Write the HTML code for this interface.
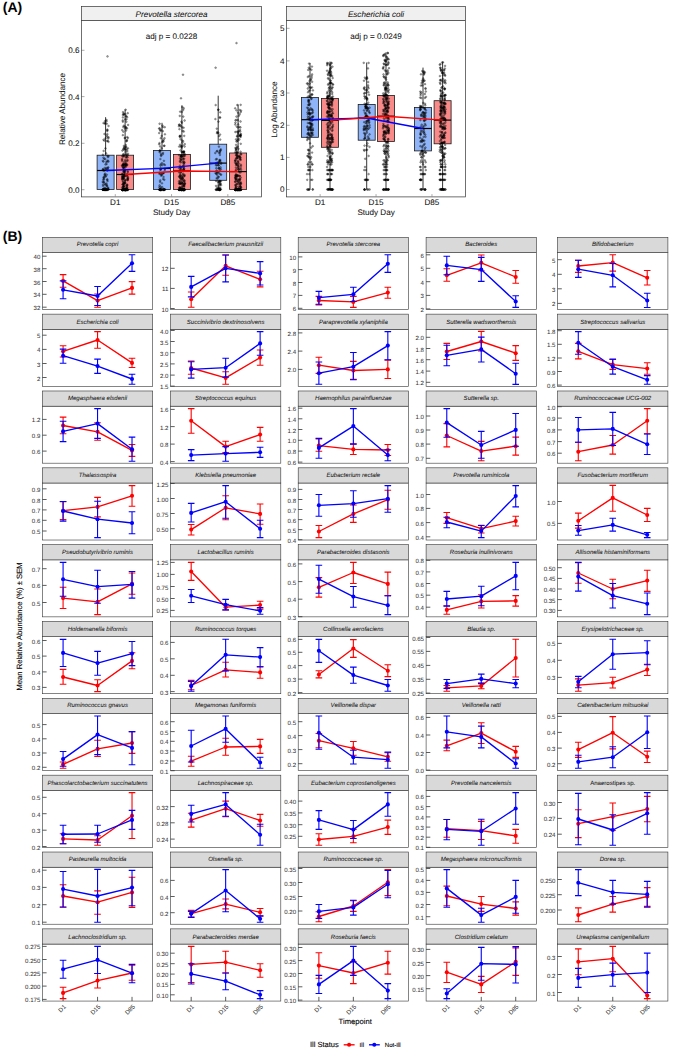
<!DOCTYPE html>
<html><head><meta charset="utf-8"><style>
html,body{margin:0;padding:0;background:#fff;}
svg{display:block;}
text{font-family:"Liberation Sans", sans-serif;text-rendering:geometricPrecision;}
.tk{font-size:6.1px;fill:#333;stroke:#333;stroke-width:0.04px;}
.st{font-size:6.05px;fill:#1a1a1a;font-style:italic;stroke:#1a1a1a;stroke-width:0.06px;}
.ta{font-size:8.1px;fill:#111;stroke:#111;stroke-width:0.06px;}
.sa{font-size:8.1px;fill:#111;font-style:italic;stroke:#111;stroke-width:0.05px;}
.up{font-style:normal;}
.lab{font-size:14px;font-weight:bold;fill:#000;}
.ax{font-size:7.65px;fill:#000;stroke:#000;stroke-width:0.1px;}
.lg{font-size:7.5px;fill:#000;stroke:#000;stroke-width:0.1px;}
.lt{font-size:6.1px;fill:#000;stroke:#000;stroke-width:0.1px;}
</style></head><body>
<svg width="685" height="1048" viewBox="0 0 685 1048">
<rect width="685" height="1048" fill="#fff"/>
<rect x="81.5" y="20.6" width="180.1" height="176.3" fill="#fff"/>
<rect x="286.6" y="20.6" width="178.9" height="176.3" fill="#fff"/>
<line x1="81.5" y1="189.7" x2="84.5" y2="189.7" stroke="#888" stroke-width="0.7"/>
<text x="79.5" y="192.6" class="ta" text-anchor="end">0.0</text>
<line x1="81.5" y1="143.3" x2="84.5" y2="143.3" stroke="#888" stroke-width="0.7"/>
<text x="79.5" y="146.2" class="ta" text-anchor="end">0.2</text>
<line x1="81.5" y1="96.6" x2="84.5" y2="96.6" stroke="#888" stroke-width="0.7"/>
<text x="79.5" y="99.5" class="ta" text-anchor="end">0.4</text>
<line x1="81.5" y1="50.3" x2="84.5" y2="50.3" stroke="#888" stroke-width="0.7"/>
<text x="79.5" y="53.2" class="ta" text-anchor="end">0.6</text>
<line x1="286.6" y1="189.5" x2="289.6" y2="189.5" stroke="#888" stroke-width="0.7"/>
<text x="284.6" y="192.4" class="ta" text-anchor="end">0</text>
<line x1="286.6" y1="157.4" x2="289.6" y2="157.4" stroke="#888" stroke-width="0.7"/>
<text x="284.6" y="160.3" class="ta" text-anchor="end">1</text>
<line x1="286.6" y1="125.3" x2="289.6" y2="125.3" stroke="#888" stroke-width="0.7"/>
<text x="284.6" y="128.2" class="ta" text-anchor="end">2</text>
<line x1="286.6" y1="93" x2="289.6" y2="93" stroke="#888" stroke-width="0.7"/>
<text x="284.6" y="95.9" class="ta" text-anchor="end">3</text>
<line x1="286.6" y1="60.9" x2="289.6" y2="60.9" stroke="#888" stroke-width="0.7"/>
<text x="284.6" y="63.8" class="ta" text-anchor="end">4</text>
<line x1="286.6" y1="28.3" x2="289.6" y2="28.3" stroke="#888" stroke-width="0.7"/>
<text x="284.6" y="31.2" class="ta" text-anchor="end">5</text>
<line x1="105.6" y1="117.2" x2="105.6" y2="189.7" stroke="#000" stroke-width="0.8"/>
<rect x="97.1" y="155.2" width="17" height="34.2" fill="#8fb4f7" stroke="#1a1a1a" stroke-width="0.8"/>
<g fill="#000" fill-opacity="0.35" stroke="#000" stroke-opacity="0.75" stroke-width="0.35"><circle cx="104.54" cy="189.49" r="0.9"/><circle cx="106.51" cy="189.44" r="0.9"/><circle cx="105.82" cy="189.62" r="0.9"/><circle cx="102.95" cy="189.7" r="0.9"/><circle cx="102.82" cy="189.66" r="0.9"/><circle cx="103.02" cy="189.45" r="0.9"/><circle cx="105.15" cy="189.9" r="0.9"/><circle cx="103.34" cy="189.53" r="0.9"/><circle cx="106.36" cy="189.97" r="0.9"/><circle cx="106.06" cy="189.64" r="0.9"/><circle cx="108.46" cy="189.43" r="0.9"/><circle cx="107.75" cy="189.57" r="0.9"/><circle cx="103.47" cy="189.47" r="0.9"/><circle cx="104.45" cy="189.89" r="0.9"/><circle cx="103.68" cy="189.75" r="0.9"/><circle cx="106.43" cy="189.62" r="0.9"/><circle cx="105.89" cy="189.44" r="0.9"/><circle cx="102.96" cy="189.52" r="0.9"/><circle cx="106.68" cy="189.66" r="0.9"/><circle cx="104.48" cy="189.75" r="0.9"/><circle cx="105.32" cy="189.58" r="0.9"/><circle cx="107.37" cy="189.82" r="0.9"/><circle cx="104.06" cy="189.74" r="0.9"/><circle cx="105.75" cy="189.93" r="0.9"/><circle cx="106.98" cy="189.57" r="0.9"/><circle cx="108.48" cy="189.47" r="0.9"/><circle cx="105.11" cy="189.85" r="0.9"/><circle cx="103.51" cy="189.69" r="0.9"/><circle cx="102.84" cy="189.8" r="0.9"/><circle cx="107.19" cy="189.74" r="0.9"/><circle cx="104.48" cy="134.02" r="0.9"/><circle cx="106.17" cy="153.43" r="0.9"/><circle cx="105.34" cy="159.18" r="0.9"/><circle cx="108.27" cy="138.42" r="0.9"/><circle cx="106.58" cy="164.04" r="0.9"/><circle cx="106.81" cy="185.96" r="0.9"/><circle cx="108.56" cy="156.1" r="0.9"/><circle cx="104.31" cy="140.58" r="0.9"/><circle cx="106.61" cy="168.09" r="0.9"/><circle cx="105.37" cy="188.12" r="0.9"/><circle cx="103.3" cy="179.87" r="0.9"/><circle cx="107.21" cy="186.06" r="0.9"/><circle cx="104.09" cy="182.07" r="0.9"/><circle cx="107.83" cy="167.86" r="0.9"/><circle cx="105.3" cy="184.83" r="0.9"/><circle cx="107.9" cy="160.58" r="0.9"/><circle cx="107.78" cy="140.89" r="0.9"/><circle cx="105.09" cy="173.61" r="0.9"/><circle cx="107.91" cy="169.33" r="0.9"/><circle cx="103.51" cy="123.12" r="0.9"/><circle cx="103.99" cy="179.41" r="0.9"/><circle cx="105.51" cy="176.17" r="0.9"/><circle cx="104.18" cy="158.76" r="0.9"/><circle cx="105.11" cy="189.17" r="0.9"/><circle cx="106" cy="168.85" r="0.9"/><circle cx="106.74" cy="123.76" r="0.9"/><circle cx="106.31" cy="162.14" r="0.9"/><circle cx="102.92" cy="154.75" r="0.9"/><circle cx="107.28" cy="130.93" r="0.9"/><circle cx="107.39" cy="134.14" r="0.9"/><circle cx="104.99" cy="167.79" r="0.9"/><circle cx="106.41" cy="183.53" r="0.9"/><circle cx="103" cy="185.87" r="0.9"/><circle cx="103.57" cy="177.56" r="0.9"/><circle cx="102.92" cy="170.19" r="0.9"/><circle cx="103.51" cy="189.39" r="0.9"/><circle cx="104.78" cy="183.65" r="0.9"/><circle cx="107.85" cy="187.95" r="0.9"/><circle cx="103.49" cy="157.61" r="0.9"/><circle cx="104.68" cy="175.1" r="0.9"/><circle cx="103.34" cy="169.08" r="0.9"/><circle cx="108.56" cy="137.33" r="0.9"/><circle cx="105.5" cy="164.41" r="0.9"/><circle cx="103.21" cy="184.53" r="0.9"/><circle cx="104.19" cy="170.07" r="0.9"/><circle cx="103.57" cy="139.76" r="0.9"/><circle cx="108.31" cy="188.09" r="0.9"/><circle cx="103.48" cy="161.55" r="0.9"/><circle cx="102.76" cy="160.87" r="0.9"/><circle cx="108.47" cy="161.56" r="0.9"/><circle cx="106.78" cy="135.55" r="0.9"/><circle cx="104.8" cy="174.59" r="0.9"/><circle cx="107.23" cy="179.93" r="0.9"/><circle cx="107.27" cy="161.35" r="0.9"/><circle cx="103.94" cy="170.71" r="0.9"/><circle cx="108.51" cy="141.79" r="0.9"/><circle cx="107.44" cy="136.88" r="0.9"/><circle cx="107.04" cy="141" r="0.9"/><circle cx="105.71" cy="176.54" r="0.9"/><circle cx="102.77" cy="169.48" r="0.9"/><circle cx="104.28" cy="187.82" r="0.9"/><circle cx="106.76" cy="174.7" r="0.9"/><circle cx="105.28" cy="123.29" r="0.9"/><circle cx="108.53" cy="125.95" r="0.9"/><circle cx="104.79" cy="123.5" r="0.9"/><circle cx="103.96" cy="176.9" r="0.9"/><circle cx="103.83" cy="178.25" r="0.9"/><circle cx="108" cy="157.16" r="0.9"/><circle cx="105.48" cy="138.37" r="0.9"/><circle cx="107.4" cy="155.83" r="0.9"/><circle cx="106.56" cy="184.59" r="0.9"/><circle cx="107.29" cy="129.59" r="0.9"/><circle cx="105.47" cy="148.47" r="0.9"/><circle cx="107.33" cy="179.28" r="0.9"/><circle cx="107.4" cy="170.55" r="0.9"/><circle cx="104.98" cy="121.19" r="0.9"/><circle cx="108.28" cy="167.38" r="0.9"/><circle cx="103.62" cy="150.92" r="0.9"/><circle cx="103.51" cy="182.2" r="0.9"/><circle cx="107.44" cy="130.24" r="0.9"/><circle cx="107.56" cy="181.11" r="0.9"/><circle cx="106.54" cy="119.99" r="0.9"/><circle cx="105.89" cy="169.72" r="0.9"/><circle cx="102.69" cy="181.97" r="0.9"/><circle cx="106.5" cy="121.3" r="0.9"/><circle cx="107.5" cy="56.4" r="0.9"/></g>
<line x1="97.1" y1="170.5" x2="114.1" y2="170.5" stroke="#000" stroke-width="1.2"/>
<line x1="125.1" y1="109.5" x2="125.1" y2="189.7" stroke="#000" stroke-width="0.8"/>
<rect x="116.6" y="155.2" width="17" height="34.2" fill="#f88a8a" stroke="#1a1a1a" stroke-width="0.8"/>
<g fill="#000" fill-opacity="0.35" stroke="#000" stroke-opacity="0.75" stroke-width="0.35"><circle cx="125.26" cy="189.96" r="0.9"/><circle cx="124.7" cy="189.92" r="0.9"/><circle cx="127.06" cy="189.53" r="0.9"/><circle cx="123.61" cy="189.58" r="0.9"/><circle cx="123.54" cy="189.75" r="0.9"/><circle cx="123.66" cy="189.65" r="0.9"/><circle cx="122.89" cy="189.95" r="0.9"/><circle cx="124.22" cy="189.67" r="0.9"/><circle cx="125.6" cy="189.94" r="0.9"/><circle cx="124.62" cy="189.95" r="0.9"/><circle cx="125.11" cy="189.72" r="0.9"/><circle cx="125.24" cy="189.41" r="0.9"/><circle cx="124.74" cy="189.51" r="0.9"/><circle cx="122.12" cy="189.88" r="0.9"/><circle cx="123.13" cy="189.68" r="0.9"/><circle cx="126.45" cy="189.73" r="0.9"/><circle cx="124.06" cy="189.71" r="0.9"/><circle cx="125.43" cy="189.87" r="0.9"/><circle cx="122.74" cy="189.74" r="0.9"/><circle cx="123.59" cy="189.57" r="0.9"/><circle cx="126.73" cy="189.7" r="0.9"/><circle cx="125.47" cy="189.86" r="0.9"/><circle cx="127.57" cy="189.67" r="0.9"/><circle cx="125.78" cy="189.7" r="0.9"/><circle cx="125.17" cy="189.82" r="0.9"/><circle cx="124.81" cy="189.72" r="0.9"/><circle cx="124.97" cy="189.96" r="0.9"/><circle cx="126.3" cy="189.93" r="0.9"/><circle cx="127.75" cy="189.56" r="0.9"/><circle cx="125.46" cy="189.97" r="0.9"/><circle cx="127.14" cy="189.48" r="0.9"/><circle cx="122.83" cy="189.67" r="0.9"/><circle cx="122.54" cy="189.54" r="0.9"/><circle cx="122.54" cy="189.8" r="0.9"/><circle cx="126.8" cy="189.94" r="0.9"/><circle cx="123.03" cy="189.83" r="0.9"/><circle cx="126.06" cy="189.49" r="0.9"/><circle cx="127.4" cy="189.98" r="0.9"/><circle cx="123.42" cy="189.97" r="0.9"/><circle cx="124.49" cy="189.69" r="0.9"/><circle cx="128.04" cy="189.9" r="0.9"/><circle cx="123.07" cy="189.66" r="0.9"/><circle cx="125.19" cy="189.6" r="0.9"/><circle cx="123.27" cy="189.59" r="0.9"/><circle cx="126.43" cy="189.41" r="0.9"/><circle cx="125.42" cy="189.66" r="0.9"/><circle cx="122.21" cy="189.6" r="0.9"/><circle cx="125.84" cy="189.71" r="0.9"/><circle cx="122.49" cy="189.99" r="0.9"/><circle cx="126.83" cy="189.98" r="0.9"/><circle cx="122.73" cy="189.56" r="0.9"/><circle cx="122.34" cy="189.87" r="0.9"/><circle cx="123.72" cy="189.48" r="0.9"/><circle cx="124.63" cy="189.95" r="0.9"/><circle cx="127.01" cy="189.56" r="0.9"/><circle cx="123" cy="189.95" r="0.9"/><circle cx="125.52" cy="189.82" r="0.9"/><circle cx="122.64" cy="189.43" r="0.9"/><circle cx="126.23" cy="189.66" r="0.9"/><circle cx="122.53" cy="189.96" r="0.9"/><circle cx="125.91" cy="189.88" r="0.9"/><circle cx="122.6" cy="189.91" r="0.9"/><circle cx="122.5" cy="189.92" r="0.9"/><circle cx="124.82" cy="189.6" r="0.9"/><circle cx="125.42" cy="189.96" r="0.9"/><circle cx="122.88" cy="177.43" r="0.9"/><circle cx="123.53" cy="163.29" r="0.9"/><circle cx="123.07" cy="184.51" r="0.9"/><circle cx="123.31" cy="187.15" r="0.9"/><circle cx="123.93" cy="175.45" r="0.9"/><circle cx="123.84" cy="145.95" r="0.9"/><circle cx="123.17" cy="164.84" r="0.9"/><circle cx="122.21" cy="173.71" r="0.9"/><circle cx="122.19" cy="178.2" r="0.9"/><circle cx="125.41" cy="149.12" r="0.9"/><circle cx="124.95" cy="180.93" r="0.9"/><circle cx="122.74" cy="120.41" r="0.9"/><circle cx="124.69" cy="138.04" r="0.9"/><circle cx="127.11" cy="165.14" r="0.9"/><circle cx="125.14" cy="171.04" r="0.9"/><circle cx="127.99" cy="153.75" r="0.9"/><circle cx="127.09" cy="173.96" r="0.9"/><circle cx="125.92" cy="151.97" r="0.9"/><circle cx="124.19" cy="170.37" r="0.9"/><circle cx="122.88" cy="186.97" r="0.9"/><circle cx="126.55" cy="186.24" r="0.9"/><circle cx="123.08" cy="177.97" r="0.9"/><circle cx="127.15" cy="185.62" r="0.9"/><circle cx="126.12" cy="130.48" r="0.9"/><circle cx="123.55" cy="176.8" r="0.9"/><circle cx="124.86" cy="176.3" r="0.9"/><circle cx="124.77" cy="182.36" r="0.9"/><circle cx="127.87" cy="177.63" r="0.9"/><circle cx="125.38" cy="114.14" r="0.9"/><circle cx="127.89" cy="178.47" r="0.9"/><circle cx="124.24" cy="175.56" r="0.9"/><circle cx="124.39" cy="189.35" r="0.9"/><circle cx="125.12" cy="166.32" r="0.9"/><circle cx="125.13" cy="180.42" r="0.9"/><circle cx="123.69" cy="189.18" r="0.9"/><circle cx="124.5" cy="185.39" r="0.9"/><circle cx="122.23" cy="187.54" r="0.9"/><circle cx="123.5" cy="175.8" r="0.9"/><circle cx="125.28" cy="159.89" r="0.9"/><circle cx="126.05" cy="147.06" r="0.9"/><circle cx="127.37" cy="151.01" r="0.9"/><circle cx="124.06" cy="171.25" r="0.9"/><circle cx="123" cy="112.1" r="0.9"/><circle cx="125.96" cy="150.12" r="0.9"/><circle cx="127.11" cy="187.44" r="0.9"/><circle cx="125.86" cy="127.2" r="0.9"/><circle cx="126.97" cy="149.03" r="0.9"/><circle cx="125.24" cy="183.17" r="0.9"/><circle cx="127.11" cy="164.6" r="0.9"/><circle cx="127.06" cy="140.02" r="0.9"/><circle cx="127.46" cy="159.98" r="0.9"/><circle cx="126.26" cy="154.15" r="0.9"/><circle cx="122.29" cy="179.12" r="0.9"/><circle cx="124.26" cy="183.45" r="0.9"/><circle cx="127.11" cy="184.71" r="0.9"/><circle cx="125.87" cy="161.46" r="0.9"/><circle cx="126.18" cy="157.54" r="0.9"/><circle cx="122.12" cy="165.47" r="0.9"/><circle cx="126.59" cy="140.98" r="0.9"/><circle cx="125.31" cy="164.68" r="0.9"/><circle cx="122.5" cy="155.63" r="0.9"/><circle cx="123.61" cy="148.69" r="0.9"/><circle cx="123.69" cy="186.07" r="0.9"/><circle cx="123.33" cy="149.54" r="0.9"/><circle cx="127.95" cy="148.33" r="0.9"/><circle cx="124.4" cy="165.2" r="0.9"/><circle cx="126.2" cy="166.07" r="0.9"/><circle cx="125.8" cy="145.01" r="0.9"/><circle cx="122.56" cy="156.58" r="0.9"/><circle cx="123.62" cy="182.81" r="0.9"/><circle cx="123.93" cy="147.93" r="0.9"/><circle cx="122.17" cy="160.93" r="0.9"/><circle cx="123.71" cy="186.69" r="0.9"/><circle cx="126.25" cy="154.94" r="0.9"/><circle cx="123.85" cy="154.7" r="0.9"/><circle cx="124.89" cy="163.89" r="0.9"/><circle cx="122.81" cy="166.8" r="0.9"/><circle cx="123.3" cy="126.93" r="0.9"/><circle cx="127.72" cy="113.22" r="0.9"/><circle cx="124.85" cy="188.62" r="0.9"/><circle cx="127.91" cy="137.9" r="0.9"/><circle cx="123.71" cy="167.78" r="0.9"/><circle cx="127.77" cy="180.02" r="0.9"/><circle cx="125.59" cy="179.98" r="0.9"/><circle cx="125.24" cy="183.06" r="0.9"/><circle cx="122.9" cy="117.45" r="0.9"/><circle cx="125.15" cy="137.86" r="0.9"/><circle cx="126.32" cy="127.98" r="0.9"/><circle cx="127.49" cy="179.06" r="0.9"/><circle cx="122.25" cy="165.65" r="0.9"/><circle cx="125.05" cy="189.24" r="0.9"/><circle cx="123.91" cy="167.7" r="0.9"/><circle cx="124.16" cy="183.11" r="0.9"/><circle cx="127.14" cy="175.27" r="0.9"/><circle cx="126.6" cy="189.32" r="0.9"/><circle cx="122.82" cy="135.15" r="0.9"/><circle cx="126.38" cy="121.74" r="0.9"/><circle cx="123.84" cy="125.69" r="0.9"/><circle cx="124.46" cy="172.25" r="0.9"/><circle cx="125.64" cy="109.71" r="0.9"/><circle cx="124.67" cy="172.91" r="0.9"/><circle cx="122.39" cy="177.1" r="0.9"/><circle cx="127.11" cy="184.85" r="0.9"/><circle cx="127.71" cy="176.63" r="0.9"/><circle cx="123.69" cy="178.26" r="0.9"/><circle cx="123.24" cy="164.22" r="0.9"/><circle cx="127.84" cy="172.18" r="0.9"/><circle cx="126.97" cy="128.38" r="0.9"/><circle cx="127.58" cy="157.27" r="0.9"/><circle cx="125.4" cy="119.43" r="0.9"/><circle cx="122.4" cy="150.62" r="0.9"/><circle cx="124.81" cy="149.2" r="0.9"/><circle cx="125.97" cy="146.8" r="0.9"/><circle cx="122.39" cy="176.61" r="0.9"/><circle cx="122.86" cy="121.68" r="0.9"/><circle cx="124.16" cy="166.46" r="0.9"/><circle cx="126.53" cy="176.09" r="0.9"/><circle cx="123.66" cy="113.53" r="0.9"/><circle cx="123.91" cy="155.82" r="0.9"/><circle cx="124.47" cy="161.53" r="0.9"/><circle cx="123.07" cy="181.92" r="0.9"/><circle cx="127.54" cy="180.11" r="0.9"/><circle cx="123.42" cy="165.02" r="0.9"/><circle cx="128.08" cy="124.95" r="0.9"/><circle cx="122.94" cy="167.75" r="0.9"/><circle cx="122.64" cy="180.8" r="0.9"/><circle cx="122.65" cy="174" r="0.9"/><circle cx="123.65" cy="178.71" r="0.9"/><circle cx="127.42" cy="160.82" r="0.9"/><circle cx="124.58" cy="147.16" r="0.9"/><circle cx="125.25" cy="169.84" r="0.9"/><circle cx="124.13" cy="171.98" r="0.9"/><circle cx="123.77" cy="186.63" r="0.9"/><circle cx="122.86" cy="114.97" r="0.9"/><circle cx="125.88" cy="164.65" r="0.9"/><circle cx="123.4" cy="131.64" r="0.9"/><circle cx="123.59" cy="177.29" r="0.9"/><circle cx="124.78" cy="170.65" r="0.9"/><circle cx="127.19" cy="117.25" r="0.9"/><circle cx="122.23" cy="130.12" r="0.9"/><circle cx="126.36" cy="187.96" r="0.9"/><circle cx="124.94" cy="126.61" r="0.9"/><circle cx="122.1" cy="159.8" r="0.9"/><circle cx="127.66" cy="171.13" r="0.9"/><circle cx="127.23" cy="137.09" r="0.9"/><circle cx="123.59" cy="114.21" r="0.9"/><circle cx="123.03" cy="184.53" r="0.9"/><circle cx="126.19" cy="163.56" r="0.9"/><circle cx="126.43" cy="119.3" r="0.9"/><circle cx="126.69" cy="156.32" r="0.9"/><circle cx="125.41" cy="167.32" r="0.9"/><circle cx="126.79" cy="187.63" r="0.9"/><circle cx="127.62" cy="179" r="0.9"/><circle cx="123.92" cy="156.43" r="0.9"/><circle cx="123.61" cy="183.68" r="0.9"/><circle cx="126.29" cy="156.96" r="0.9"/><circle cx="122.52" cy="184.39" r="0.9"/><circle cx="125.6" cy="163.44" r="0.9"/><circle cx="123.44" cy="171.33" r="0.9"/><circle cx="122.16" cy="159" r="0.9"/><circle cx="124.86" cy="175.92" r="0.9"/><circle cx="125.97" cy="116.42" r="0.9"/><circle cx="124.95" cy="128.46" r="0.9"/><circle cx="123.58" cy="178.91" r="0.9"/><circle cx="126.33" cy="116.15" r="0.9"/><circle cx="122.23" cy="175.66" r="0.9"/><circle cx="126.15" cy="164.95" r="0.9"/><circle cx="123.64" cy="169.48" r="0.9"/><circle cx="127.65" cy="155.18" r="0.9"/><circle cx="122.3" cy="179.26" r="0.9"/><circle cx="124.62" cy="174.23" r="0.9"/><circle cx="123.29" cy="154.18" r="0.9"/><circle cx="126.53" cy="141.06" r="0.9"/><circle cx="123.33" cy="164.57" r="0.9"/><circle cx="123.97" cy="114.61" r="0.9"/></g>
<line x1="116.6" y1="174.5" x2="133.6" y2="174.5" stroke="#000" stroke-width="1.2"/>
<line x1="162" y1="122.8" x2="162" y2="189.7" stroke="#000" stroke-width="0.8"/>
<rect x="153.5" y="150.5" width="17" height="38.9" fill="#8fb4f7" stroke="#1a1a1a" stroke-width="0.8"/>
<g fill="#000" fill-opacity="0.35" stroke="#000" stroke-opacity="0.75" stroke-width="0.35"><circle cx="163.92" cy="189.54" r="0.9"/><circle cx="160.33" cy="189.86" r="0.9"/><circle cx="160.77" cy="189.97" r="0.9"/><circle cx="161.97" cy="189.51" r="0.9"/><circle cx="160.34" cy="189.65" r="0.9"/><circle cx="162.99" cy="189.97" r="0.9"/><circle cx="159.88" cy="189.64" r="0.9"/><circle cx="160.28" cy="189.98" r="0.9"/><circle cx="159.85" cy="189.43" r="0.9"/><circle cx="159.36" cy="189.64" r="0.9"/><circle cx="164.39" cy="189.93" r="0.9"/><circle cx="163.4" cy="190" r="0.9"/><circle cx="164.59" cy="189.6" r="0.9"/><circle cx="160.11" cy="189.96" r="0.9"/><circle cx="163.48" cy="189.42" r="0.9"/><circle cx="162.99" cy="189.63" r="0.9"/><circle cx="161.24" cy="189.6" r="0.9"/><circle cx="160.02" cy="189.4" r="0.9"/><circle cx="160.68" cy="189.61" r="0.9"/><circle cx="164.73" cy="189.47" r="0.9"/><circle cx="164.79" cy="189.52" r="0.9"/><circle cx="161.14" cy="189.89" r="0.9"/><circle cx="163.93" cy="189.66" r="0.9"/><circle cx="159.3" cy="189.68" r="0.9"/><circle cx="161.24" cy="189.95" r="0.9"/><circle cx="160.16" cy="189.62" r="0.9"/><circle cx="159.18" cy="133.05" r="0.9"/><circle cx="163.87" cy="164.24" r="0.9"/><circle cx="159.24" cy="144.35" r="0.9"/><circle cx="159.38" cy="187.2" r="0.9"/><circle cx="160.54" cy="130.84" r="0.9"/><circle cx="164.39" cy="145.8" r="0.9"/><circle cx="160.63" cy="168.09" r="0.9"/><circle cx="162.7" cy="127.12" r="0.9"/><circle cx="163.3" cy="172.88" r="0.9"/><circle cx="160.65" cy="169.46" r="0.9"/><circle cx="163.53" cy="189.16" r="0.9"/><circle cx="162.8" cy="131.19" r="0.9"/><circle cx="159.15" cy="128.56" r="0.9"/><circle cx="161.85" cy="174.67" r="0.9"/><circle cx="164.72" cy="127.21" r="0.9"/><circle cx="160.51" cy="165.54" r="0.9"/><circle cx="161.96" cy="163.21" r="0.9"/><circle cx="160.1" cy="130.06" r="0.9"/><circle cx="163.43" cy="141.48" r="0.9"/><circle cx="163.64" cy="139.77" r="0.9"/><circle cx="160.97" cy="153.69" r="0.9"/><circle cx="161.17" cy="169.27" r="0.9"/><circle cx="159.47" cy="143.13" r="0.9"/><circle cx="163.52" cy="176.97" r="0.9"/><circle cx="159.39" cy="173.82" r="0.9"/><circle cx="162.32" cy="187.27" r="0.9"/><circle cx="164.88" cy="168.88" r="0.9"/><circle cx="164.93" cy="134.32" r="0.9"/><circle cx="159.5" cy="172.71" r="0.9"/><circle cx="161.99" cy="183.33" r="0.9"/><circle cx="161.68" cy="148.35" r="0.9"/><circle cx="161.5" cy="174.65" r="0.9"/><circle cx="163.04" cy="152.99" r="0.9"/><circle cx="164.08" cy="145.75" r="0.9"/><circle cx="159.73" cy="150.62" r="0.9"/><circle cx="160.76" cy="138.19" r="0.9"/><circle cx="161.24" cy="155.86" r="0.9"/><circle cx="160.2" cy="146.46" r="0.9"/><circle cx="160.47" cy="173.81" r="0.9"/><circle cx="164.31" cy="179.74" r="0.9"/><circle cx="160.96" cy="155.25" r="0.9"/><circle cx="164.95" cy="165.03" r="0.9"/><circle cx="160.39" cy="159.06" r="0.9"/><circle cx="162.92" cy="140.99" r="0.9"/><circle cx="159.61" cy="123.74" r="0.9"/><circle cx="163.91" cy="160.81" r="0.9"/><circle cx="164.49" cy="138.22" r="0.9"/><circle cx="160.76" cy="186.86" r="0.9"/><circle cx="160.14" cy="181.89" r="0.9"/><circle cx="162.5" cy="125.58" r="0.9"/><circle cx="161.23" cy="129.85" r="0.9"/><circle cx="161.69" cy="135.92" r="0.9"/><circle cx="163.67" cy="173.02" r="0.9"/><circle cx="159.63" cy="128.32" r="0.9"/><circle cx="162.72" cy="154.29" r="0.9"/><circle cx="161.21" cy="175.69" r="0.9"/><circle cx="160.22" cy="180.49" r="0.9"/><circle cx="162.6" cy="173.34" r="0.9"/><circle cx="160.22" cy="151.31" r="0.9"/><circle cx="160.96" cy="188.68" r="0.9"/><circle cx="160.11" cy="150.08" r="0.9"/><circle cx="160.22" cy="169.73" r="0.9"/><circle cx="162.29" cy="142.08" r="0.9"/><circle cx="159.61" cy="185.41" r="0.9"/><circle cx="162.3" cy="165.07" r="0.9"/><circle cx="159.55" cy="151.98" r="0.9"/><circle cx="163.17" cy="179.09" r="0.9"/><circle cx="160.7" cy="164.29" r="0.9"/><circle cx="164.72" cy="170.02" r="0.9"/></g>
<line x1="153.5" y1="168.4" x2="170.5" y2="168.4" stroke="#000" stroke-width="1.2"/>
<line x1="181.9" y1="105.3" x2="181.9" y2="189.7" stroke="#000" stroke-width="0.8"/>
<rect x="173.4" y="154.4" width="17" height="35" fill="#f88a8a" stroke="#1a1a1a" stroke-width="0.8"/>
<g fill="#000" fill-opacity="0.35" stroke="#000" stroke-opacity="0.75" stroke-width="0.35"><circle cx="180.77" cy="189.74" r="0.9"/><circle cx="181.04" cy="189.65" r="0.9"/><circle cx="184.09" cy="190" r="0.9"/><circle cx="181.08" cy="189.52" r="0.9"/><circle cx="183.27" cy="189.52" r="0.9"/><circle cx="178.94" cy="189.94" r="0.9"/><circle cx="181.44" cy="189.89" r="0.9"/><circle cx="181.34" cy="189.93" r="0.9"/><circle cx="181.67" cy="189.5" r="0.9"/><circle cx="178.99" cy="189.73" r="0.9"/><circle cx="182.74" cy="189.95" r="0.9"/><circle cx="179.43" cy="189.77" r="0.9"/><circle cx="181.13" cy="189.7" r="0.9"/><circle cx="179.78" cy="189.57" r="0.9"/><circle cx="182.03" cy="189.96" r="0.9"/><circle cx="179.55" cy="189.69" r="0.9"/><circle cx="183.73" cy="189.98" r="0.9"/><circle cx="180.08" cy="189.48" r="0.9"/><circle cx="184.56" cy="189.99" r="0.9"/><circle cx="181.8" cy="189.43" r="0.9"/><circle cx="184.46" cy="189.63" r="0.9"/><circle cx="184.33" cy="189.77" r="0.9"/><circle cx="183.85" cy="189.5" r="0.9"/><circle cx="183.61" cy="189.53" r="0.9"/><circle cx="181.33" cy="189.91" r="0.9"/><circle cx="183.88" cy="189.51" r="0.9"/><circle cx="180.21" cy="189.64" r="0.9"/><circle cx="182.01" cy="189.63" r="0.9"/><circle cx="179.64" cy="189.55" r="0.9"/><circle cx="183.25" cy="189.94" r="0.9"/><circle cx="179.15" cy="189.74" r="0.9"/><circle cx="183.44" cy="189.42" r="0.9"/><circle cx="183.93" cy="189.47" r="0.9"/><circle cx="182.5" cy="189.73" r="0.9"/><circle cx="182.66" cy="189.58" r="0.9"/><circle cx="181.42" cy="189.75" r="0.9"/><circle cx="181.45" cy="189.8" r="0.9"/><circle cx="181.58" cy="189.66" r="0.9"/><circle cx="179.04" cy="189.77" r="0.9"/><circle cx="181.84" cy="189.54" r="0.9"/><circle cx="183.48" cy="189.87" r="0.9"/><circle cx="181.65" cy="189.51" r="0.9"/><circle cx="181.74" cy="189.46" r="0.9"/><circle cx="179.67" cy="189.66" r="0.9"/><circle cx="179.45" cy="189.67" r="0.9"/><circle cx="181.96" cy="189.42" r="0.9"/><circle cx="182.72" cy="189.45" r="0.9"/><circle cx="183.3" cy="189.87" r="0.9"/><circle cx="181.97" cy="189.43" r="0.9"/><circle cx="181.92" cy="189.63" r="0.9"/><circle cx="184.61" cy="189.48" r="0.9"/><circle cx="184.04" cy="190" r="0.9"/><circle cx="183.29" cy="189.89" r="0.9"/><circle cx="180.06" cy="189.99" r="0.9"/><circle cx="181.85" cy="189.97" r="0.9"/><circle cx="184.4" cy="189.5" r="0.9"/><circle cx="183.63" cy="189.96" r="0.9"/><circle cx="179.29" cy="189.61" r="0.9"/><circle cx="183.44" cy="189.5" r="0.9"/><circle cx="184.28" cy="189.56" r="0.9"/><circle cx="179.76" cy="136.46" r="0.9"/><circle cx="184.42" cy="162.59" r="0.9"/><circle cx="180.48" cy="177.9" r="0.9"/><circle cx="180.81" cy="162.4" r="0.9"/><circle cx="179.99" cy="187.37" r="0.9"/><circle cx="184.52" cy="180.5" r="0.9"/><circle cx="184.27" cy="153.55" r="0.9"/><circle cx="183.61" cy="180.09" r="0.9"/><circle cx="182.08" cy="183.05" r="0.9"/><circle cx="181.06" cy="155.91" r="0.9"/><circle cx="182.23" cy="127.45" r="0.9"/><circle cx="184.2" cy="158.71" r="0.9"/><circle cx="184.86" cy="183.63" r="0.9"/><circle cx="181.27" cy="156.24" r="0.9"/><circle cx="180.49" cy="139.12" r="0.9"/><circle cx="182.36" cy="107.04" r="0.9"/><circle cx="183.49" cy="169.66" r="0.9"/><circle cx="179.96" cy="165.57" r="0.9"/><circle cx="179.19" cy="146.55" r="0.9"/><circle cx="180.42" cy="135.83" r="0.9"/><circle cx="184.8" cy="155.77" r="0.9"/><circle cx="182.88" cy="158.42" r="0.9"/><circle cx="178.91" cy="172.14" r="0.9"/><circle cx="179.8" cy="187.53" r="0.9"/><circle cx="181.49" cy="156.92" r="0.9"/><circle cx="184.27" cy="162.07" r="0.9"/><circle cx="180.26" cy="182.11" r="0.9"/><circle cx="179.03" cy="155.08" r="0.9"/><circle cx="181.03" cy="189.26" r="0.9"/><circle cx="181.04" cy="183.53" r="0.9"/><circle cx="182.4" cy="177.02" r="0.9"/><circle cx="180.13" cy="158.26" r="0.9"/><circle cx="181.75" cy="156.53" r="0.9"/><circle cx="184.52" cy="181.96" r="0.9"/><circle cx="179.8" cy="175.95" r="0.9"/><circle cx="182.73" cy="184.11" r="0.9"/><circle cx="183.59" cy="127.72" r="0.9"/><circle cx="180.49" cy="167.58" r="0.9"/><circle cx="182.77" cy="188.77" r="0.9"/><circle cx="181" cy="159.6" r="0.9"/><circle cx="181.56" cy="155.45" r="0.9"/><circle cx="183.3" cy="116.58" r="0.9"/><circle cx="184.32" cy="175.68" r="0.9"/><circle cx="182.09" cy="186.97" r="0.9"/><circle cx="180.33" cy="167.38" r="0.9"/><circle cx="183.57" cy="186.18" r="0.9"/><circle cx="182.21" cy="188.72" r="0.9"/><circle cx="179.75" cy="115.93" r="0.9"/><circle cx="182.55" cy="178.39" r="0.9"/><circle cx="182.75" cy="162.35" r="0.9"/><circle cx="179.95" cy="136.8" r="0.9"/><circle cx="180.7" cy="172.32" r="0.9"/><circle cx="184.24" cy="186.72" r="0.9"/><circle cx="183.19" cy="141.23" r="0.9"/><circle cx="183.97" cy="189.05" r="0.9"/><circle cx="181.69" cy="146.34" r="0.9"/><circle cx="181.61" cy="146.78" r="0.9"/><circle cx="179.53" cy="176.93" r="0.9"/><circle cx="179.13" cy="176.58" r="0.9"/><circle cx="183.4" cy="170.89" r="0.9"/><circle cx="183.97" cy="152.14" r="0.9"/><circle cx="180.5" cy="150.38" r="0.9"/><circle cx="181.52" cy="160.02" r="0.9"/><circle cx="182.04" cy="140.45" r="0.9"/><circle cx="182.75" cy="174.76" r="0.9"/><circle cx="180.2" cy="111.63" r="0.9"/><circle cx="178.99" cy="126.29" r="0.9"/><circle cx="180.32" cy="175.03" r="0.9"/><circle cx="184.57" cy="146.51" r="0.9"/><circle cx="180.86" cy="146.22" r="0.9"/><circle cx="180.87" cy="126.27" r="0.9"/><circle cx="184.35" cy="176.2" r="0.9"/><circle cx="183.06" cy="156.19" r="0.9"/><circle cx="184.77" cy="154.47" r="0.9"/><circle cx="183.94" cy="164.22" r="0.9"/><circle cx="184.05" cy="151.88" r="0.9"/><circle cx="183.25" cy="165.83" r="0.9"/><circle cx="180.75" cy="159.2" r="0.9"/><circle cx="182.64" cy="177.7" r="0.9"/><circle cx="184.36" cy="185.11" r="0.9"/><circle cx="179.06" cy="181.42" r="0.9"/><circle cx="184.47" cy="183.51" r="0.9"/><circle cx="179.75" cy="170.43" r="0.9"/><circle cx="179.15" cy="187.81" r="0.9"/><circle cx="182.7" cy="152.38" r="0.9"/><circle cx="183.32" cy="151.95" r="0.9"/><circle cx="182.44" cy="185.77" r="0.9"/><circle cx="183.81" cy="169.5" r="0.9"/><circle cx="184.25" cy="135.87" r="0.9"/><circle cx="184.11" cy="185.76" r="0.9"/><circle cx="184.57" cy="120.52" r="0.9"/><circle cx="180.13" cy="183.49" r="0.9"/><circle cx="179.11" cy="183.22" r="0.9"/><circle cx="183.77" cy="131.51" r="0.9"/><circle cx="183.85" cy="156.02" r="0.9"/><circle cx="180.62" cy="156.15" r="0.9"/><circle cx="179.49" cy="183.89" r="0.9"/><circle cx="180.13" cy="144.75" r="0.9"/><circle cx="181.44" cy="171.78" r="0.9"/><circle cx="180.44" cy="188.25" r="0.9"/><circle cx="183.19" cy="173.8" r="0.9"/><circle cx="180.82" cy="169.27" r="0.9"/><circle cx="181.92" cy="111.84" r="0.9"/><circle cx="182.61" cy="130.93" r="0.9"/><circle cx="181.38" cy="187.69" r="0.9"/><circle cx="183.54" cy="165.86" r="0.9"/><circle cx="183.13" cy="170.33" r="0.9"/><circle cx="180.2" cy="160.81" r="0.9"/><circle cx="179.45" cy="129.19" r="0.9"/><circle cx="179.92" cy="135.83" r="0.9"/><circle cx="180.11" cy="189.33" r="0.9"/><circle cx="184.77" cy="144.11" r="0.9"/><circle cx="181.84" cy="189.16" r="0.9"/><circle cx="183.68" cy="163.12" r="0.9"/><circle cx="181.87" cy="179.21" r="0.9"/><circle cx="183.89" cy="170.31" r="0.9"/><circle cx="184.56" cy="175.02" r="0.9"/><circle cx="180.19" cy="173.74" r="0.9"/><circle cx="181.89" cy="151.69" r="0.9"/><circle cx="182.72" cy="183.33" r="0.9"/><circle cx="183.63" cy="184.94" r="0.9"/><circle cx="183.62" cy="151.93" r="0.9"/><circle cx="181.03" cy="156.33" r="0.9"/><circle cx="181.27" cy="167.62" r="0.9"/><circle cx="179.42" cy="124.57" r="0.9"/><circle cx="179.05" cy="124.9" r="0.9"/><circle cx="180.48" cy="178.02" r="0.9"/><circle cx="181.91" cy="122.76" r="0.9"/><circle cx="184.2" cy="168.71" r="0.9"/><circle cx="181.67" cy="176.51" r="0.9"/><circle cx="183.43" cy="161.13" r="0.9"/><circle cx="182.78" cy="145.33" r="0.9"/><circle cx="180.86" cy="170.25" r="0.9"/><circle cx="183.96" cy="180.83" r="0.9"/><circle cx="183.35" cy="154.63" r="0.9"/><circle cx="181.53" cy="180.04" r="0.9"/><circle cx="182.38" cy="142.57" r="0.9"/><circle cx="181.67" cy="182.44" r="0.9"/><circle cx="180.33" cy="125.45" r="0.9"/><circle cx="180.71" cy="178.83" r="0.9"/><circle cx="183.96" cy="151.31" r="0.9"/><circle cx="179.84" cy="180.87" r="0.9"/><circle cx="180.86" cy="175.73" r="0.9"/><circle cx="179.87" cy="161.6" r="0.9"/><circle cx="180.04" cy="171.29" r="0.9"/><circle cx="183.27" cy="109.83" r="0.9"/><circle cx="184.67" cy="183.78" r="0.9"/><circle cx="181.21" cy="183.79" r="0.9"/><circle cx="183.67" cy="108.26" r="0.9"/><circle cx="181.51" cy="147.84" r="0.9"/><circle cx="182.73" cy="178.57" r="0.9"/><circle cx="180.14" cy="183.5" r="0.9"/><circle cx="179.1" cy="168.26" r="0.9"/><circle cx="183.65" cy="167.73" r="0.9"/><circle cx="181.9" cy="152.3" r="0.9"/><circle cx="181.68" cy="156.11" r="0.9"/><circle cx="182.52" cy="181.57" r="0.9"/><circle cx="183.35" cy="167.45" r="0.9"/><circle cx="181.48" cy="121.61" r="0.9"/><circle cx="183.39" cy="159.02" r="0.9"/><circle cx="183" cy="74.7" r="0.9"/><circle cx="181" cy="98.3" r="0.9"/></g>
<line x1="173.4" y1="171" x2="190.4" y2="171" stroke="#000" stroke-width="1.2"/>
<line x1="218.2" y1="95.7" x2="218.2" y2="189.7" stroke="#000" stroke-width="0.8"/>
<rect x="209.7" y="144.2" width="17" height="36.1" fill="#8fb4f7" stroke="#1a1a1a" stroke-width="0.8"/>
<g fill="#000" fill-opacity="0.35" stroke="#000" stroke-opacity="0.75" stroke-width="0.35"><circle cx="217.73" cy="189.54" r="0.9"/><circle cx="219.53" cy="189.93" r="0.9"/><circle cx="219.84" cy="189.82" r="0.9"/><circle cx="220.31" cy="189.81" r="0.9"/><circle cx="219.05" cy="189.67" r="0.9"/><circle cx="217.08" cy="189.78" r="0.9"/><circle cx="215.79" cy="189.65" r="0.9"/><circle cx="219.89" cy="189.83" r="0.9"/><circle cx="218.98" cy="189.55" r="0.9"/><circle cx="217.74" cy="189.67" r="0.9"/><circle cx="218.93" cy="189.65" r="0.9"/><circle cx="219.25" cy="189.96" r="0.9"/><circle cx="216.3" cy="189.79" r="0.9"/><circle cx="219.87" cy="189.63" r="0.9"/><circle cx="221.05" cy="163.8" r="0.9"/><circle cx="218.46" cy="188.27" r="0.9"/><circle cx="219.89" cy="183.65" r="0.9"/><circle cx="218.32" cy="109.65" r="0.9"/><circle cx="218.65" cy="185.9" r="0.9"/><circle cx="219.5" cy="160" r="0.9"/><circle cx="219.04" cy="162.18" r="0.9"/><circle cx="218.33" cy="132.71" r="0.9"/><circle cx="220.89" cy="169.27" r="0.9"/><circle cx="219.31" cy="181.8" r="0.9"/><circle cx="219.78" cy="170.5" r="0.9"/><circle cx="221.11" cy="185.1" r="0.9"/><circle cx="215.54" cy="173.04" r="0.9"/><circle cx="217.6" cy="178.62" r="0.9"/><circle cx="217.71" cy="189.2" r="0.9"/><circle cx="219.39" cy="168.57" r="0.9"/><circle cx="216.79" cy="173.27" r="0.9"/><circle cx="219.65" cy="181.26" r="0.9"/><circle cx="218.36" cy="109.8" r="0.9"/><circle cx="220.01" cy="181.47" r="0.9"/><circle cx="216.47" cy="170.53" r="0.9"/><circle cx="219.86" cy="184.84" r="0.9"/><circle cx="219.01" cy="136.13" r="0.9"/><circle cx="218.57" cy="165.22" r="0.9"/><circle cx="220.98" cy="181.2" r="0.9"/><circle cx="219.03" cy="173.2" r="0.9"/><circle cx="220.1" cy="134.54" r="0.9"/><circle cx="216.97" cy="165.29" r="0.9"/><circle cx="215.95" cy="159.45" r="0.9"/><circle cx="217.33" cy="131.84" r="0.9"/><circle cx="216.8" cy="128.64" r="0.9"/><circle cx="216.72" cy="171.62" r="0.9"/><circle cx="216.32" cy="168.18" r="0.9"/><circle cx="219.53" cy="189.6" r="0.9"/><circle cx="216.67" cy="178.15" r="0.9"/><circle cx="218.08" cy="176.73" r="0.9"/><circle cx="219.02" cy="168.02" r="0.9"/><circle cx="217.37" cy="151.06" r="0.9"/><circle cx="220.33" cy="112.32" r="0.9"/><circle cx="220.17" cy="187.55" r="0.9"/><circle cx="219.9" cy="117.34" r="0.9"/><circle cx="220.19" cy="184.42" r="0.9"/><circle cx="215.29" cy="153.03" r="0.9"/><circle cx="220.91" cy="189.27" r="0.9"/><circle cx="216.7" cy="151.31" r="0.9"/><circle cx="216.06" cy="185.88" r="0.9"/><circle cx="219.86" cy="180.92" r="0.9"/><circle cx="216.12" cy="173.66" r="0.9"/><circle cx="219.95" cy="117.71" r="0.9"/><circle cx="220.55" cy="183.39" r="0.9"/><circle cx="219.89" cy="154.91" r="0.9"/><circle cx="220.56" cy="150.36" r="0.9"/><circle cx="220.23" cy="139.59" r="0.9"/><circle cx="219.36" cy="182.28" r="0.9"/><circle cx="219.65" cy="160.77" r="0.9"/><circle cx="220.5" cy="167.33" r="0.9"/><circle cx="216.79" cy="158.94" r="0.9"/><circle cx="216.04" cy="180.89" r="0.9"/><circle cx="215.55" cy="163.58" r="0.9"/><circle cx="216.07" cy="165.36" r="0.9"/><circle cx="218.19" cy="163.69" r="0.9"/><circle cx="220.38" cy="160.11" r="0.9"/><circle cx="220.24" cy="189.45" r="0.9"/><circle cx="218.58" cy="165.3" r="0.9"/><circle cx="220.24" cy="150.6" r="0.9"/><circle cx="217.71" cy="171.7" r="0.9"/><circle cx="215.65" cy="105.06" r="0.9"/><circle cx="219.02" cy="152.74" r="0.9"/><circle cx="218.86" cy="188.63" r="0.9"/><circle cx="220.79" cy="149.3" r="0.9"/><circle cx="221.09" cy="174.76" r="0.9"/><circle cx="218.11" cy="162.3" r="0.9"/><circle cx="215.4" cy="119.11" r="0.9"/><circle cx="218.95" cy="146.61" r="0.9"/><circle cx="220.37" cy="174.2" r="0.9"/><circle cx="218.05" cy="172.31" r="0.9"/><circle cx="219.82" cy="161.17" r="0.9"/><circle cx="217.81" cy="181.78" r="0.9"/><circle cx="218.52" cy="168.44" r="0.9"/><circle cx="216.96" cy="133.12" r="0.9"/><circle cx="217.62" cy="132.94" r="0.9"/><circle cx="216.83" cy="162.82" r="0.9"/><circle cx="221.05" cy="162.61" r="0.9"/><circle cx="219.95" cy="151.42" r="0.9"/><circle cx="217.1" cy="174.73" r="0.9"/><circle cx="218.72" cy="176.91" r="0.9"/><circle cx="219.91" cy="152.91" r="0.9"/><circle cx="219.54" cy="188.19" r="0.9"/><circle cx="218.47" cy="121.62" r="0.9"/><circle cx="217" cy="187.83" r="0.9"/><circle cx="216.34" cy="189.47" r="0.9"/><circle cx="215.6" cy="67.7" r="0.9"/></g>
<line x1="209.7" y1="163.1" x2="226.7" y2="163.1" stroke="#000" stroke-width="1.2"/>
<line x1="238.1" y1="104.5" x2="238.1" y2="189.7" stroke="#000" stroke-width="0.8"/>
<rect x="229.6" y="153" width="17" height="36.4" fill="#f88a8a" stroke="#1a1a1a" stroke-width="0.8"/>
<g fill="#000" fill-opacity="0.35" stroke="#000" stroke-opacity="0.75" stroke-width="0.35"><circle cx="240.63" cy="189.77" r="0.9"/><circle cx="239.05" cy="189.87" r="0.9"/><circle cx="240.56" cy="189.77" r="0.9"/><circle cx="238.8" cy="189.78" r="0.9"/><circle cx="239.28" cy="189.76" r="0.9"/><circle cx="239.19" cy="189.53" r="0.9"/><circle cx="239.1" cy="189.67" r="0.9"/><circle cx="239.68" cy="189.46" r="0.9"/><circle cx="236.19" cy="189.42" r="0.9"/><circle cx="239.75" cy="189.95" r="0.9"/><circle cx="239.03" cy="189.62" r="0.9"/><circle cx="240.04" cy="189.87" r="0.9"/><circle cx="238.47" cy="189.55" r="0.9"/><circle cx="236.91" cy="189.65" r="0.9"/><circle cx="237.01" cy="189.66" r="0.9"/><circle cx="238.95" cy="189.96" r="0.9"/><circle cx="235.43" cy="189.74" r="0.9"/><circle cx="235.34" cy="189.47" r="0.9"/><circle cx="239.96" cy="189.75" r="0.9"/><circle cx="240.61" cy="189.67" r="0.9"/><circle cx="235.18" cy="189.63" r="0.9"/><circle cx="238.65" cy="189.96" r="0.9"/><circle cx="240.98" cy="189.69" r="0.9"/><circle cx="237.57" cy="189.46" r="0.9"/><circle cx="238.97" cy="189.53" r="0.9"/><circle cx="236.01" cy="189.41" r="0.9"/><circle cx="235.13" cy="189.81" r="0.9"/><circle cx="235.83" cy="189.98" r="0.9"/><circle cx="235.63" cy="189.92" r="0.9"/><circle cx="235.87" cy="189.41" r="0.9"/><circle cx="239.42" cy="189.55" r="0.9"/><circle cx="239.5" cy="189.51" r="0.9"/><circle cx="235.4" cy="189.86" r="0.9"/><circle cx="239.38" cy="189.91" r="0.9"/><circle cx="239.48" cy="189.45" r="0.9"/><circle cx="238.87" cy="189.83" r="0.9"/><circle cx="237.86" cy="189.96" r="0.9"/><circle cx="236.62" cy="189.98" r="0.9"/><circle cx="239.4" cy="189.41" r="0.9"/><circle cx="235.19" cy="189.79" r="0.9"/><circle cx="240" cy="189.45" r="0.9"/><circle cx="236.97" cy="189.84" r="0.9"/><circle cx="236.1" cy="189.92" r="0.9"/><circle cx="238.02" cy="189.44" r="0.9"/><circle cx="237.31" cy="189.74" r="0.9"/><circle cx="237.73" cy="189.81" r="0.9"/><circle cx="235.97" cy="189.88" r="0.9"/><circle cx="237.28" cy="189.79" r="0.9"/><circle cx="238.88" cy="189.65" r="0.9"/><circle cx="237.41" cy="189.87" r="0.9"/><circle cx="240.77" cy="189.87" r="0.9"/><circle cx="238.5" cy="189.58" r="0.9"/><circle cx="235.46" cy="189.98" r="0.9"/><circle cx="239.32" cy="189.9" r="0.9"/><circle cx="237.09" cy="189.76" r="0.9"/><circle cx="240.96" cy="189.9" r="0.9"/><circle cx="238.71" cy="189.59" r="0.9"/><circle cx="237.67" cy="189.93" r="0.9"/><circle cx="237.36" cy="189.81" r="0.9"/><circle cx="238.71" cy="189.94" r="0.9"/><circle cx="239.94" cy="189.57" r="0.9"/><circle cx="235.11" cy="189.56" r="0.9"/><circle cx="238.62" cy="166.62" r="0.9"/><circle cx="240.42" cy="135.23" r="0.9"/><circle cx="240.1" cy="187.14" r="0.9"/><circle cx="240.3" cy="135.85" r="0.9"/><circle cx="236.74" cy="158.29" r="0.9"/><circle cx="239.94" cy="129.84" r="0.9"/><circle cx="240.58" cy="151.74" r="0.9"/><circle cx="235.61" cy="170.85" r="0.9"/><circle cx="239.88" cy="159.3" r="0.9"/><circle cx="239.6" cy="178.7" r="0.9"/><circle cx="236.5" cy="116.58" r="0.9"/><circle cx="239.17" cy="156.34" r="0.9"/><circle cx="236.34" cy="164.23" r="0.9"/><circle cx="239.61" cy="175.8" r="0.9"/><circle cx="237.86" cy="138.77" r="0.9"/><circle cx="239.94" cy="184.72" r="0.9"/><circle cx="236.5" cy="141.49" r="0.9"/><circle cx="240.48" cy="157.86" r="0.9"/><circle cx="238.23" cy="124.41" r="0.9"/><circle cx="238.64" cy="163.61" r="0.9"/><circle cx="236.25" cy="179.3" r="0.9"/><circle cx="239.31" cy="179.75" r="0.9"/><circle cx="238.49" cy="169.95" r="0.9"/><circle cx="238.2" cy="167.74" r="0.9"/><circle cx="235.37" cy="181.44" r="0.9"/><circle cx="237.34" cy="105.02" r="0.9"/><circle cx="238.9" cy="183.73" r="0.9"/><circle cx="236.04" cy="139.38" r="0.9"/><circle cx="237.17" cy="156.88" r="0.9"/><circle cx="235.22" cy="161.21" r="0.9"/><circle cx="241.04" cy="187.61" r="0.9"/><circle cx="238.02" cy="127.48" r="0.9"/><circle cx="236.67" cy="158.55" r="0.9"/><circle cx="237.66" cy="140.52" r="0.9"/><circle cx="239.7" cy="114.03" r="0.9"/><circle cx="240.88" cy="134.8" r="0.9"/><circle cx="235.33" cy="175.84" r="0.9"/><circle cx="236.18" cy="178.67" r="0.9"/><circle cx="235.41" cy="184.93" r="0.9"/><circle cx="240.32" cy="159.1" r="0.9"/><circle cx="240.78" cy="164.63" r="0.9"/><circle cx="235.49" cy="120.29" r="0.9"/><circle cx="237.48" cy="156.83" r="0.9"/><circle cx="240.86" cy="183" r="0.9"/><circle cx="238.49" cy="175.67" r="0.9"/><circle cx="240.84" cy="154.45" r="0.9"/><circle cx="237.46" cy="152.86" r="0.9"/><circle cx="236.06" cy="165.18" r="0.9"/><circle cx="241.05" cy="110.64" r="0.9"/><circle cx="235.33" cy="177.56" r="0.9"/><circle cx="237.21" cy="175.74" r="0.9"/><circle cx="240.53" cy="121.49" r="0.9"/><circle cx="235.38" cy="132.01" r="0.9"/><circle cx="239.36" cy="139.52" r="0.9"/><circle cx="241.01" cy="154.11" r="0.9"/><circle cx="235.97" cy="186.42" r="0.9"/><circle cx="240.74" cy="143.78" r="0.9"/><circle cx="236.89" cy="152.38" r="0.9"/><circle cx="239.65" cy="157.2" r="0.9"/><circle cx="237.04" cy="183.77" r="0.9"/><circle cx="235.84" cy="175.68" r="0.9"/><circle cx="236.11" cy="163.34" r="0.9"/><circle cx="235.96" cy="176.67" r="0.9"/><circle cx="235.18" cy="152.32" r="0.9"/><circle cx="236.27" cy="148.41" r="0.9"/><circle cx="240.67" cy="187.48" r="0.9"/><circle cx="240.7" cy="177.62" r="0.9"/><circle cx="240.43" cy="127.38" r="0.9"/><circle cx="237.78" cy="181.94" r="0.9"/><circle cx="240.67" cy="184.22" r="0.9"/><circle cx="238.87" cy="131.24" r="0.9"/><circle cx="237.14" cy="164.96" r="0.9"/><circle cx="237.97" cy="134.17" r="0.9"/><circle cx="235.96" cy="155.15" r="0.9"/><circle cx="235.44" cy="177.56" r="0.9"/><circle cx="238.42" cy="148.8" r="0.9"/><circle cx="240.32" cy="181.67" r="0.9"/><circle cx="237.57" cy="175.17" r="0.9"/><circle cx="236.73" cy="181.09" r="0.9"/><circle cx="237.11" cy="131.65" r="0.9"/><circle cx="238.05" cy="180.44" r="0.9"/><circle cx="240.52" cy="172.42" r="0.9"/><circle cx="240.97" cy="183.3" r="0.9"/><circle cx="240.47" cy="186.36" r="0.9"/><circle cx="236.37" cy="152.94" r="0.9"/><circle cx="236.82" cy="163.56" r="0.9"/><circle cx="236.31" cy="175.63" r="0.9"/><circle cx="241.05" cy="169.87" r="0.9"/><circle cx="240.65" cy="104.85" r="0.9"/><circle cx="236.84" cy="184.19" r="0.9"/><circle cx="235.44" cy="122.58" r="0.9"/><circle cx="236.86" cy="147.34" r="0.9"/><circle cx="235.2" cy="108.35" r="0.9"/><circle cx="237.15" cy="136.55" r="0.9"/><circle cx="235.11" cy="181.92" r="0.9"/><circle cx="238.26" cy="132.77" r="0.9"/><circle cx="237.71" cy="179.48" r="0.9"/><circle cx="236.41" cy="119.94" r="0.9"/><circle cx="235.93" cy="158.32" r="0.9"/><circle cx="239.72" cy="179.78" r="0.9"/><circle cx="236.28" cy="149.04" r="0.9"/><circle cx="235.62" cy="185.17" r="0.9"/><circle cx="238.07" cy="156.24" r="0.9"/><circle cx="236.34" cy="174.77" r="0.9"/><circle cx="239.35" cy="156.03" r="0.9"/><circle cx="238.6" cy="135.88" r="0.9"/><circle cx="235.49" cy="178.6" r="0.9"/><circle cx="237.55" cy="146.59" r="0.9"/><circle cx="235.43" cy="147.9" r="0.9"/><circle cx="237.11" cy="136.02" r="0.9"/><circle cx="240.29" cy="131.29" r="0.9"/><circle cx="235.19" cy="162.69" r="0.9"/><circle cx="237.96" cy="120.24" r="0.9"/><circle cx="236.7" cy="126.53" r="0.9"/><circle cx="240.09" cy="179.46" r="0.9"/><circle cx="236.08" cy="169.72" r="0.9"/><circle cx="238.67" cy="169.49" r="0.9"/><circle cx="238.22" cy="189.15" r="0.9"/><circle cx="238.19" cy="165.33" r="0.9"/><circle cx="239.39" cy="182.95" r="0.9"/><circle cx="240.29" cy="135.14" r="0.9"/><circle cx="239.37" cy="172.26" r="0.9"/><circle cx="239.61" cy="168.92" r="0.9"/><circle cx="240.34" cy="186.13" r="0.9"/><circle cx="238.07" cy="112.71" r="0.9"/><circle cx="238.28" cy="161.56" r="0.9"/><circle cx="235.22" cy="160.22" r="0.9"/><circle cx="236.44" cy="110.35" r="0.9"/><circle cx="235.72" cy="179.66" r="0.9"/><circle cx="240" cy="176.03" r="0.9"/><circle cx="235.68" cy="187.79" r="0.9"/><circle cx="236.27" cy="150.38" r="0.9"/><circle cx="238.7" cy="188.46" r="0.9"/><circle cx="238.24" cy="158.03" r="0.9"/><circle cx="235.72" cy="150" r="0.9"/><circle cx="239.4" cy="126.93" r="0.9"/><circle cx="235.84" cy="186.99" r="0.9"/><circle cx="238.1" cy="162.66" r="0.9"/><circle cx="235.83" cy="174.47" r="0.9"/><circle cx="235.92" cy="167.56" r="0.9"/><circle cx="240.27" cy="157.18" r="0.9"/><circle cx="238.54" cy="181.54" r="0.9"/><circle cx="236.09" cy="144.86" r="0.9"/><circle cx="240.73" cy="133.72" r="0.9"/><circle cx="237.62" cy="168.51" r="0.9"/><circle cx="238.25" cy="131.63" r="0.9"/><circle cx="240.75" cy="168.12" r="0.9"/><circle cx="237.13" cy="140.84" r="0.9"/><circle cx="237.11" cy="176.56" r="0.9"/><circle cx="240.99" cy="165.89" r="0.9"/><circle cx="240.58" cy="136.94" r="0.9"/><circle cx="240.19" cy="135.37" r="0.9"/><circle cx="238.2" cy="186.54" r="0.9"/><circle cx="240.71" cy="112.04" r="0.9"/><circle cx="237.63" cy="176.09" r="0.9"/><circle cx="237.29" cy="154.9" r="0.9"/><circle cx="235.52" cy="160.58" r="0.9"/><circle cx="238.13" cy="166.04" r="0.9"/><circle cx="235.94" cy="188.29" r="0.9"/><circle cx="239.76" cy="109.95" r="0.9"/><circle cx="238.9" cy="115.68" r="0.9"/><circle cx="240.41" cy="136.22" r="0.9"/><circle cx="235.31" cy="124.48" r="0.9"/><circle cx="236.69" cy="154.4" r="0.9"/><circle cx="236.74" cy="152.26" r="0.9"/><circle cx="240.65" cy="159.94" r="0.9"/><circle cx="236.6" cy="155.53" r="0.9"/><circle cx="237.7" cy="161.17" r="0.9"/><circle cx="236.5" cy="43.1" r="0.9"/></g>
<line x1="229.6" y1="171.6" x2="246.6" y2="171.6" stroke="#000" stroke-width="1.2"/>
<line x1="310" y1="62.9" x2="310" y2="189.5" stroke="#000" stroke-width="0.8"/>
<rect x="301.5" y="97.5" width="17" height="39.8" fill="#8fb4f7" stroke="#1a1a1a" stroke-width="0.8"/>
<g fill="#000" fill-opacity="0.35" stroke="#000" stroke-opacity="0.75" stroke-width="0.35"><circle cx="312.71" cy="189.37" r="0.9"/><circle cx="308.83" cy="189.59" r="0.9"/><circle cx="307.72" cy="189.56" r="0.9"/><circle cx="312.74" cy="189.51" r="0.9"/><circle cx="309.8" cy="136" r="0.9"/><circle cx="307.89" cy="116.7" r="0.9"/><circle cx="307.79" cy="164.41" r="0.9"/><circle cx="309.44" cy="134.23" r="0.9"/><circle cx="308.46" cy="134.6" r="0.9"/><circle cx="310.28" cy="170.09" r="0.9"/><circle cx="310.66" cy="87.89" r="0.9"/><circle cx="310.9" cy="113.47" r="0.9"/><circle cx="311.26" cy="147.55" r="0.9"/><circle cx="310.29" cy="122.45" r="0.9"/><circle cx="309.81" cy="109.68" r="0.9"/><circle cx="308.45" cy="133.04" r="0.9"/><circle cx="310.07" cy="143.35" r="0.9"/><circle cx="310.51" cy="127.92" r="0.9"/><circle cx="309.12" cy="189.5" r="0.9"/><circle cx="308.43" cy="84.84" r="0.9"/><circle cx="309.95" cy="114.67" r="0.9"/><circle cx="312.93" cy="134.85" r="0.9"/><circle cx="311.63" cy="134.1" r="0.9"/><circle cx="307.4" cy="155.93" r="0.9"/><circle cx="309.64" cy="83.49" r="0.9"/><circle cx="309.33" cy="174.12" r="0.9"/><circle cx="311.41" cy="123.93" r="0.9"/><circle cx="308.35" cy="166.97" r="0.9"/><circle cx="311.43" cy="69.79" r="0.9"/><circle cx="309.02" cy="157.26" r="0.9"/><circle cx="311.05" cy="130.09" r="0.9"/><circle cx="312.1" cy="109.37" r="0.9"/><circle cx="310.11" cy="90.3" r="0.9"/><circle cx="311.46" cy="98.5" r="0.9"/><circle cx="309.85" cy="96.9" r="0.9"/><circle cx="311.25" cy="94.54" r="0.9"/><circle cx="307.76" cy="76.96" r="0.9"/><circle cx="307.03" cy="83.56" r="0.9"/><circle cx="310.52" cy="96.41" r="0.9"/><circle cx="312.78" cy="119.85" r="0.9"/><circle cx="309.51" cy="113.31" r="0.9"/><circle cx="312.24" cy="94.68" r="0.9"/><circle cx="309.28" cy="110.17" r="0.9"/><circle cx="309.75" cy="123.06" r="0.9"/><circle cx="308.76" cy="99.89" r="0.9"/><circle cx="310.33" cy="127.4" r="0.9"/><circle cx="308.93" cy="127.83" r="0.9"/><circle cx="312.1" cy="94.32" r="0.9"/><circle cx="309.66" cy="119.73" r="0.9"/><circle cx="308.82" cy="150.68" r="0.9"/><circle cx="310.45" cy="158.74" r="0.9"/><circle cx="307.53" cy="112.46" r="0.9"/><circle cx="308.94" cy="76.11" r="0.9"/><circle cx="312.03" cy="87.4" r="0.9"/><circle cx="308.23" cy="69.88" r="0.9"/><circle cx="312.46" cy="124.88" r="0.9"/><circle cx="307.28" cy="189.5" r="0.9"/><circle cx="309.98" cy="113.93" r="0.9"/><circle cx="311.64" cy="76.09" r="0.9"/><circle cx="312.99" cy="116.28" r="0.9"/><circle cx="310.1" cy="118.15" r="0.9"/><circle cx="309.34" cy="103.25" r="0.9"/><circle cx="310.57" cy="129.72" r="0.9"/><circle cx="312.69" cy="130.18" r="0.9"/><circle cx="310.15" cy="104.03" r="0.9"/><circle cx="309.25" cy="170.09" r="0.9"/><circle cx="310.37" cy="126.68" r="0.9"/><circle cx="312.28" cy="113.12" r="0.9"/><circle cx="309.92" cy="68.93" r="0.9"/><circle cx="310.75" cy="123.91" r="0.9"/><circle cx="309.06" cy="63.57" r="0.9"/><circle cx="311.9" cy="117.02" r="0.9"/><circle cx="308.91" cy="153.59" r="0.9"/><circle cx="311.96" cy="66.59" r="0.9"/><circle cx="307.66" cy="118.58" r="0.9"/><circle cx="311.14" cy="80.06" r="0.9"/><circle cx="312.94" cy="90.38" r="0.9"/><circle cx="309.53" cy="81.02" r="0.9"/><circle cx="308.74" cy="157.26" r="0.9"/><circle cx="310.03" cy="118.67" r="0.9"/><circle cx="308.09" cy="149.83" r="0.9"/><circle cx="310.62" cy="108.15" r="0.9"/><circle cx="312.96" cy="130.04" r="0.9"/><circle cx="307.25" cy="107.58" r="0.9"/><circle cx="311.73" cy="125.94" r="0.9"/><circle cx="311.14" cy="133.31" r="0.9"/><circle cx="308.83" cy="189.5" r="0.9"/><circle cx="310.52" cy="87.56" r="0.9"/><circle cx="308.18" cy="104.77" r="0.9"/><circle cx="310.32" cy="119.85" r="0.9"/><circle cx="310.88" cy="136.17" r="0.9"/><circle cx="312.98" cy="116.9" r="0.9"/><circle cx="309.47" cy="113.09" r="0.9"/><circle cx="307.94" cy="164.41" r="0.9"/><circle cx="307.64" cy="96.92" r="0.9"/><circle cx="308.02" cy="170.09" r="0.9"/><circle cx="311.94" cy="117.7" r="0.9"/><circle cx="311.84" cy="109.67" r="0.9"/><circle cx="307.07" cy="174.12" r="0.9"/><circle cx="308.94" cy="95.97" r="0.9"/><circle cx="309.12" cy="100.57" r="0.9"/><circle cx="308.6" cy="153.59" r="0.9"/><circle cx="312.42" cy="170.09" r="0.9"/><circle cx="309.09" cy="112.4" r="0.9"/><circle cx="309.31" cy="123.23" r="0.9"/><circle cx="312.34" cy="179.79" r="0.9"/><circle cx="312.76" cy="112.36" r="0.9"/><circle cx="310.72" cy="123.95" r="0.9"/><circle cx="307.26" cy="137.44" r="0.9"/><circle cx="312.13" cy="74.42" r="0.9"/><circle cx="312.39" cy="132.74" r="0.9"/><circle cx="308.82" cy="90.96" r="0.9"/><circle cx="312.76" cy="110.59" r="0.9"/><circle cx="312.7" cy="120.01" r="0.9"/><circle cx="309.34" cy="138.78" r="0.9"/><circle cx="308.33" cy="100.3" r="0.9"/><circle cx="312.25" cy="133.14" r="0.9"/><circle cx="311.76" cy="120.8" r="0.9"/><circle cx="308.04" cy="138.68" r="0.9"/><circle cx="308.12" cy="129.67" r="0.9"/><circle cx="308.74" cy="67.75" r="0.9"/><circle cx="307.69" cy="114.24" r="0.9"/><circle cx="309.31" cy="116.7" r="0.9"/><circle cx="307.39" cy="126.51" r="0.9"/><circle cx="311.95" cy="164.41" r="0.9"/><circle cx="308.47" cy="130.17" r="0.9"/><circle cx="308.7" cy="149.83" r="0.9"/><circle cx="307.21" cy="139.98" r="0.9"/><circle cx="309.05" cy="105.11" r="0.9"/><circle cx="311.24" cy="157.26" r="0.9"/><circle cx="308.62" cy="170.09" r="0.9"/><circle cx="307.77" cy="88.52" r="0.9"/><circle cx="312.02" cy="123.69" r="0.9"/><circle cx="307.96" cy="92.29" r="0.9"/><circle cx="311.33" cy="130.05" r="0.9"/><circle cx="312.75" cy="128.37" r="0.9"/><circle cx="312.71" cy="146.22" r="0.9"/><circle cx="308.36" cy="119.27" r="0.9"/><circle cx="307.79" cy="123.03" r="0.9"/><circle cx="308.56" cy="101.37" r="0.9"/><circle cx="310.53" cy="79.29" r="0.9"/><circle cx="308.48" cy="128.99" r="0.9"/><circle cx="308.28" cy="110.09" r="0.9"/><circle cx="307.74" cy="83.33" r="0.9"/><circle cx="310.26" cy="118.54" r="0.9"/><circle cx="311.63" cy="135.86" r="0.9"/><circle cx="310.95" cy="127.81" r="0.9"/><circle cx="308.86" cy="113.69" r="0.9"/><circle cx="307.52" cy="127.45" r="0.9"/><circle cx="312.11" cy="152.55" r="0.9"/><circle cx="310.98" cy="132.3" r="0.9"/><circle cx="310.37" cy="166.97" r="0.9"/><circle cx="310" cy="129.45" r="0.9"/><circle cx="307.4" cy="133.99" r="0.9"/><circle cx="308.36" cy="132.99" r="0.9"/><circle cx="311.3" cy="162.25" r="0.9"/><circle cx="309.42" cy="135.02" r="0.9"/><circle cx="311.65" cy="77.86" r="0.9"/><circle cx="312.17" cy="81.82" r="0.9"/><circle cx="308.66" cy="162.25" r="0.9"/><circle cx="311.08" cy="179.79" r="0.9"/><circle cx="309.11" cy="105.17" r="0.9"/><circle cx="310.95" cy="125.86" r="0.9"/><circle cx="308.49" cy="102.01" r="0.9"/><circle cx="309.11" cy="86.94" r="0.9"/><circle cx="308.09" cy="108.26" r="0.9"/><circle cx="312.48" cy="164.41" r="0.9"/><circle cx="311.28" cy="98.92" r="0.9"/><circle cx="307.24" cy="179.79" r="0.9"/><circle cx="308.19" cy="155.93" r="0.9"/></g>
<line x1="301.5" y1="119.7" x2="318.5" y2="119.7" stroke="#000" stroke-width="1.2"/>
<line x1="330" y1="61.5" x2="330" y2="189.5" stroke="#000" stroke-width="0.8"/>
<rect x="321.5" y="98.4" width="17" height="48.9" fill="#f88a8a" stroke="#1a1a1a" stroke-width="0.8"/>
<g fill="#000" fill-opacity="0.35" stroke="#000" stroke-opacity="0.75" stroke-width="0.35"><circle cx="328.82" cy="189.43" r="0.9"/><circle cx="327.24" cy="189.39" r="0.9"/><circle cx="330.83" cy="189.31" r="0.9"/><circle cx="332.04" cy="189.54" r="0.9"/><circle cx="331.3" cy="189.35" r="0.9"/><circle cx="329.61" cy="189.61" r="0.9"/><circle cx="329.09" cy="189.2" r="0.9"/><circle cx="332.01" cy="189.67" r="0.9"/><circle cx="328.72" cy="189.23" r="0.9"/><circle cx="330.64" cy="86.05" r="0.9"/><circle cx="328.47" cy="179.79" r="0.9"/><circle cx="331.75" cy="170.09" r="0.9"/><circle cx="332.49" cy="153.59" r="0.9"/><circle cx="327.52" cy="98.44" r="0.9"/><circle cx="329.36" cy="103.27" r="0.9"/><circle cx="331.97" cy="98.61" r="0.9"/><circle cx="327.54" cy="143.88" r="0.9"/><circle cx="329.54" cy="71.12" r="0.9"/><circle cx="331.15" cy="73.89" r="0.9"/><circle cx="331.98" cy="99.4" r="0.9"/><circle cx="329.72" cy="109.13" r="0.9"/><circle cx="331.19" cy="179.79" r="0.9"/><circle cx="330.07" cy="128.11" r="0.9"/><circle cx="327.77" cy="74.24" r="0.9"/><circle cx="327.26" cy="97.58" r="0.9"/><circle cx="331.83" cy="102.56" r="0.9"/><circle cx="330.28" cy="146.22" r="0.9"/><circle cx="330.83" cy="67.05" r="0.9"/><circle cx="328.5" cy="116.53" r="0.9"/><circle cx="329.15" cy="179.79" r="0.9"/><circle cx="328.21" cy="129.91" r="0.9"/><circle cx="327.82" cy="140.78" r="0.9"/><circle cx="331.02" cy="102.19" r="0.9"/><circle cx="328.45" cy="149.03" r="0.9"/><circle cx="329.67" cy="119.05" r="0.9"/><circle cx="329.11" cy="72.93" r="0.9"/><circle cx="332.31" cy="141.88" r="0.9"/><circle cx="330.38" cy="164.41" r="0.9"/><circle cx="331.89" cy="138.31" r="0.9"/><circle cx="331.56" cy="116.15" r="0.9"/><circle cx="331" cy="160.38" r="0.9"/><circle cx="329.77" cy="111.72" r="0.9"/><circle cx="331.99" cy="97.2" r="0.9"/><circle cx="328.74" cy="170.09" r="0.9"/><circle cx="328.24" cy="135.41" r="0.9"/><circle cx="328.69" cy="179.79" r="0.9"/><circle cx="331.21" cy="155.93" r="0.9"/><circle cx="327.68" cy="125.99" r="0.9"/><circle cx="329.81" cy="139.29" r="0.9"/><circle cx="328.01" cy="135.14" r="0.9"/><circle cx="327.06" cy="179.79" r="0.9"/><circle cx="331.5" cy="62.95" r="0.9"/><circle cx="331.3" cy="174.12" r="0.9"/><circle cx="330.38" cy="65.11" r="0.9"/><circle cx="329.93" cy="170.09" r="0.9"/><circle cx="328.14" cy="127.48" r="0.9"/><circle cx="327.05" cy="116.61" r="0.9"/><circle cx="330.87" cy="75.69" r="0.9"/><circle cx="332.61" cy="109.16" r="0.9"/><circle cx="328.51" cy="106.97" r="0.9"/><circle cx="327.83" cy="148.27" r="0.9"/><circle cx="331.65" cy="189.5" r="0.9"/><circle cx="328.78" cy="88.17" r="0.9"/><circle cx="330.83" cy="158.74" r="0.9"/><circle cx="332.56" cy="87.29" r="0.9"/><circle cx="331.71" cy="160.38" r="0.9"/><circle cx="331.45" cy="89.46" r="0.9"/><circle cx="328.11" cy="139.05" r="0.9"/><circle cx="328.92" cy="90.16" r="0.9"/><circle cx="330.31" cy="134.55" r="0.9"/><circle cx="331.99" cy="134.47" r="0.9"/><circle cx="327.25" cy="149.03" r="0.9"/><circle cx="330.77" cy="114.52" r="0.9"/><circle cx="331.23" cy="90.92" r="0.9"/><circle cx="332.67" cy="78.07" r="0.9"/><circle cx="330" cy="121" r="0.9"/><circle cx="328.8" cy="162.25" r="0.9"/><circle cx="327.48" cy="113.26" r="0.9"/><circle cx="327.98" cy="103.86" r="0.9"/><circle cx="332.82" cy="126.51" r="0.9"/><circle cx="327.24" cy="174.12" r="0.9"/><circle cx="328.14" cy="126.91" r="0.9"/><circle cx="327.02" cy="100.78" r="0.9"/><circle cx="332.13" cy="87.99" r="0.9"/><circle cx="329.55" cy="95.02" r="0.9"/><circle cx="330.97" cy="143.88" r="0.9"/><circle cx="329.53" cy="119.11" r="0.9"/><circle cx="329.63" cy="137.76" r="0.9"/><circle cx="331.96" cy="105.78" r="0.9"/><circle cx="327.99" cy="78.26" r="0.9"/><circle cx="329.66" cy="142.35" r="0.9"/><circle cx="329.09" cy="114.82" r="0.9"/><circle cx="327.51" cy="155.93" r="0.9"/><circle cx="329.76" cy="139.37" r="0.9"/><circle cx="332.45" cy="66.72" r="0.9"/><circle cx="332.85" cy="84.36" r="0.9"/><circle cx="330.72" cy="68.4" r="0.9"/><circle cx="327.36" cy="92.05" r="0.9"/><circle cx="330.65" cy="104.87" r="0.9"/><circle cx="330.43" cy="142.35" r="0.9"/><circle cx="329.88" cy="69.99" r="0.9"/><circle cx="328.8" cy="107.43" r="0.9"/><circle cx="332.31" cy="137.25" r="0.9"/><circle cx="328.13" cy="189.5" r="0.9"/><circle cx="329.68" cy="104.68" r="0.9"/><circle cx="330.96" cy="174.12" r="0.9"/><circle cx="330.48" cy="134.17" r="0.9"/><circle cx="330.18" cy="129.4" r="0.9"/><circle cx="329.38" cy="114.7" r="0.9"/><circle cx="328.08" cy="170.09" r="0.9"/><circle cx="330.29" cy="80.53" r="0.9"/><circle cx="332.17" cy="170.09" r="0.9"/><circle cx="327.57" cy="146.87" r="0.9"/><circle cx="328.51" cy="117.69" r="0.9"/><circle cx="330.32" cy="121.55" r="0.9"/><circle cx="330.44" cy="151.58" r="0.9"/><circle cx="330.08" cy="170.09" r="0.9"/><circle cx="327.48" cy="112.62" r="0.9"/><circle cx="327.44" cy="130.3" r="0.9"/><circle cx="332.18" cy="126.91" r="0.9"/><circle cx="331.29" cy="115.95" r="0.9"/><circle cx="327.69" cy="97.98" r="0.9"/><circle cx="331.33" cy="63.22" r="0.9"/><circle cx="331.98" cy="174.12" r="0.9"/><circle cx="328.03" cy="132.02" r="0.9"/><circle cx="330.38" cy="68.72" r="0.9"/><circle cx="327.82" cy="96.33" r="0.9"/><circle cx="327.35" cy="96.2" r="0.9"/><circle cx="329.23" cy="149.83" r="0.9"/><circle cx="330.57" cy="189.5" r="0.9"/><circle cx="328.8" cy="153.59" r="0.9"/><circle cx="329.56" cy="102.15" r="0.9"/><circle cx="330.73" cy="80.74" r="0.9"/><circle cx="330.38" cy="83.33" r="0.9"/><circle cx="332.22" cy="76.03" r="0.9"/><circle cx="331.47" cy="160.38" r="0.9"/><circle cx="331.58" cy="137.47" r="0.9"/><circle cx="331.95" cy="104.51" r="0.9"/><circle cx="329.24" cy="170.09" r="0.9"/><circle cx="332.69" cy="99.52" r="0.9"/><circle cx="327.26" cy="100.88" r="0.9"/><circle cx="327.6" cy="111.27" r="0.9"/><circle cx="331.82" cy="116.1" r="0.9"/><circle cx="332.55" cy="170.09" r="0.9"/><circle cx="328.53" cy="104.98" r="0.9"/><circle cx="329.68" cy="157.26" r="0.9"/><circle cx="330.49" cy="88.37" r="0.9"/><circle cx="327.13" cy="170.09" r="0.9"/><circle cx="331.8" cy="170.09" r="0.9"/><circle cx="330.33" cy="158.74" r="0.9"/><circle cx="331.12" cy="142.84" r="0.9"/><circle cx="327.87" cy="133.22" r="0.9"/><circle cx="330.23" cy="82.82" r="0.9"/><circle cx="331.85" cy="103.72" r="0.9"/><circle cx="327.08" cy="70.7" r="0.9"/><circle cx="327.91" cy="137.36" r="0.9"/><circle cx="332.24" cy="120.24" r="0.9"/><circle cx="327.21" cy="93.41" r="0.9"/><circle cx="331.91" cy="158.74" r="0.9"/><circle cx="329.36" cy="104.6" r="0.9"/><circle cx="327.95" cy="123.01" r="0.9"/><circle cx="329.36" cy="87.37" r="0.9"/><circle cx="330.67" cy="83.19" r="0.9"/><circle cx="328.98" cy="179.79" r="0.9"/><circle cx="332.36" cy="152.55" r="0.9"/><circle cx="327.26" cy="112.55" r="0.9"/><circle cx="329.17" cy="160.38" r="0.9"/><circle cx="330.46" cy="123.87" r="0.9"/><circle cx="329.12" cy="132.46" r="0.9"/><circle cx="330.47" cy="189.5" r="0.9"/><circle cx="327.12" cy="138.29" r="0.9"/><circle cx="332.92" cy="124.77" r="0.9"/><circle cx="327.87" cy="179.79" r="0.9"/><circle cx="328.64" cy="105.35" r="0.9"/><circle cx="330" cy="145" r="0.9"/><circle cx="330.41" cy="146.22" r="0.9"/><circle cx="332.74" cy="117.92" r="0.9"/><circle cx="327.2" cy="62.94" r="0.9"/><circle cx="331.63" cy="115.06" r="0.9"/><circle cx="331.65" cy="83.29" r="0.9"/><circle cx="330.81" cy="108.69" r="0.9"/><circle cx="328.69" cy="135.15" r="0.9"/><circle cx="332.24" cy="94.04" r="0.9"/><circle cx="331.09" cy="72.45" r="0.9"/><circle cx="331.58" cy="141.49" r="0.9"/><circle cx="330.05" cy="99.32" r="0.9"/><circle cx="329.1" cy="108.5" r="0.9"/><circle cx="329.44" cy="115.93" r="0.9"/><circle cx="329.02" cy="179.79" r="0.9"/><circle cx="332.93" cy="139.42" r="0.9"/><circle cx="329.2" cy="122.39" r="0.9"/><circle cx="328.41" cy="148.27" r="0.9"/><circle cx="327.81" cy="136.62" r="0.9"/><circle cx="332.23" cy="189.5" r="0.9"/><circle cx="329.67" cy="125.44" r="0.9"/><circle cx="328.81" cy="114.35" r="0.9"/><circle cx="327.4" cy="160.38" r="0.9"/><circle cx="328.85" cy="141.76" r="0.9"/><circle cx="330.31" cy="100.45" r="0.9"/><circle cx="329.04" cy="72.66" r="0.9"/><circle cx="330.5" cy="75.41" r="0.9"/><circle cx="328.07" cy="174.12" r="0.9"/><circle cx="332.92" cy="113.32" r="0.9"/><circle cx="331.65" cy="135.79" r="0.9"/><circle cx="332.21" cy="128.12" r="0.9"/><circle cx="329.91" cy="179.79" r="0.9"/><circle cx="328.66" cy="79.06" r="0.9"/><circle cx="327.14" cy="146.22" r="0.9"/><circle cx="328.61" cy="162.25" r="0.9"/><circle cx="328.31" cy="102.41" r="0.9"/><circle cx="328.2" cy="131.21" r="0.9"/><circle cx="332.18" cy="111.34" r="0.9"/><circle cx="328.18" cy="107.37" r="0.9"/><circle cx="332.78" cy="99.82" r="0.9"/><circle cx="327.48" cy="111.51" r="0.9"/><circle cx="332.25" cy="92.27" r="0.9"/><circle cx="327.82" cy="137.49" r="0.9"/><circle cx="330.22" cy="157.26" r="0.9"/><circle cx="330.84" cy="82.82" r="0.9"/><circle cx="328.27" cy="75.13" r="0.9"/><circle cx="331.5" cy="139.04" r="0.9"/><circle cx="329.43" cy="107.29" r="0.9"/><circle cx="329.03" cy="104.65" r="0.9"/><circle cx="329.49" cy="179.79" r="0.9"/><circle cx="330.76" cy="179.79" r="0.9"/><circle cx="329.97" cy="138.21" r="0.9"/><circle cx="328.54" cy="111.79" r="0.9"/><circle cx="327.08" cy="124.34" r="0.9"/><circle cx="330.38" cy="74.72" r="0.9"/><circle cx="327.34" cy="63.79" r="0.9"/><circle cx="331.34" cy="110.37" r="0.9"/><circle cx="327.56" cy="138.78" r="0.9"/><circle cx="327.86" cy="162.25" r="0.9"/><circle cx="327.54" cy="97.1" r="0.9"/><circle cx="329.54" cy="91.68" r="0.9"/><circle cx="330.53" cy="117" r="0.9"/><circle cx="330.94" cy="115.56" r="0.9"/><circle cx="328.99" cy="111.46" r="0.9"/><circle cx="328.55" cy="99.18" r="0.9"/><circle cx="331.58" cy="101.79" r="0.9"/><circle cx="328.86" cy="96.22" r="0.9"/><circle cx="332.86" cy="96.57" r="0.9"/><circle cx="328.67" cy="125.44" r="0.9"/><circle cx="332.65" cy="118.35" r="0.9"/><circle cx="327.05" cy="166.97" r="0.9"/><circle cx="330.93" cy="123.01" r="0.9"/><circle cx="329.17" cy="96.41" r="0.9"/><circle cx="328.37" cy="63.42" r="0.9"/><circle cx="327.54" cy="98.01" r="0.9"/><circle cx="327.8" cy="189.5" r="0.9"/><circle cx="330.01" cy="179.79" r="0.9"/><circle cx="328.09" cy="115.54" r="0.9"/><circle cx="329.19" cy="72.26" r="0.9"/><circle cx="328.06" cy="164.41" r="0.9"/><circle cx="332.53" cy="99.48" r="0.9"/><circle cx="327.17" cy="162.25" r="0.9"/><circle cx="328.46" cy="96" r="0.9"/><circle cx="329.99" cy="64.73" r="0.9"/><circle cx="329.07" cy="108.42" r="0.9"/><circle cx="329.76" cy="93.4" r="0.9"/><circle cx="332.42" cy="139.36" r="0.9"/><circle cx="331.4" cy="170.09" r="0.9"/><circle cx="330.87" cy="179.79" r="0.9"/><circle cx="332.18" cy="130.96" r="0.9"/><circle cx="330.39" cy="179.79" r="0.9"/><circle cx="332.51" cy="130.09" r="0.9"/><circle cx="330.76" cy="71.36" r="0.9"/><circle cx="328.51" cy="151.58" r="0.9"/><circle cx="329.6" cy="146.22" r="0.9"/><circle cx="328.22" cy="150.68" r="0.9"/><circle cx="330.86" cy="97.81" r="0.9"/><circle cx="332.97" cy="141.88" r="0.9"/><circle cx="330.42" cy="152.55" r="0.9"/><circle cx="332.18" cy="162.25" r="0.9"/><circle cx="328.6" cy="83.77" r="0.9"/><circle cx="331.94" cy="98.34" r="0.9"/><circle cx="328.99" cy="143.88" r="0.9"/><circle cx="332.35" cy="121.95" r="0.9"/><circle cx="331.1" cy="162.25" r="0.9"/><circle cx="329.72" cy="111.81" r="0.9"/><circle cx="332.3" cy="113.43" r="0.9"/><circle cx="332.3" cy="153.59" r="0.9"/><circle cx="331.68" cy="135.42" r="0.9"/><circle cx="328.09" cy="84.67" r="0.9"/><circle cx="332.97" cy="84.58" r="0.9"/><circle cx="327.15" cy="142.35" r="0.9"/><circle cx="332.85" cy="170.09" r="0.9"/><circle cx="332.47" cy="189.5" r="0.9"/><circle cx="331.42" cy="164.41" r="0.9"/><circle cx="328.01" cy="174.12" r="0.9"/><circle cx="327.54" cy="104.32" r="0.9"/><circle cx="332.51" cy="137.67" r="0.9"/><circle cx="332.29" cy="101.36" r="0.9"/><circle cx="327.2" cy="65.22" r="0.9"/><circle cx="331.75" cy="149.83" r="0.9"/><circle cx="327.23" cy="103.73" r="0.9"/><circle cx="328.39" cy="119.98" r="0.9"/><circle cx="327.63" cy="127.88" r="0.9"/><circle cx="332.94" cy="189.5" r="0.9"/><circle cx="332.27" cy="140.15" r="0.9"/></g>
<line x1="321.5" y1="120.4" x2="338.5" y2="120.4" stroke="#000" stroke-width="1.2"/>
<line x1="366.7" y1="62.5" x2="366.7" y2="189.5" stroke="#000" stroke-width="0.8"/>
<rect x="358.2" y="104.4" width="17" height="35.8" fill="#8fb4f7" stroke="#1a1a1a" stroke-width="0.8"/>
<g fill="#000" fill-opacity="0.35" stroke="#000" stroke-opacity="0.75" stroke-width="0.35"><circle cx="364.42" cy="189.49" r="0.9"/><circle cx="364.51" cy="189.46" r="0.9"/><circle cx="364.77" cy="189.61" r="0.9"/><circle cx="364.59" cy="189.64" r="0.9"/><circle cx="364.37" cy="117.96" r="0.9"/><circle cx="366.68" cy="131" r="0.9"/><circle cx="365.8" cy="78.78" r="0.9"/><circle cx="369.51" cy="146.87" r="0.9"/><circle cx="368.09" cy="85.34" r="0.9"/><circle cx="364.76" cy="138.16" r="0.9"/><circle cx="364.11" cy="138.9" r="0.9"/><circle cx="366.75" cy="179.79" r="0.9"/><circle cx="367.04" cy="126.16" r="0.9"/><circle cx="363.76" cy="130.2" r="0.9"/><circle cx="367.62" cy="107.76" r="0.9"/><circle cx="366.99" cy="115.61" r="0.9"/><circle cx="369.59" cy="107.65" r="0.9"/><circle cx="368.01" cy="86.95" r="0.9"/><circle cx="365.61" cy="126.94" r="0.9"/><circle cx="369.54" cy="125.18" r="0.9"/><circle cx="366.01" cy="128.03" r="0.9"/><circle cx="364.56" cy="125.99" r="0.9"/><circle cx="363.73" cy="62.84" r="0.9"/><circle cx="369.26" cy="112.13" r="0.9"/><circle cx="367.37" cy="139.79" r="0.9"/><circle cx="365.14" cy="128.93" r="0.9"/><circle cx="364.4" cy="150.68" r="0.9"/><circle cx="368.4" cy="92.22" r="0.9"/><circle cx="364" cy="80.69" r="0.9"/><circle cx="365.65" cy="107.44" r="0.9"/><circle cx="366.99" cy="110.05" r="0.9"/><circle cx="369.53" cy="134.37" r="0.9"/><circle cx="368.18" cy="189.5" r="0.9"/><circle cx="366.76" cy="90.49" r="0.9"/><circle cx="369.67" cy="112.98" r="0.9"/><circle cx="367.48" cy="143.35" r="0.9"/><circle cx="365.97" cy="104.76" r="0.9"/><circle cx="366.06" cy="106.46" r="0.9"/><circle cx="367.38" cy="116.57" r="0.9"/><circle cx="365.63" cy="108.36" r="0.9"/><circle cx="366.96" cy="110.99" r="0.9"/><circle cx="367.38" cy="145.6" r="0.9"/><circle cx="369.15" cy="138.87" r="0.9"/><circle cx="368.03" cy="120.37" r="0.9"/><circle cx="366.56" cy="116.8" r="0.9"/><circle cx="364.55" cy="145.6" r="0.9"/><circle cx="366.87" cy="77.13" r="0.9"/><circle cx="366.86" cy="116.7" r="0.9"/><circle cx="365.13" cy="96.87" r="0.9"/><circle cx="368.63" cy="155.93" r="0.9"/><circle cx="367.54" cy="121.53" r="0.9"/><circle cx="369.06" cy="94.72" r="0.9"/><circle cx="363.96" cy="88.05" r="0.9"/><circle cx="368.69" cy="128.54" r="0.9"/><circle cx="364.44" cy="96.2" r="0.9"/><circle cx="365.21" cy="158.74" r="0.9"/><circle cx="365.84" cy="170.09" r="0.9"/><circle cx="366.83" cy="98.34" r="0.9"/><circle cx="364.23" cy="122.19" r="0.9"/><circle cx="369.68" cy="127.28" r="0.9"/><circle cx="366.4" cy="107.39" r="0.9"/><circle cx="368.49" cy="119.92" r="0.9"/><circle cx="364.6" cy="103.76" r="0.9"/><circle cx="365.9" cy="108.2" r="0.9"/><circle cx="365.13" cy="116.87" r="0.9"/><circle cx="365.74" cy="129.48" r="0.9"/><circle cx="363.81" cy="128.56" r="0.9"/><circle cx="367.12" cy="149.83" r="0.9"/><circle cx="364.77" cy="179.79" r="0.9"/><circle cx="365.35" cy="106.13" r="0.9"/><circle cx="365.15" cy="133.63" r="0.9"/><circle cx="364.25" cy="93.66" r="0.9"/><circle cx="368.85" cy="110.59" r="0.9"/><circle cx="366.24" cy="149.83" r="0.9"/><circle cx="367.41" cy="99.85" r="0.9"/><circle cx="363.96" cy="129.4" r="0.9"/><circle cx="365.9" cy="123.1" r="0.9"/><circle cx="365.47" cy="106.44" r="0.9"/><circle cx="367.59" cy="126.18" r="0.9"/><circle cx="365.81" cy="97.24" r="0.9"/><circle cx="367.17" cy="128.18" r="0.9"/><circle cx="364.85" cy="77.61" r="0.9"/><circle cx="367.97" cy="68.41" r="0.9"/><circle cx="367.69" cy="129.33" r="0.9"/><circle cx="364.12" cy="133.14" r="0.9"/><circle cx="365.98" cy="104" r="0.9"/><circle cx="366.68" cy="116.6" r="0.9"/><circle cx="368.24" cy="82.03" r="0.9"/><circle cx="367.26" cy="189.5" r="0.9"/><circle cx="366.47" cy="121.33" r="0.9"/><circle cx="366.19" cy="92.78" r="0.9"/><circle cx="369.04" cy="120.34" r="0.9"/><circle cx="366.65" cy="123.34" r="0.9"/><circle cx="368.65" cy="117.36" r="0.9"/><circle cx="368.14" cy="108.73" r="0.9"/><circle cx="363.94" cy="126.73" r="0.9"/><circle cx="367.02" cy="108.22" r="0.9"/><circle cx="368.32" cy="102.7" r="0.9"/><circle cx="365.02" cy="166.97" r="0.9"/><circle cx="368.6" cy="174.12" r="0.9"/><circle cx="364.23" cy="170.09" r="0.9"/><circle cx="367.09" cy="104.21" r="0.9"/><circle cx="367.79" cy="179.79" r="0.9"/><circle cx="366.6" cy="106.52" r="0.9"/><circle cx="367.85" cy="179.79" r="0.9"/><circle cx="367.2" cy="125.29" r="0.9"/><circle cx="368.6" cy="62.9" r="0.9"/><circle cx="364.57" cy="87.32" r="0.9"/><circle cx="366.81" cy="132.71" r="0.9"/><circle cx="369.63" cy="189.5" r="0.9"/><circle cx="365.27" cy="138.01" r="0.9"/><circle cx="365.23" cy="134.6" r="0.9"/><circle cx="367.03" cy="89.58" r="0.9"/><circle cx="366.22" cy="117.4" r="0.9"/><circle cx="365.53" cy="179.79" r="0.9"/><circle cx="368.51" cy="88.22" r="0.9"/><circle cx="365.24" cy="89.96" r="0.9"/><circle cx="364.01" cy="149.83" r="0.9"/><circle cx="365.94" cy="116" r="0.9"/><circle cx="366.63" cy="121.18" r="0.9"/><circle cx="365.89" cy="113.44" r="0.9"/><circle cx="364.9" cy="98.59" r="0.9"/><circle cx="367.04" cy="78.64" r="0.9"/><circle cx="365.59" cy="179.79" r="0.9"/><circle cx="366.15" cy="116.2" r="0.9"/><circle cx="365.64" cy="114.47" r="0.9"/><circle cx="368.48" cy="138.11" r="0.9"/><circle cx="367.96" cy="136.51" r="0.9"/><circle cx="367.25" cy="98.45" r="0.9"/><circle cx="369.31" cy="122.03" r="0.9"/><circle cx="368.97" cy="122.89" r="0.9"/><circle cx="366.3" cy="179.79" r="0.9"/><circle cx="363.99" cy="110.42" r="0.9"/><circle cx="364.13" cy="88.93" r="0.9"/><circle cx="364.78" cy="112.76" r="0.9"/><circle cx="367.07" cy="78.07" r="0.9"/><circle cx="366.69" cy="98.7" r="0.9"/><circle cx="367.75" cy="108.54" r="0.9"/><circle cx="364.97" cy="136.21" r="0.9"/><circle cx="364.57" cy="92.99" r="0.9"/></g>
<line x1="358.2" y1="118" x2="375.2" y2="118" stroke="#000" stroke-width="1.2"/>
<line x1="386" y1="52.3" x2="386" y2="189.5" stroke="#000" stroke-width="0.8"/>
<rect x="377.5" y="95.4" width="17" height="46" fill="#f88a8a" stroke="#1a1a1a" stroke-width="0.8"/>
<g fill="#000" fill-opacity="0.35" stroke="#000" stroke-opacity="0.75" stroke-width="0.35"><circle cx="388.51" cy="189.32" r="0.9"/><circle cx="383.61" cy="189.26" r="0.9"/><circle cx="387.71" cy="189.77" r="0.9"/><circle cx="385.49" cy="189.6" r="0.9"/><circle cx="384.55" cy="189.74" r="0.9"/><circle cx="387.12" cy="189.29" r="0.9"/><circle cx="383.34" cy="189.62" r="0.9"/><circle cx="383.25" cy="189.7" r="0.9"/><circle cx="384.76" cy="189.34" r="0.9"/><circle cx="386.49" cy="189.39" r="0.9"/><circle cx="383.92" cy="111.16" r="0.9"/><circle cx="384.95" cy="70.36" r="0.9"/><circle cx="383.91" cy="83.16" r="0.9"/><circle cx="388.88" cy="89.73" r="0.9"/><circle cx="383.2" cy="127.14" r="0.9"/><circle cx="386.84" cy="128.3" r="0.9"/><circle cx="386.27" cy="146.22" r="0.9"/><circle cx="385.79" cy="170.09" r="0.9"/><circle cx="385.58" cy="97.21" r="0.9"/><circle cx="383.69" cy="101.31" r="0.9"/><circle cx="383.73" cy="85.27" r="0.9"/><circle cx="388.98" cy="68.14" r="0.9"/><circle cx="386.16" cy="64.93" r="0.9"/><circle cx="385.09" cy="137.29" r="0.9"/><circle cx="385.98" cy="95.39" r="0.9"/><circle cx="383.56" cy="66.85" r="0.9"/><circle cx="388.18" cy="117.74" r="0.9"/><circle cx="386.24" cy="108.06" r="0.9"/><circle cx="383.84" cy="174.12" r="0.9"/><circle cx="388.36" cy="139.27" r="0.9"/><circle cx="384.36" cy="82.47" r="0.9"/><circle cx="383.19" cy="67.88" r="0.9"/><circle cx="388.8" cy="107.98" r="0.9"/><circle cx="388.67" cy="131.89" r="0.9"/><circle cx="383.3" cy="103.18" r="0.9"/><circle cx="385.7" cy="133.02" r="0.9"/><circle cx="387.45" cy="141.88" r="0.9"/><circle cx="387.73" cy="154.71" r="0.9"/><circle cx="383.42" cy="136.54" r="0.9"/><circle cx="383.57" cy="111.28" r="0.9"/><circle cx="387.73" cy="111.91" r="0.9"/><circle cx="385.77" cy="108.25" r="0.9"/><circle cx="386.08" cy="179.79" r="0.9"/><circle cx="386.88" cy="170.09" r="0.9"/><circle cx="386.47" cy="164.41" r="0.9"/><circle cx="385.25" cy="131.03" r="0.9"/><circle cx="383.98" cy="102.63" r="0.9"/><circle cx="388.65" cy="157.26" r="0.9"/><circle cx="388.05" cy="133.17" r="0.9"/><circle cx="385.88" cy="77.56" r="0.9"/><circle cx="383.56" cy="160.38" r="0.9"/><circle cx="383.7" cy="76.54" r="0.9"/><circle cx="386.22" cy="116.59" r="0.9"/><circle cx="385.81" cy="166.97" r="0.9"/><circle cx="386.21" cy="157.26" r="0.9"/><circle cx="385.2" cy="115.64" r="0.9"/><circle cx="385.42" cy="151.58" r="0.9"/><circle cx="383.76" cy="150.68" r="0.9"/><circle cx="388.23" cy="143.35" r="0.9"/><circle cx="388.34" cy="116.05" r="0.9"/><circle cx="388.66" cy="189.5" r="0.9"/><circle cx="387.75" cy="117.37" r="0.9"/><circle cx="387.13" cy="110.34" r="0.9"/><circle cx="387.5" cy="145.6" r="0.9"/><circle cx="384.59" cy="160.38" r="0.9"/><circle cx="385.36" cy="179.79" r="0.9"/><circle cx="384.75" cy="114.69" r="0.9"/><circle cx="383.51" cy="74.43" r="0.9"/><circle cx="384.4" cy="109.67" r="0.9"/><circle cx="387.7" cy="108.27" r="0.9"/><circle cx="383.37" cy="98.66" r="0.9"/><circle cx="386.6" cy="142.35" r="0.9"/><circle cx="383.25" cy="55.94" r="0.9"/><circle cx="387.15" cy="106.36" r="0.9"/><circle cx="385.05" cy="87.45" r="0.9"/><circle cx="385.77" cy="88.08" r="0.9"/><circle cx="383.06" cy="68.62" r="0.9"/><circle cx="385.47" cy="64.75" r="0.9"/><circle cx="383.53" cy="125.56" r="0.9"/><circle cx="387.4" cy="142.35" r="0.9"/><circle cx="383.91" cy="101.32" r="0.9"/><circle cx="383.84" cy="131.89" r="0.9"/><circle cx="384.32" cy="151.58" r="0.9"/><circle cx="388.86" cy="133.23" r="0.9"/><circle cx="387.75" cy="52.88" r="0.9"/><circle cx="385.98" cy="118.24" r="0.9"/><circle cx="388.45" cy="92.45" r="0.9"/><circle cx="386.82" cy="95.33" r="0.9"/><circle cx="386.75" cy="151.58" r="0.9"/><circle cx="387.72" cy="82.42" r="0.9"/><circle cx="387.3" cy="170.09" r="0.9"/><circle cx="383.97" cy="131.4" r="0.9"/><circle cx="387.04" cy="59.55" r="0.9"/><circle cx="383.81" cy="95.77" r="0.9"/><circle cx="388.62" cy="85.28" r="0.9"/><circle cx="387.47" cy="71.73" r="0.9"/><circle cx="387.81" cy="84.63" r="0.9"/><circle cx="385.61" cy="108.68" r="0.9"/><circle cx="387.71" cy="85.8" r="0.9"/><circle cx="384.79" cy="78.03" r="0.9"/><circle cx="386.19" cy="60.55" r="0.9"/><circle cx="383.7" cy="63.62" r="0.9"/><circle cx="387.72" cy="58.99" r="0.9"/><circle cx="388.03" cy="141.2" r="0.9"/><circle cx="384.19" cy="145" r="0.9"/><circle cx="384.42" cy="120.44" r="0.9"/><circle cx="388.45" cy="116.94" r="0.9"/><circle cx="387.26" cy="100.78" r="0.9"/><circle cx="387.7" cy="127.09" r="0.9"/><circle cx="387.1" cy="90.54" r="0.9"/><circle cx="387.95" cy="64.47" r="0.9"/><circle cx="383.52" cy="125.65" r="0.9"/><circle cx="388.02" cy="103.51" r="0.9"/><circle cx="386.57" cy="132.37" r="0.9"/><circle cx="387.76" cy="84" r="0.9"/><circle cx="385.93" cy="189.5" r="0.9"/><circle cx="383.66" cy="189.5" r="0.9"/><circle cx="385.51" cy="87.8" r="0.9"/><circle cx="385.74" cy="107.48" r="0.9"/><circle cx="384.28" cy="132.79" r="0.9"/><circle cx="388.07" cy="130.95" r="0.9"/><circle cx="384.75" cy="106.28" r="0.9"/><circle cx="384.63" cy="174.12" r="0.9"/><circle cx="385.65" cy="99.46" r="0.9"/><circle cx="387.84" cy="102.8" r="0.9"/><circle cx="387.1" cy="166.97" r="0.9"/><circle cx="387.94" cy="179.79" r="0.9"/><circle cx="384.63" cy="153.59" r="0.9"/><circle cx="385.17" cy="61.21" r="0.9"/><circle cx="388.34" cy="146.22" r="0.9"/><circle cx="388.36" cy="107.03" r="0.9"/><circle cx="386" cy="126.85" r="0.9"/><circle cx="386.04" cy="61.61" r="0.9"/><circle cx="384.14" cy="54.75" r="0.9"/><circle cx="383.97" cy="84.93" r="0.9"/><circle cx="383" cy="113.94" r="0.9"/><circle cx="388.67" cy="155.93" r="0.9"/><circle cx="387.86" cy="120.78" r="0.9"/><circle cx="385.11" cy="141.32" r="0.9"/><circle cx="386.32" cy="170.09" r="0.9"/><circle cx="386.08" cy="79.56" r="0.9"/><circle cx="388.57" cy="128.63" r="0.9"/><circle cx="387" cy="73.81" r="0.9"/><circle cx="386.74" cy="174.12" r="0.9"/><circle cx="388.75" cy="121.84" r="0.9"/><circle cx="386.97" cy="130.13" r="0.9"/><circle cx="385.26" cy="105.22" r="0.9"/><circle cx="387.06" cy="114.35" r="0.9"/><circle cx="385.99" cy="71.27" r="0.9"/><circle cx="388.86" cy="129.94" r="0.9"/><circle cx="388.01" cy="179.79" r="0.9"/><circle cx="386.34" cy="100.93" r="0.9"/><circle cx="387.51" cy="121.47" r="0.9"/><circle cx="387.37" cy="74.31" r="0.9"/><circle cx="383.21" cy="95.42" r="0.9"/><circle cx="383.82" cy="133.82" r="0.9"/><circle cx="388.35" cy="62.18" r="0.9"/><circle cx="386.53" cy="162.25" r="0.9"/><circle cx="383.28" cy="109.81" r="0.9"/><circle cx="387.48" cy="127.06" r="0.9"/><circle cx="384.69" cy="104.43" r="0.9"/><circle cx="384.75" cy="94.39" r="0.9"/><circle cx="385.52" cy="112.52" r="0.9"/><circle cx="386.89" cy="56.96" r="0.9"/><circle cx="387.06" cy="88.92" r="0.9"/><circle cx="388.78" cy="128.25" r="0.9"/><circle cx="387.15" cy="98.75" r="0.9"/><circle cx="383.97" cy="138.63" r="0.9"/><circle cx="387.96" cy="109.95" r="0.9"/><circle cx="385.08" cy="90.53" r="0.9"/><circle cx="386.1" cy="162.25" r="0.9"/><circle cx="383.97" cy="76.84" r="0.9"/><circle cx="384.02" cy="96.37" r="0.9"/><circle cx="383.32" cy="135.15" r="0.9"/><circle cx="385.3" cy="136.6" r="0.9"/><circle cx="388.77" cy="59.31" r="0.9"/><circle cx="384.86" cy="153.59" r="0.9"/><circle cx="384.18" cy="64.07" r="0.9"/><circle cx="385.63" cy="134.25" r="0.9"/><circle cx="384.56" cy="170.09" r="0.9"/><circle cx="385.31" cy="126.89" r="0.9"/><circle cx="384.6" cy="60" r="0.9"/><circle cx="388.45" cy="150.68" r="0.9"/><circle cx="388.02" cy="121.22" r="0.9"/><circle cx="387.67" cy="104.79" r="0.9"/><circle cx="383.91" cy="134.87" r="0.9"/><circle cx="385.82" cy="94.9" r="0.9"/><circle cx="387.02" cy="111.31" r="0.9"/><circle cx="384.65" cy="95.25" r="0.9"/><circle cx="388.5" cy="130.04" r="0.9"/><circle cx="384.73" cy="113.76" r="0.9"/><circle cx="384.56" cy="105.37" r="0.9"/><circle cx="383.25" cy="93.41" r="0.9"/><circle cx="386.4" cy="85.57" r="0.9"/><circle cx="388.64" cy="130.95" r="0.9"/><circle cx="384.46" cy="139.84" r="0.9"/><circle cx="386.29" cy="174.12" r="0.9"/><circle cx="387.07" cy="95.17" r="0.9"/><circle cx="387.85" cy="125" r="0.9"/><circle cx="384.84" cy="166.97" r="0.9"/><circle cx="388.8" cy="104.15" r="0.9"/><circle cx="387.15" cy="105.06" r="0.9"/><circle cx="385.37" cy="93.02" r="0.9"/><circle cx="387.45" cy="64.74" r="0.9"/><circle cx="385.36" cy="132.15" r="0.9"/><circle cx="385.1" cy="88.8" r="0.9"/><circle cx="388.23" cy="153.59" r="0.9"/><circle cx="386.13" cy="113.55" r="0.9"/><circle cx="388.41" cy="102.11" r="0.9"/><circle cx="385.03" cy="164.41" r="0.9"/><circle cx="385.48" cy="179.79" r="0.9"/><circle cx="388.11" cy="116.02" r="0.9"/><circle cx="386.47" cy="102.24" r="0.9"/><circle cx="386.44" cy="125.91" r="0.9"/><circle cx="388.07" cy="139" r="0.9"/><circle cx="388.03" cy="91.25" r="0.9"/><circle cx="387.03" cy="160.38" r="0.9"/><circle cx="386" cy="95.15" r="0.9"/><circle cx="388.39" cy="72.96" r="0.9"/><circle cx="387.93" cy="95.98" r="0.9"/><circle cx="388.27" cy="103.82" r="0.9"/><circle cx="387.22" cy="164.41" r="0.9"/><circle cx="386.67" cy="99.25" r="0.9"/><circle cx="383.4" cy="138.87" r="0.9"/><circle cx="387.95" cy="107.6" r="0.9"/><circle cx="384.28" cy="139.08" r="0.9"/><circle cx="383.56" cy="146.22" r="0.9"/><circle cx="388.85" cy="101.56" r="0.9"/><circle cx="385.16" cy="89.33" r="0.9"/><circle cx="383.43" cy="99.61" r="0.9"/><circle cx="384.95" cy="83.62" r="0.9"/><circle cx="386.78" cy="189.5" r="0.9"/><circle cx="384.65" cy="162.25" r="0.9"/><circle cx="385.67" cy="179.79" r="0.9"/><circle cx="387.84" cy="111.63" r="0.9"/><circle cx="387.96" cy="179.79" r="0.9"/><circle cx="384.35" cy="166.97" r="0.9"/><circle cx="385.04" cy="105.43" r="0.9"/><circle cx="386.41" cy="133.23" r="0.9"/><circle cx="387.76" cy="147.55" r="0.9"/><circle cx="388.04" cy="149.03" r="0.9"/><circle cx="386.22" cy="88.35" r="0.9"/><circle cx="387.67" cy="179.79" r="0.9"/><circle cx="386.03" cy="189.5" r="0.9"/><circle cx="383.38" cy="123.87" r="0.9"/><circle cx="387.35" cy="105.38" r="0.9"/><circle cx="385.4" cy="109.13" r="0.9"/><circle cx="386.53" cy="115.19" r="0.9"/><circle cx="388.21" cy="146.22" r="0.9"/><circle cx="387.83" cy="53.23" r="0.9"/><circle cx="384.98" cy="60.46" r="0.9"/><circle cx="383.43" cy="55.24" r="0.9"/><circle cx="383.8" cy="118.43" r="0.9"/><circle cx="387.1" cy="120.84" r="0.9"/><circle cx="385.73" cy="98.86" r="0.9"/><circle cx="384.14" cy="132.16" r="0.9"/><circle cx="384.7" cy="125.99" r="0.9"/><circle cx="387.42" cy="152.55" r="0.9"/><circle cx="385.63" cy="114.85" r="0.9"/><circle cx="387.22" cy="151.58" r="0.9"/><circle cx="384.59" cy="151.58" r="0.9"/><circle cx="387.21" cy="111.19" r="0.9"/><circle cx="387.49" cy="58.03" r="0.9"/><circle cx="388.52" cy="63.14" r="0.9"/><circle cx="387.32" cy="97.69" r="0.9"/><circle cx="384.23" cy="179.79" r="0.9"/><circle cx="388.18" cy="189.5" r="0.9"/><circle cx="386.78" cy="97.73" r="0.9"/><circle cx="385.13" cy="140.01" r="0.9"/><circle cx="386.79" cy="158.74" r="0.9"/><circle cx="384.83" cy="54.13" r="0.9"/><circle cx="384.05" cy="179.79" r="0.9"/><circle cx="388.39" cy="130.79" r="0.9"/><circle cx="385.73" cy="88.98" r="0.9"/><circle cx="383.64" cy="170.09" r="0.9"/><circle cx="387.66" cy="160.38" r="0.9"/><circle cx="388.94" cy="119.1" r="0.9"/><circle cx="387.77" cy="70.4" r="0.9"/><circle cx="387.93" cy="118.59" r="0.9"/><circle cx="383.65" cy="164.41" r="0.9"/><circle cx="386.05" cy="110.92" r="0.9"/><circle cx="384.51" cy="149.03" r="0.9"/><circle cx="388.45" cy="189.5" r="0.9"/><circle cx="388.67" cy="98.71" r="0.9"/><circle cx="385.62" cy="56.45" r="0.9"/><circle cx="385.3" cy="96.86" r="0.9"/><circle cx="388.05" cy="87.88" r="0.9"/><circle cx="383.08" cy="164.41" r="0.9"/><circle cx="386.51" cy="148.27" r="0.9"/><circle cx="383.05" cy="128.41" r="0.9"/></g>
<line x1="377.5" y1="116.2" x2="394.5" y2="116.2" stroke="#000" stroke-width="1.2"/>
<line x1="423" y1="67.6" x2="423" y2="189.5" stroke="#000" stroke-width="0.8"/>
<rect x="414.5" y="107.5" width="17" height="43.4" fill="#8fb4f7" stroke="#1a1a1a" stroke-width="0.8"/>
<g fill="#000" fill-opacity="0.35" stroke="#000" stroke-opacity="0.75" stroke-width="0.35"><circle cx="424.98" cy="189.67" r="0.9"/><circle cx="422.78" cy="189.23" r="0.9"/><circle cx="425.33" cy="189.52" r="0.9"/><circle cx="420.43" cy="189.39" r="0.9"/><circle cx="425.31" cy="118.04" r="0.9"/><circle cx="423.84" cy="129.89" r="0.9"/><circle cx="421.46" cy="157.26" r="0.9"/><circle cx="422.3" cy="85.41" r="0.9"/><circle cx="423.55" cy="174.12" r="0.9"/><circle cx="421.2" cy="170.09" r="0.9"/><circle cx="423.51" cy="132.41" r="0.9"/><circle cx="424.24" cy="117.04" r="0.9"/><circle cx="420.41" cy="133.91" r="0.9"/><circle cx="420.32" cy="109.64" r="0.9"/><circle cx="422.4" cy="131.13" r="0.9"/><circle cx="424.28" cy="113.98" r="0.9"/><circle cx="423.9" cy="152.55" r="0.9"/><circle cx="422.83" cy="112.37" r="0.9"/><circle cx="425.45" cy="166.97" r="0.9"/><circle cx="420.38" cy="120.18" r="0.9"/><circle cx="425.92" cy="152.55" r="0.9"/><circle cx="422.35" cy="154.71" r="0.9"/><circle cx="424.94" cy="103.71" r="0.9"/><circle cx="424.45" cy="117.25" r="0.9"/><circle cx="420.56" cy="179.79" r="0.9"/><circle cx="424.82" cy="72.3" r="0.9"/><circle cx="420.29" cy="179.79" r="0.9"/><circle cx="425.58" cy="152.55" r="0.9"/><circle cx="424.03" cy="155.93" r="0.9"/><circle cx="423.83" cy="80.97" r="0.9"/><circle cx="421.58" cy="82.99" r="0.9"/><circle cx="420.11" cy="166.97" r="0.9"/><circle cx="420.62" cy="107.03" r="0.9"/><circle cx="424.26" cy="72.88" r="0.9"/><circle cx="424.84" cy="160.38" r="0.9"/><circle cx="423.07" cy="164.41" r="0.9"/><circle cx="424.72" cy="174.12" r="0.9"/><circle cx="425.5" cy="88.23" r="0.9"/><circle cx="425.11" cy="189.5" r="0.9"/><circle cx="424.93" cy="123.8" r="0.9"/><circle cx="423.72" cy="128.29" r="0.9"/><circle cx="424.8" cy="120.56" r="0.9"/><circle cx="420.33" cy="179.79" r="0.9"/><circle cx="421.75" cy="124.68" r="0.9"/><circle cx="420.05" cy="137.73" r="0.9"/><circle cx="420.14" cy="107.92" r="0.9"/><circle cx="424.87" cy="97.95" r="0.9"/><circle cx="420.73" cy="132.26" r="0.9"/><circle cx="421.24" cy="115.9" r="0.9"/><circle cx="420.66" cy="134.86" r="0.9"/><circle cx="423.28" cy="72.24" r="0.9"/><circle cx="420.56" cy="141.71" r="0.9"/><circle cx="425.1" cy="109.17" r="0.9"/><circle cx="420.61" cy="95.07" r="0.9"/><circle cx="421.82" cy="140.36" r="0.9"/><circle cx="420.89" cy="106.56" r="0.9"/><circle cx="425.87" cy="119.56" r="0.9"/><circle cx="420.04" cy="105.93" r="0.9"/><circle cx="420.68" cy="179.79" r="0.9"/><circle cx="423.59" cy="112.33" r="0.9"/><circle cx="422.73" cy="126.81" r="0.9"/><circle cx="423.67" cy="136.8" r="0.9"/><circle cx="425.5" cy="116.02" r="0.9"/><circle cx="424.78" cy="108.95" r="0.9"/><circle cx="425.02" cy="84.15" r="0.9"/><circle cx="420.18" cy="110.3" r="0.9"/><circle cx="425.1" cy="113.31" r="0.9"/><circle cx="425.27" cy="134.7" r="0.9"/><circle cx="425.66" cy="162.25" r="0.9"/><circle cx="424.24" cy="133.72" r="0.9"/><circle cx="421.8" cy="150.68" r="0.9"/><circle cx="421.95" cy="141.88" r="0.9"/><circle cx="422.66" cy="174.12" r="0.9"/><circle cx="423.92" cy="71.38" r="0.9"/><circle cx="424.57" cy="80.63" r="0.9"/><circle cx="425.97" cy="96.86" r="0.9"/><circle cx="421.65" cy="107.36" r="0.9"/><circle cx="422.47" cy="150.68" r="0.9"/><circle cx="421.38" cy="189.5" r="0.9"/><circle cx="425.53" cy="88.81" r="0.9"/><circle cx="424.62" cy="143.88" r="0.9"/><circle cx="425.34" cy="105.26" r="0.9"/><circle cx="423.19" cy="102.87" r="0.9"/><circle cx="424.95" cy="174.12" r="0.9"/><circle cx="423.76" cy="145" r="0.9"/><circle cx="423.22" cy="140.41" r="0.9"/><circle cx="420.97" cy="74.33" r="0.9"/><circle cx="423.9" cy="125.9" r="0.9"/><circle cx="425.63" cy="125.27" r="0.9"/><circle cx="425.48" cy="136.79" r="0.9"/><circle cx="425.8" cy="112.56" r="0.9"/><circle cx="421.27" cy="174.12" r="0.9"/><circle cx="425.44" cy="147.55" r="0.9"/><circle cx="421.56" cy="189.5" r="0.9"/><circle cx="425.94" cy="110.37" r="0.9"/><circle cx="422.63" cy="162.25" r="0.9"/><circle cx="424.14" cy="112.8" r="0.9"/><circle cx="424.52" cy="107.83" r="0.9"/><circle cx="421.54" cy="151.58" r="0.9"/><circle cx="424.15" cy="189.5" r="0.9"/><circle cx="421.56" cy="157.26" r="0.9"/><circle cx="423.86" cy="74.59" r="0.9"/><circle cx="423.94" cy="120.85" r="0.9"/><circle cx="424.17" cy="120.28" r="0.9"/><circle cx="420.38" cy="146.22" r="0.9"/><circle cx="420.09" cy="179.79" r="0.9"/><circle cx="420.85" cy="140.91" r="0.9"/><circle cx="422.96" cy="174.12" r="0.9"/><circle cx="424.13" cy="73.58" r="0.9"/><circle cx="424.62" cy="149.03" r="0.9"/><circle cx="420.6" cy="162.25" r="0.9"/><circle cx="422.45" cy="146.22" r="0.9"/><circle cx="422.67" cy="112.58" r="0.9"/><circle cx="420.57" cy="109.32" r="0.9"/><circle cx="422.05" cy="80.61" r="0.9"/><circle cx="420.18" cy="97.55" r="0.9"/><circle cx="421.36" cy="98.08" r="0.9"/><circle cx="424.82" cy="94.01" r="0.9"/><circle cx="421.67" cy="114.16" r="0.9"/><circle cx="421.14" cy="189.5" r="0.9"/><circle cx="420.95" cy="85.57" r="0.9"/><circle cx="423.52" cy="115.12" r="0.9"/><circle cx="421.08" cy="114.96" r="0.9"/><circle cx="420.58" cy="166.97" r="0.9"/><circle cx="422.3" cy="71.02" r="0.9"/><circle cx="423.42" cy="115.71" r="0.9"/><circle cx="420.39" cy="154.71" r="0.9"/><circle cx="425.12" cy="189.5" r="0.9"/><circle cx="425.78" cy="170.09" r="0.9"/><circle cx="424.34" cy="140.72" r="0.9"/><circle cx="424.73" cy="166.97" r="0.9"/><circle cx="422.2" cy="150.68" r="0.9"/><circle cx="420.67" cy="126.56" r="0.9"/><circle cx="424.78" cy="151.58" r="0.9"/><circle cx="422.28" cy="147.55" r="0.9"/><circle cx="421.34" cy="106.34" r="0.9"/><circle cx="421.31" cy="160.38" r="0.9"/><circle cx="422.19" cy="138.88" r="0.9"/><circle cx="422.83" cy="116.62" r="0.9"/><circle cx="420.3" cy="91.62" r="0.9"/><circle cx="425.02" cy="114.75" r="0.9"/><circle cx="420.18" cy="153.59" r="0.9"/><circle cx="420.7" cy="134.02" r="0.9"/><circle cx="424.27" cy="132.09" r="0.9"/><circle cx="420.71" cy="174.12" r="0.9"/><circle cx="421.04" cy="130.33" r="0.9"/><circle cx="422.64" cy="153.59" r="0.9"/><circle cx="420.41" cy="170.09" r="0.9"/><circle cx="422.82" cy="140.94" r="0.9"/><circle cx="423.33" cy="79.82" r="0.9"/><circle cx="421.33" cy="179.79" r="0.9"/><circle cx="423.38" cy="107.99" r="0.9"/><circle cx="425.77" cy="91.52" r="0.9"/><circle cx="420.66" cy="93.54" r="0.9"/><circle cx="423.15" cy="78.5" r="0.9"/><circle cx="421.02" cy="152.55" r="0.9"/><circle cx="421.27" cy="92.44" r="0.9"/><circle cx="421.59" cy="179.79" r="0.9"/><circle cx="422.77" cy="82.12" r="0.9"/><circle cx="420.45" cy="109.07" r="0.9"/></g>
<line x1="414.5" y1="128.5" x2="431.5" y2="128.5" stroke="#000" stroke-width="1.2"/>
<line x1="442.6" y1="62.3" x2="442.6" y2="189.5" stroke="#000" stroke-width="0.8"/>
<rect x="434.1" y="100.7" width="17" height="43.1" fill="#f88a8a" stroke="#1a1a1a" stroke-width="0.8"/>
<g fill="#000" fill-opacity="0.35" stroke="#000" stroke-opacity="0.75" stroke-width="0.35"><circle cx="442.32" cy="189.39" r="0.9"/><circle cx="440.83" cy="189.6" r="0.9"/><circle cx="441.77" cy="189.27" r="0.9"/><circle cx="445.51" cy="189.49" r="0.9"/><circle cx="440.68" cy="189.21" r="0.9"/><circle cx="443.52" cy="189.51" r="0.9"/><circle cx="439.75" cy="189.48" r="0.9"/><circle cx="444.04" cy="189.52" r="0.9"/><circle cx="442.59" cy="146.87" r="0.9"/><circle cx="443.51" cy="111.96" r="0.9"/><circle cx="444.42" cy="162.25" r="0.9"/><circle cx="444.04" cy="72.45" r="0.9"/><circle cx="441.81" cy="87.36" r="0.9"/><circle cx="440.69" cy="79.96" r="0.9"/><circle cx="443.19" cy="148.27" r="0.9"/><circle cx="440.09" cy="80.15" r="0.9"/><circle cx="439.82" cy="149.83" r="0.9"/><circle cx="440.44" cy="125.88" r="0.9"/><circle cx="444.09" cy="154.71" r="0.9"/><circle cx="445.24" cy="113.64" r="0.9"/><circle cx="443.67" cy="129.39" r="0.9"/><circle cx="445.29" cy="189.5" r="0.9"/><circle cx="442.46" cy="146.87" r="0.9"/><circle cx="445.29" cy="119.2" r="0.9"/><circle cx="445.55" cy="120.85" r="0.9"/><circle cx="440.9" cy="110.69" r="0.9"/><circle cx="440.81" cy="90.89" r="0.9"/><circle cx="442.34" cy="62.38" r="0.9"/><circle cx="445.37" cy="148.27" r="0.9"/><circle cx="442.04" cy="136.99" r="0.9"/><circle cx="443.61" cy="134.97" r="0.9"/><circle cx="441.84" cy="189.5" r="0.9"/><circle cx="444.57" cy="160.38" r="0.9"/><circle cx="443.25" cy="189.5" r="0.9"/><circle cx="442.32" cy="142.84" r="0.9"/><circle cx="443.87" cy="115.3" r="0.9"/><circle cx="441.04" cy="164.41" r="0.9"/><circle cx="445.36" cy="166.97" r="0.9"/><circle cx="440.42" cy="162.25" r="0.9"/><circle cx="443.09" cy="118.38" r="0.9"/><circle cx="439.94" cy="82.67" r="0.9"/><circle cx="440.61" cy="146.87" r="0.9"/><circle cx="442.31" cy="113.46" r="0.9"/><circle cx="444.93" cy="128.73" r="0.9"/><circle cx="444.76" cy="107.55" r="0.9"/><circle cx="441.21" cy="70.38" r="0.9"/><circle cx="442.05" cy="73.09" r="0.9"/><circle cx="445.09" cy="179.79" r="0.9"/><circle cx="439.71" cy="170.09" r="0.9"/><circle cx="441.33" cy="140.04" r="0.9"/><circle cx="444.82" cy="68.55" r="0.9"/><circle cx="442.78" cy="127.68" r="0.9"/><circle cx="444.44" cy="88.67" r="0.9"/><circle cx="442.68" cy="108.2" r="0.9"/><circle cx="441.06" cy="166.97" r="0.9"/><circle cx="443.12" cy="107.83" r="0.9"/><circle cx="444.99" cy="95.43" r="0.9"/><circle cx="440.76" cy="69.38" r="0.9"/><circle cx="444.99" cy="174.12" r="0.9"/><circle cx="440.69" cy="114.64" r="0.9"/><circle cx="441.13" cy="105.19" r="0.9"/><circle cx="441.8" cy="146.22" r="0.9"/><circle cx="443.66" cy="118.25" r="0.9"/><circle cx="444.05" cy="174.12" r="0.9"/><circle cx="442.43" cy="110.46" r="0.9"/><circle cx="444.4" cy="106.74" r="0.9"/><circle cx="442.45" cy="189.5" r="0.9"/><circle cx="443.85" cy="106.29" r="0.9"/><circle cx="440.68" cy="108.65" r="0.9"/><circle cx="444.31" cy="70.1" r="0.9"/><circle cx="442.18" cy="146.87" r="0.9"/><circle cx="440.84" cy="70.2" r="0.9"/><circle cx="445.37" cy="128.72" r="0.9"/><circle cx="440.99" cy="80.41" r="0.9"/><circle cx="441.76" cy="101.84" r="0.9"/><circle cx="444.2" cy="107.43" r="0.9"/><circle cx="440.94" cy="166.97" r="0.9"/><circle cx="441.2" cy="149.83" r="0.9"/><circle cx="440.42" cy="179.79" r="0.9"/><circle cx="442.12" cy="129" r="0.9"/><circle cx="443.09" cy="174.12" r="0.9"/><circle cx="443.06" cy="73.02" r="0.9"/><circle cx="443.83" cy="133.78" r="0.9"/><circle cx="440.65" cy="126.05" r="0.9"/><circle cx="439.71" cy="121.83" r="0.9"/><circle cx="440.57" cy="106.45" r="0.9"/><circle cx="445.37" cy="132.45" r="0.9"/><circle cx="444.61" cy="99.39" r="0.9"/><circle cx="443.41" cy="109.07" r="0.9"/><circle cx="445.4" cy="104.2" r="0.9"/><circle cx="444.2" cy="153.59" r="0.9"/><circle cx="441.13" cy="138.98" r="0.9"/><circle cx="443.21" cy="92.66" r="0.9"/><circle cx="444.85" cy="88.54" r="0.9"/><circle cx="440.79" cy="113.21" r="0.9"/><circle cx="442.81" cy="189.5" r="0.9"/><circle cx="441.23" cy="102.59" r="0.9"/><circle cx="439.63" cy="179.79" r="0.9"/><circle cx="443.78" cy="157.26" r="0.9"/><circle cx="440.98" cy="189.5" r="0.9"/><circle cx="443.87" cy="142.35" r="0.9"/><circle cx="439.72" cy="64.74" r="0.9"/><circle cx="445.21" cy="170.09" r="0.9"/><circle cx="440.49" cy="67.98" r="0.9"/><circle cx="442.73" cy="135.71" r="0.9"/><circle cx="442.1" cy="137.15" r="0.9"/><circle cx="441.15" cy="122.11" r="0.9"/><circle cx="440.1" cy="179.79" r="0.9"/><circle cx="440.15" cy="160.38" r="0.9"/><circle cx="443.78" cy="110.47" r="0.9"/><circle cx="444.35" cy="142.35" r="0.9"/><circle cx="441.65" cy="102.35" r="0.9"/><circle cx="440.73" cy="120.88" r="0.9"/><circle cx="442.96" cy="75.41" r="0.9"/><circle cx="440.52" cy="179.79" r="0.9"/><circle cx="441.91" cy="105.15" r="0.9"/><circle cx="440.98" cy="103.26" r="0.9"/><circle cx="444.41" cy="95.93" r="0.9"/><circle cx="443.12" cy="174.12" r="0.9"/><circle cx="443.85" cy="154.71" r="0.9"/><circle cx="444.35" cy="95.04" r="0.9"/><circle cx="440.16" cy="147.55" r="0.9"/><circle cx="442.99" cy="107.42" r="0.9"/><circle cx="440.76" cy="164.41" r="0.9"/><circle cx="440.25" cy="113.7" r="0.9"/><circle cx="441.05" cy="109.7" r="0.9"/><circle cx="442.14" cy="142.84" r="0.9"/><circle cx="443.95" cy="117.53" r="0.9"/><circle cx="443.95" cy="189.5" r="0.9"/><circle cx="441.34" cy="149.03" r="0.9"/><circle cx="443.75" cy="109.25" r="0.9"/><circle cx="445.01" cy="111.2" r="0.9"/><circle cx="441.47" cy="152.55" r="0.9"/><circle cx="441.16" cy="107.49" r="0.9"/><circle cx="440.96" cy="160.38" r="0.9"/><circle cx="444.56" cy="98.93" r="0.9"/><circle cx="445.35" cy="103.32" r="0.9"/><circle cx="441.46" cy="96.28" r="0.9"/><circle cx="443.93" cy="137.59" r="0.9"/><circle cx="443.26" cy="179.79" r="0.9"/><circle cx="439.89" cy="174.12" r="0.9"/><circle cx="440.51" cy="119.03" r="0.9"/><circle cx="444.86" cy="74.94" r="0.9"/><circle cx="440.79" cy="123.73" r="0.9"/><circle cx="442.64" cy="166.97" r="0.9"/><circle cx="441.78" cy="118.45" r="0.9"/><circle cx="442.78" cy="103.31" r="0.9"/><circle cx="440.24" cy="98.49" r="0.9"/><circle cx="441.92" cy="179.79" r="0.9"/><circle cx="441.12" cy="121.66" r="0.9"/><circle cx="440.93" cy="107.02" r="0.9"/><circle cx="442.46" cy="137.33" r="0.9"/><circle cx="444.22" cy="103.62" r="0.9"/><circle cx="442.28" cy="132.27" r="0.9"/><circle cx="445.2" cy="75.66" r="0.9"/><circle cx="440.23" cy="110.89" r="0.9"/><circle cx="443.42" cy="124.3" r="0.9"/><circle cx="439.82" cy="141.09" r="0.9"/><circle cx="445.06" cy="65.88" r="0.9"/><circle cx="442.4" cy="166.97" r="0.9"/><circle cx="441.4" cy="110.84" r="0.9"/><circle cx="444.1" cy="179.79" r="0.9"/><circle cx="442.22" cy="98.99" r="0.9"/><circle cx="441.96" cy="174.12" r="0.9"/><circle cx="445.38" cy="174.12" r="0.9"/><circle cx="441.33" cy="179.79" r="0.9"/><circle cx="440.41" cy="99.28" r="0.9"/><circle cx="440.02" cy="170.09" r="0.9"/><circle cx="442.79" cy="158.74" r="0.9"/><circle cx="440.61" cy="91.01" r="0.9"/><circle cx="444.19" cy="157.26" r="0.9"/><circle cx="441.63" cy="127.14" r="0.9"/><circle cx="441.06" cy="166.97" r="0.9"/><circle cx="440.3" cy="67.65" r="0.9"/><circle cx="444.04" cy="142.84" r="0.9"/><circle cx="445.03" cy="81.81" r="0.9"/><circle cx="445.34" cy="122.68" r="0.9"/><circle cx="441.33" cy="112.03" r="0.9"/><circle cx="443.9" cy="123.4" r="0.9"/><circle cx="440.38" cy="101.94" r="0.9"/><circle cx="445.35" cy="153.59" r="0.9"/><circle cx="444.48" cy="170.09" r="0.9"/><circle cx="441.09" cy="135.38" r="0.9"/><circle cx="442.42" cy="143.35" r="0.9"/><circle cx="440.49" cy="64.1" r="0.9"/><circle cx="441.53" cy="87.79" r="0.9"/><circle cx="444.07" cy="157.26" r="0.9"/><circle cx="440.73" cy="135.12" r="0.9"/><circle cx="444.53" cy="127.83" r="0.9"/><circle cx="443.05" cy="86.46" r="0.9"/><circle cx="444.18" cy="189.5" r="0.9"/><circle cx="445" cy="111.83" r="0.9"/><circle cx="441.56" cy="71.28" r="0.9"/><circle cx="444.51" cy="88.71" r="0.9"/><circle cx="441.8" cy="142.35" r="0.9"/><circle cx="441.72" cy="131.98" r="0.9"/><circle cx="440.26" cy="131.64" r="0.9"/><circle cx="445.06" cy="148.27" r="0.9"/><circle cx="443.41" cy="128.58" r="0.9"/><circle cx="444.13" cy="82.55" r="0.9"/><circle cx="445.12" cy="145" r="0.9"/><circle cx="445.54" cy="95.02" r="0.9"/><circle cx="444.13" cy="102.4" r="0.9"/><circle cx="441.12" cy="93.84" r="0.9"/><circle cx="441.88" cy="108" r="0.9"/><circle cx="440.4" cy="90.04" r="0.9"/><circle cx="441.62" cy="117.06" r="0.9"/><circle cx="441.67" cy="92.79" r="0.9"/><circle cx="444.69" cy="89.41" r="0.9"/><circle cx="440.43" cy="83.93" r="0.9"/><circle cx="444.07" cy="73.76" r="0.9"/><circle cx="443.51" cy="106.37" r="0.9"/><circle cx="444.82" cy="179.79" r="0.9"/><circle cx="442.33" cy="116.39" r="0.9"/><circle cx="444.3" cy="135.33" r="0.9"/><circle cx="444.82" cy="97.73" r="0.9"/><circle cx="441.64" cy="150.68" r="0.9"/><circle cx="440.2" cy="143.88" r="0.9"/><circle cx="439.76" cy="136.49" r="0.9"/><circle cx="440.96" cy="96" r="0.9"/><circle cx="440.01" cy="174.12" r="0.9"/><circle cx="440.79" cy="101.39" r="0.9"/><circle cx="442.01" cy="123.7" r="0.9"/><circle cx="445.32" cy="95.25" r="0.9"/><circle cx="443.39" cy="138.12" r="0.9"/><circle cx="442.42" cy="81.31" r="0.9"/><circle cx="444" cy="80.48" r="0.9"/><circle cx="444.84" cy="137.97" r="0.9"/><circle cx="440.24" cy="114.41" r="0.9"/><circle cx="444.58" cy="113.31" r="0.9"/><circle cx="442.5" cy="118.66" r="0.9"/><circle cx="444.88" cy="128.02" r="0.9"/><circle cx="440.85" cy="107.25" r="0.9"/><circle cx="441.78" cy="133.15" r="0.9"/><circle cx="443.78" cy="70.07" r="0.9"/><circle cx="445.09" cy="166.97" r="0.9"/><circle cx="443.15" cy="179.79" r="0.9"/><circle cx="443.9" cy="126.51" r="0.9"/><circle cx="440.15" cy="126.8" r="0.9"/><circle cx="444.52" cy="118.26" r="0.9"/><circle cx="441.74" cy="96.95" r="0.9"/><circle cx="444.07" cy="149.03" r="0.9"/><circle cx="440.91" cy="95.34" r="0.9"/><circle cx="445.55" cy="83.23" r="0.9"/><circle cx="441.88" cy="126.41" r="0.9"/><circle cx="445.18" cy="103.82" r="0.9"/><circle cx="441.41" cy="152.55" r="0.9"/><circle cx="443.99" cy="136.31" r="0.9"/><circle cx="442.88" cy="155.93" r="0.9"/><circle cx="443.61" cy="120.08" r="0.9"/><circle cx="445.34" cy="164.41" r="0.9"/><circle cx="442.97" cy="62.31" r="0.9"/><circle cx="440.7" cy="96.17" r="0.9"/><circle cx="442.91" cy="78.69" r="0.9"/><circle cx="444.81" cy="100.05" r="0.9"/><circle cx="445.14" cy="133.21" r="0.9"/><circle cx="439.74" cy="151.58" r="0.9"/><circle cx="444.99" cy="119.91" r="0.9"/><circle cx="445.33" cy="80.35" r="0.9"/><circle cx="445.2" cy="119.26" r="0.9"/><circle cx="440.46" cy="115.45" r="0.9"/><circle cx="444.42" cy="109.93" r="0.9"/><circle cx="443.21" cy="127.32" r="0.9"/><circle cx="441.26" cy="142.84" r="0.9"/><circle cx="442.68" cy="127.66" r="0.9"/><circle cx="440.15" cy="123.11" r="0.9"/><circle cx="441.64" cy="189.5" r="0.9"/><circle cx="444.09" cy="103.27" r="0.9"/><circle cx="441.13" cy="146.22" r="0.9"/><circle cx="440.65" cy="118.81" r="0.9"/><circle cx="445.02" cy="112.11" r="0.9"/><circle cx="443.11" cy="152.55" r="0.9"/><circle cx="444.1" cy="102.97" r="0.9"/><circle cx="443.86" cy="103.64" r="0.9"/><circle cx="444.63" cy="141.66" r="0.9"/><circle cx="439.92" cy="76.1" r="0.9"/><circle cx="442.26" cy="72.71" r="0.9"/><circle cx="440.02" cy="174.12" r="0.9"/><circle cx="443.67" cy="95.96" r="0.9"/><circle cx="442.36" cy="164.41" r="0.9"/><circle cx="445.59" cy="109.34" r="0.9"/><circle cx="444.2" cy="135.64" r="0.9"/><circle cx="440.79" cy="144.43" r="0.9"/><circle cx="442.06" cy="160.38" r="0.9"/><circle cx="441.42" cy="110.93" r="0.9"/><circle cx="440.91" cy="160.38" r="0.9"/><circle cx="440.76" cy="174.12" r="0.9"/><circle cx="442.63" cy="137.56" r="0.9"/><circle cx="442.48" cy="155.93" r="0.9"/><circle cx="445.44" cy="125.8" r="0.9"/></g>
<line x1="434.1" y1="120.1" x2="451.1" y2="120.1" stroke="#000" stroke-width="1.2"/>
<polyline points="105.6,170.5 162,168.4 218.2,163.1" fill="none" stroke="#0000ff" stroke-width="1.4"/>
<polyline points="125.1,174.5 181.9,171 238.1,171.6" fill="none" stroke="#ff0000" stroke-width="1.4"/>
<polyline points="310,119.7 366.7,118 423,128.5" fill="none" stroke="#0000ff" stroke-width="1.4"/>
<polyline points="330,120.4 386,116.2 442.6,120.1" fill="none" stroke="#ff0000" stroke-width="1.4"/>
<rect x="81.5" y="20.6" width="180.1" height="176.3" fill="none" stroke="#333333" stroke-width="0.7"/>
<rect x="81.5" y="6.5" width="180.1" height="14.1" fill="#f0f0f0" stroke="#333333" stroke-width="0.7"/>
<text x="171.55" y="16.8" class="sa" text-anchor="middle">Prevotella stercorea</text>
<line x1="115.27" y1="196.9" x2="115.27" y2="194.1" stroke="#888" stroke-width="0.7"/>
<text x="115.27" y="205.3" class="ta" text-anchor="middle">D1</text>
<line x1="171.55" y1="196.9" x2="171.55" y2="194.1" stroke="#888" stroke-width="0.7"/>
<text x="171.55" y="205.3" class="ta" text-anchor="middle">D15</text>
<line x1="227.83" y1="196.9" x2="227.83" y2="194.1" stroke="#888" stroke-width="0.7"/>
<text x="227.83" y="205.3" class="ta" text-anchor="middle">D85</text>
<text x="171.55" y="214.9" class="ta" text-anchor="middle">Study Day</text>
<rect x="286.6" y="20.6" width="178.9" height="176.3" fill="none" stroke="#333333" stroke-width="0.7"/>
<rect x="286.6" y="6.5" width="178.9" height="14.1" fill="#f0f0f0" stroke="#333333" stroke-width="0.7"/>
<text x="376.05" y="16.8" class="sa" text-anchor="middle">Escherichia coli</text>
<line x1="320.14" y1="196.9" x2="320.14" y2="194.1" stroke="#888" stroke-width="0.7"/>
<text x="320.14" y="205.3" class="ta" text-anchor="middle">D1</text>
<line x1="376.05" y1="196.9" x2="376.05" y2="194.1" stroke="#888" stroke-width="0.7"/>
<text x="376.05" y="205.3" class="ta" text-anchor="middle">D15</text>
<line x1="431.96" y1="196.9" x2="431.96" y2="194.1" stroke="#888" stroke-width="0.7"/>
<text x="431.96" y="205.3" class="ta" text-anchor="middle">D85</text>
<text x="376.05" y="214.9" class="ta" text-anchor="middle">Study Day</text>
<text x="171.55" y="39.1" class="ta" text-anchor="middle">adj p = 0.0228</text>
<text x="376.05" y="39.1" class="ta" text-anchor="middle">adj p = 0.0249</text>
<text transform="translate(65.1,109) rotate(-90)" class="ta" text-anchor="middle">Relative Abundance</text>
<text transform="translate(276.6,109.7) rotate(-90)" class="ta" text-anchor="middle">Log Abundance</text>
<rect x="42.4" y="252.5" width="110.3" height="57" fill="#fff"/>
<line x1="42.4" y1="256.2" x2="46.6" y2="256.2" stroke="#333" stroke-width="0.8"/>
<text x="40.3" y="259.2" class="tk" text-anchor="end">40</text>
<line x1="42.4" y1="268.7" x2="46.6" y2="268.7" stroke="#333" stroke-width="0.8"/>
<text x="40.3" y="271.7" class="tk" text-anchor="end">38</text>
<line x1="42.4" y1="281.5" x2="46.6" y2="281.5" stroke="#333" stroke-width="0.8"/>
<text x="40.3" y="284.5" class="tk" text-anchor="end">36</text>
<line x1="42.4" y1="294.3" x2="46.6" y2="294.3" stroke="#333" stroke-width="0.8"/>
<text x="40.3" y="297.3" class="tk" text-anchor="end">34</text>
<line x1="42.4" y1="307.2" x2="46.6" y2="307.2" stroke="#333" stroke-width="0.8"/>
<text x="40.3" y="310.2" class="tk" text-anchor="end">32</text>
<polyline points="63.08,280.9 97.55,300.6 132.02,287.9" fill="none" stroke="#ff0000" stroke-width="1.35" stroke-linejoin="round"/>
<path d="M63.08 274.6V287.3M59.78 274.6H66.38M59.78 287.3H66.38M97.55 294V307.2M94.25 294H100.85M94.25 307.2H100.85M132.02 281.6V294.1M128.72 281.6H135.32M128.72 294.1H135.32" fill="none" stroke="#ff0000" stroke-width="1.1"/>
<circle cx="63.08" cy="280.9" r="2.05" fill="#ff0000"/>
<circle cx="97.55" cy="300.6" r="2.05" fill="#ff0000"/>
<circle cx="132.02" cy="287.9" r="2.05" fill="#ff0000"/>
<polyline points="63.08,289.8 97.55,296 132.02,263.2" fill="none" stroke="#0000ff" stroke-width="1.35" stroke-linejoin="round"/>
<path d="M63.08 280.9V298.7M59.78 280.9H66.38M59.78 298.7H66.38M97.55 286.5V305.5M94.25 286.5H100.85M94.25 305.5H100.85M132.02 254.7V271.4M128.72 254.7H135.32M128.72 271.4H135.32" fill="none" stroke="#0000ff" stroke-width="1.1"/>
<circle cx="63.08" cy="289.8" r="2.05" fill="#0000ff"/>
<circle cx="97.55" cy="296" r="2.05" fill="#0000ff"/>
<circle cx="132.02" cy="263.2" r="2.05" fill="#0000ff"/>
<rect x="42.4" y="252.5" width="110.3" height="57" fill="none" stroke="#333333" stroke-width="0.6"/>
<rect x="42.4" y="237.3" width="110.3" height="15.2" fill="#d9d9d9" stroke="#333333" stroke-width="0.6"/>
<text x="97.55" y="246.3" class="st" text-anchor="middle">Prevotella copri</text>
<rect x="170.5" y="252.5" width="110.3" height="57" fill="#fff"/>
<line x1="170.5" y1="268.3" x2="174.7" y2="268.3" stroke="#333" stroke-width="0.8"/>
<text x="168.4" y="271.3" class="tk" text-anchor="end">12</text>
<line x1="170.5" y1="288.4" x2="174.7" y2="288.4" stroke="#333" stroke-width="0.8"/>
<text x="168.4" y="291.4" class="tk" text-anchor="end">11</text>
<line x1="170.5" y1="308.5" x2="174.7" y2="308.5" stroke="#333" stroke-width="0.8"/>
<text x="168.4" y="311.5" class="tk" text-anchor="end">10</text>
<polyline points="191.18,299.2 225.65,265.8 260.12,279.3" fill="none" stroke="#ff0000" stroke-width="1.35" stroke-linejoin="round"/>
<path d="M191.18 292V307.2M187.88 292H194.48M187.88 307.2H194.48M225.65 255V275.3M222.35 255H228.95M222.35 275.3H228.95M260.12 271.3V286.9M256.82 271.3H263.42M256.82 286.9H263.42" fill="none" stroke="#ff0000" stroke-width="1.1"/>
<circle cx="191.18" cy="299.2" r="2.05" fill="#ff0000"/>
<circle cx="225.65" cy="265.8" r="2.05" fill="#ff0000"/>
<circle cx="260.12" cy="279.3" r="2.05" fill="#ff0000"/>
<polyline points="191.18,286.9 225.65,268.3 260.12,273.4" fill="none" stroke="#0000ff" stroke-width="1.35" stroke-linejoin="round"/>
<path d="M191.18 276.4V296.9M187.88 276.4H194.48M187.88 296.9H194.48M225.65 255V281.9M222.35 255H228.95M222.35 281.9H228.95M260.12 261.6V285M256.82 261.6H263.42M256.82 285H263.42" fill="none" stroke="#0000ff" stroke-width="1.1"/>
<circle cx="191.18" cy="286.9" r="2.05" fill="#0000ff"/>
<circle cx="225.65" cy="268.3" r="2.05" fill="#0000ff"/>
<circle cx="260.12" cy="273.4" r="2.05" fill="#0000ff"/>
<rect x="170.5" y="252.5" width="110.3" height="57" fill="none" stroke="#333333" stroke-width="0.6"/>
<rect x="170.5" y="237.3" width="110.3" height="15.2" fill="#d9d9d9" stroke="#333333" stroke-width="0.6"/>
<text x="225.65" y="246.3" class="st" text-anchor="middle">Faecalibacterium prausnitzii</text>
<rect x="298.2" y="252.5" width="110.3" height="57" fill="#fff"/>
<line x1="298.2" y1="256.9" x2="302.4" y2="256.9" stroke="#333" stroke-width="0.8"/>
<text x="296.1" y="259.9" class="tk" text-anchor="end">10</text>
<line x1="298.2" y1="269.6" x2="302.4" y2="269.6" stroke="#333" stroke-width="0.8"/>
<text x="296.1" y="272.6" class="tk" text-anchor="end">9</text>
<line x1="298.2" y1="282.5" x2="302.4" y2="282.5" stroke="#333" stroke-width="0.8"/>
<text x="296.1" y="285.5" class="tk" text-anchor="end">8</text>
<line x1="298.2" y1="295.4" x2="302.4" y2="295.4" stroke="#333" stroke-width="0.8"/>
<text x="296.1" y="298.4" class="tk" text-anchor="end">7</text>
<line x1="298.2" y1="308.3" x2="302.4" y2="308.3" stroke="#333" stroke-width="0.8"/>
<text x="296.1" y="311.3" class="tk" text-anchor="end">6</text>
<polyline points="318.88,300.5 353.35,301.9 387.82,292.6" fill="none" stroke="#ff0000" stroke-width="1.35" stroke-linejoin="round"/>
<path d="M318.88 296.4V304.9M315.58 296.4H322.18M315.58 304.9H322.18M353.35 296.4V307.4M350.05 296.4H356.65M350.05 307.4H356.65M387.82 287.2V298.3M384.52 287.2H391.12M384.52 298.3H391.12" fill="none" stroke="#ff0000" stroke-width="1.1"/>
<circle cx="318.88" cy="300.5" r="2.05" fill="#ff0000"/>
<circle cx="353.35" cy="301.9" r="2.05" fill="#ff0000"/>
<circle cx="387.82" cy="292.6" r="2.05" fill="#ff0000"/>
<polyline points="318.88,297.7 353.35,294.3 387.82,263.7" fill="none" stroke="#0000ff" stroke-width="1.35" stroke-linejoin="round"/>
<path d="M318.88 291.4V304.3M315.58 291.4H322.18M315.58 304.3H322.18M353.35 287.2V301.5M350.05 287.2H356.65M350.05 301.5H356.65M387.82 254.8V272.4M384.52 254.8H391.12M384.52 272.4H391.12" fill="none" stroke="#0000ff" stroke-width="1.1"/>
<circle cx="318.88" cy="297.7" r="2.05" fill="#0000ff"/>
<circle cx="353.35" cy="294.3" r="2.05" fill="#0000ff"/>
<circle cx="387.82" cy="263.7" r="2.05" fill="#0000ff"/>
<rect x="298.2" y="252.5" width="110.3" height="57" fill="none" stroke="#333333" stroke-width="0.6"/>
<rect x="298.2" y="237.3" width="110.3" height="15.2" fill="#d9d9d9" stroke="#333333" stroke-width="0.6"/>
<text x="353.35" y="246.3" class="st" text-anchor="middle">Prevotella stercorea</text>
<rect x="426.1" y="252.5" width="110.3" height="57" fill="#fff"/>
<line x1="426.1" y1="254.8" x2="430.3" y2="254.8" stroke="#333" stroke-width="0.8"/>
<text x="424" y="257.8" class="tk" text-anchor="end">6</text>
<line x1="426.1" y1="268.3" x2="430.3" y2="268.3" stroke="#333" stroke-width="0.8"/>
<text x="424" y="271.3" class="tk" text-anchor="end">5</text>
<line x1="426.1" y1="281.7" x2="430.3" y2="281.7" stroke="#333" stroke-width="0.8"/>
<text x="424" y="284.7" class="tk" text-anchor="end">4</text>
<line x1="426.1" y1="295.4" x2="430.3" y2="295.4" stroke="#333" stroke-width="0.8"/>
<text x="424" y="298.4" class="tk" text-anchor="end">3</text>
<line x1="426.1" y1="308.9" x2="430.3" y2="308.9" stroke="#333" stroke-width="0.8"/>
<text x="424" y="311.9" class="tk" text-anchor="end">2</text>
<polyline points="446.78,275.3 481.25,262.8 515.72,277" fill="none" stroke="#ff0000" stroke-width="1.35" stroke-linejoin="round"/>
<path d="M446.78 268.8V281.2M443.48 268.8H450.08M443.48 281.2H450.08M481.25 255V270.7M477.95 255H484.55M477.95 270.7H484.55M515.72 270.5V283.3M512.42 270.5H519.02M512.42 283.3H519.02" fill="none" stroke="#ff0000" stroke-width="1.1"/>
<circle cx="446.78" cy="275.3" r="2.05" fill="#ff0000"/>
<circle cx="481.25" cy="262.8" r="2.05" fill="#ff0000"/>
<circle cx="515.72" cy="277" r="2.05" fill="#ff0000"/>
<polyline points="446.78,265.4 481.25,269.6 515.72,301.5" fill="none" stroke="#0000ff" stroke-width="1.35" stroke-linejoin="round"/>
<path d="M446.78 256.3V274.7M443.48 256.3H450.08M443.48 274.7H450.08M481.25 257.4V281.4M477.95 257.4H484.55M477.95 281.4H484.55M515.72 295.8V307.4M512.42 295.8H519.02M512.42 307.4H519.02" fill="none" stroke="#0000ff" stroke-width="1.1"/>
<circle cx="446.78" cy="265.4" r="2.05" fill="#0000ff"/>
<circle cx="481.25" cy="269.6" r="2.05" fill="#0000ff"/>
<circle cx="515.72" cy="301.5" r="2.05" fill="#0000ff"/>
<rect x="426.1" y="252.5" width="110.3" height="57" fill="none" stroke="#333333" stroke-width="0.6"/>
<rect x="426.1" y="237.3" width="110.3" height="15.2" fill="#d9d9d9" stroke="#333333" stroke-width="0.6"/>
<text x="481.25" y="246.3" class="st" text-anchor="middle">Bacteroides</text>
<rect x="557.6" y="252.5" width="110.3" height="57" fill="#fff"/>
<line x1="557.6" y1="259.7" x2="561.8" y2="259.7" stroke="#333" stroke-width="0.8"/>
<text x="555.5" y="262.7" class="tk" text-anchor="end">5</text>
<line x1="557.6" y1="274.3" x2="561.8" y2="274.3" stroke="#333" stroke-width="0.8"/>
<text x="555.5" y="277.3" class="tk" text-anchor="end">4</text>
<line x1="557.6" y1="288.8" x2="561.8" y2="288.8" stroke="#333" stroke-width="0.8"/>
<text x="555.5" y="291.8" class="tk" text-anchor="end">3</text>
<line x1="557.6" y1="303.4" x2="561.8" y2="303.4" stroke="#333" stroke-width="0.8"/>
<text x="555.5" y="306.4" class="tk" text-anchor="end">2</text>
<polyline points="578.28,266 612.75,262.6 647.22,277.8" fill="none" stroke="#ff0000" stroke-width="1.35" stroke-linejoin="round"/>
<path d="M578.28 260.3V272.4M574.98 260.3H581.58M574.98 272.4H581.58M612.75 254.8V271.1M609.45 254.8H616.05M609.45 271.1H616.05M647.22 270.5V285M643.92 270.5H650.52M643.92 285H650.52" fill="none" stroke="#ff0000" stroke-width="1.1"/>
<circle cx="578.28" cy="266" r="2.05" fill="#ff0000"/>
<circle cx="612.75" cy="262.6" r="2.05" fill="#ff0000"/>
<circle cx="647.22" cy="277.8" r="2.05" fill="#ff0000"/>
<polyline points="578.28,269.2 612.75,275.3 647.22,300.5" fill="none" stroke="#0000ff" stroke-width="1.35" stroke-linejoin="round"/>
<path d="M578.28 260.3V277.4M574.98 260.3H581.58M574.98 277.4H581.58M612.75 263.5V286.9M609.45 263.5H616.05M609.45 286.9H616.05M647.22 293.3V307.5M643.92 293.3H650.52M643.92 307.5H650.52" fill="none" stroke="#0000ff" stroke-width="1.1"/>
<circle cx="578.28" cy="269.2" r="2.05" fill="#0000ff"/>
<circle cx="612.75" cy="275.3" r="2.05" fill="#0000ff"/>
<circle cx="647.22" cy="300.5" r="2.05" fill="#0000ff"/>
<rect x="557.6" y="252.5" width="110.3" height="57" fill="none" stroke="#333333" stroke-width="0.6"/>
<rect x="557.6" y="237.3" width="110.3" height="15.2" fill="#d9d9d9" stroke="#333333" stroke-width="0.6"/>
<text x="612.75" y="246.3" class="st" text-anchor="middle">Bifidobacterium</text>
<rect x="42.4" y="329.34" width="110.3" height="57" fill="#fff"/>
<line x1="42.4" y1="335.2" x2="46.6" y2="335.2" stroke="#333" stroke-width="0.8"/>
<text x="40.3" y="338.2" class="tk" text-anchor="end">5</text>
<line x1="42.4" y1="349.4" x2="46.6" y2="349.4" stroke="#333" stroke-width="0.8"/>
<text x="40.3" y="352.4" class="tk" text-anchor="end">4</text>
<line x1="42.4" y1="363.5" x2="46.6" y2="363.5" stroke="#333" stroke-width="0.8"/>
<text x="40.3" y="366.5" class="tk" text-anchor="end">3</text>
<line x1="42.4" y1="377.5" x2="46.6" y2="377.5" stroke="#333" stroke-width="0.8"/>
<text x="40.3" y="380.5" class="tk" text-anchor="end">2</text>
<polyline points="63.08,351.3 97.55,340 132.02,362.9" fill="none" stroke="#ff0000" stroke-width="1.35" stroke-linejoin="round"/>
<path d="M63.08 345.8V357M59.78 345.8H66.38M59.78 357H66.38M97.55 331.6V348.3M94.25 331.6H100.85M94.25 348.3H100.85M132.02 358.2V367.5M128.72 358.2H135.32M128.72 367.5H135.32" fill="none" stroke="#ff0000" stroke-width="1.1"/>
<circle cx="63.08" cy="351.3" r="2.05" fill="#ff0000"/>
<circle cx="97.55" cy="340" r="2.05" fill="#ff0000"/>
<circle cx="132.02" cy="362.9" r="2.05" fill="#ff0000"/>
<polyline points="63.08,355.7 97.55,366.1 132.02,379" fill="none" stroke="#0000ff" stroke-width="1.35" stroke-linejoin="round"/>
<path d="M63.08 349.1V363.3M59.78 349.1H66.38M59.78 363.3H66.38M97.55 359.1V373.4M94.25 359.1H100.85M94.25 373.4H100.85M132.02 374.3V384.2M128.72 374.3H135.32M128.72 384.2H135.32" fill="none" stroke="#0000ff" stroke-width="1.1"/>
<circle cx="63.08" cy="355.7" r="2.05" fill="#0000ff"/>
<circle cx="97.55" cy="366.1" r="2.05" fill="#0000ff"/>
<circle cx="132.02" cy="379" r="2.05" fill="#0000ff"/>
<rect x="42.4" y="329.34" width="110.3" height="57" fill="none" stroke="#333333" stroke-width="0.6"/>
<rect x="42.4" y="314.14" width="110.3" height="15.2" fill="#d9d9d9" stroke="#333333" stroke-width="0.6"/>
<text x="97.55" y="324.1" class="st" text-anchor="middle">Escherichia coli</text>
<rect x="170.5" y="329.34" width="110.3" height="57" fill="#fff"/>
<line x1="170.5" y1="330.5" x2="174.7" y2="330.5" stroke="#333" stroke-width="0.8"/>
<text x="168.4" y="333.5" class="tk" text-anchor="end">4.0</text>
<line x1="170.5" y1="341.5" x2="174.7" y2="341.5" stroke="#333" stroke-width="0.8"/>
<text x="168.4" y="344.5" class="tk" text-anchor="end">3.5</text>
<line x1="170.5" y1="352.7" x2="174.7" y2="352.7" stroke="#333" stroke-width="0.8"/>
<text x="168.4" y="355.7" class="tk" text-anchor="end">3.0</text>
<line x1="170.5" y1="363.9" x2="174.7" y2="363.9" stroke="#333" stroke-width="0.8"/>
<text x="168.4" y="366.9" class="tk" text-anchor="end">2.5</text>
<line x1="170.5" y1="375.1" x2="174.7" y2="375.1" stroke="#333" stroke-width="0.8"/>
<text x="168.4" y="378.1" class="tk" text-anchor="end">2.0</text>
<line x1="170.5" y1="386.1" x2="174.7" y2="386.1" stroke="#333" stroke-width="0.8"/>
<text x="168.4" y="389.1" class="tk" text-anchor="end">1.5</text>
<polyline points="191.18,368 225.65,377.9 260.12,357.6" fill="none" stroke="#ff0000" stroke-width="1.35" stroke-linejoin="round"/>
<path d="M191.18 361V374.3M187.88 361H194.48M187.88 374.3H194.48M225.65 371.8V384.2M222.35 371.8H228.95M222.35 384.2H228.95M260.12 350V365.2M256.82 350H263.42M256.82 365.2H263.42" fill="none" stroke="#ff0000" stroke-width="1.1"/>
<circle cx="191.18" cy="368" r="2.05" fill="#ff0000"/>
<circle cx="225.65" cy="377.9" r="2.05" fill="#ff0000"/>
<circle cx="260.12" cy="357.6" r="2.05" fill="#ff0000"/>
<polyline points="191.18,369.4 225.65,367.7 260.12,343.4" fill="none" stroke="#0000ff" stroke-width="1.35" stroke-linejoin="round"/>
<path d="M191.18 361.8V378.1M187.88 361.8H194.48M187.88 378.1H194.48M225.65 358.2V377.1M222.35 358.2H228.95M222.35 377.1H228.95M260.12 331.6V355.3M256.82 331.6H263.42M256.82 355.3H263.42" fill="none" stroke="#0000ff" stroke-width="1.1"/>
<circle cx="191.18" cy="369.4" r="2.05" fill="#0000ff"/>
<circle cx="225.65" cy="367.7" r="2.05" fill="#0000ff"/>
<circle cx="260.12" cy="343.4" r="2.05" fill="#0000ff"/>
<rect x="170.5" y="329.34" width="110.3" height="57" fill="none" stroke="#333333" stroke-width="0.6"/>
<rect x="170.5" y="314.14" width="110.3" height="15.2" fill="#d9d9d9" stroke="#333333" stroke-width="0.6"/>
<text x="225.65" y="324.1" class="st" text-anchor="middle">Succinivibrio dextrinosolvens</text>
<rect x="298.2" y="329.34" width="110.3" height="57" fill="#fff"/>
<line x1="298.2" y1="332.9" x2="302.4" y2="332.9" stroke="#333" stroke-width="0.8"/>
<text x="296.1" y="335.9" class="tk" text-anchor="end">2.8</text>
<line x1="298.2" y1="351.1" x2="302.4" y2="351.1" stroke="#333" stroke-width="0.8"/>
<text x="296.1" y="354.1" class="tk" text-anchor="end">2.4</text>
<line x1="298.2" y1="369.4" x2="302.4" y2="369.4" stroke="#333" stroke-width="0.8"/>
<text x="296.1" y="372.4" class="tk" text-anchor="end">2.0</text>
<polyline points="318.88,365.2 353.35,370.5 387.82,369.4" fill="none" stroke="#ff0000" stroke-width="1.35" stroke-linejoin="round"/>
<path d="M318.88 357.2V373.4M315.58 357.2H322.18M315.58 373.4H322.18M353.35 361.4V379.4M350.05 361.4H356.65M350.05 379.4H356.65M387.82 360.1V378.5M384.52 360.1H391.12M384.52 378.5H391.12" fill="none" stroke="#ff0000" stroke-width="1.1"/>
<circle cx="318.88" cy="365.2" r="2.05" fill="#ff0000"/>
<circle cx="353.35" cy="370.5" r="2.05" fill="#ff0000"/>
<circle cx="387.82" cy="369.4" r="2.05" fill="#ff0000"/>
<polyline points="318.88,373.2 353.35,366.7 387.82,345.6" fill="none" stroke="#0000ff" stroke-width="1.35" stroke-linejoin="round"/>
<path d="M318.88 362V384.2M315.58 362H322.18M315.58 384.2H322.18M353.35 352.5V379.8M350.05 352.5H356.65M350.05 379.8H356.65M387.82 331.6V359.7M384.52 331.6H391.12M384.52 359.7H391.12" fill="none" stroke="#0000ff" stroke-width="1.1"/>
<circle cx="318.88" cy="373.2" r="2.05" fill="#0000ff"/>
<circle cx="353.35" cy="366.7" r="2.05" fill="#0000ff"/>
<circle cx="387.82" cy="345.6" r="2.05" fill="#0000ff"/>
<rect x="298.2" y="329.34" width="110.3" height="57" fill="none" stroke="#333333" stroke-width="0.6"/>
<rect x="298.2" y="314.14" width="110.3" height="15.2" fill="#d9d9d9" stroke="#333333" stroke-width="0.6"/>
<text x="353.35" y="324.1" class="st" text-anchor="middle">Paraprevotella xylaniphila</text>
<rect x="426.1" y="329.34" width="110.3" height="57" fill="#fff"/>
<line x1="426.1" y1="337.3" x2="430.3" y2="337.3" stroke="#333" stroke-width="0.8"/>
<text x="424" y="340.3" class="tk" text-anchor="end">2.0</text>
<line x1="426.1" y1="348.5" x2="430.3" y2="348.5" stroke="#333" stroke-width="0.8"/>
<text x="424" y="351.5" class="tk" text-anchor="end">1.8</text>
<line x1="426.1" y1="359.7" x2="430.3" y2="359.7" stroke="#333" stroke-width="0.8"/>
<text x="424" y="362.7" class="tk" text-anchor="end">1.6</text>
<line x1="426.1" y1="371.1" x2="430.3" y2="371.1" stroke="#333" stroke-width="0.8"/>
<text x="424" y="374.1" class="tk" text-anchor="end">1.4</text>
<line x1="426.1" y1="382.3" x2="430.3" y2="382.3" stroke="#333" stroke-width="0.8"/>
<text x="424" y="385.3" class="tk" text-anchor="end">1.2</text>
<polyline points="446.78,351.5 481.25,341.5 515.72,353.2" fill="none" stroke="#ff0000" stroke-width="1.35" stroke-linejoin="round"/>
<path d="M446.78 343.4V359.5M443.48 343.4H450.08M443.48 359.5H450.08M481.25 331.4V351M477.95 331.4H484.55M477.95 351H484.55M515.72 345.6V360.4M512.42 345.6H519.02M512.42 360.4H519.02" fill="none" stroke="#ff0000" stroke-width="1.1"/>
<circle cx="446.78" cy="351.5" r="2.05" fill="#ff0000"/>
<circle cx="481.25" cy="341.5" r="2.05" fill="#ff0000"/>
<circle cx="515.72" cy="353.2" r="2.05" fill="#ff0000"/>
<polyline points="446.78,355.3 481.25,349.4 515.72,373.7" fill="none" stroke="#0000ff" stroke-width="1.35" stroke-linejoin="round"/>
<path d="M446.78 345.3V365.8M443.48 345.3H450.08M443.48 365.8H450.08M481.25 337.1V362M477.95 337.1H484.55M477.95 362H484.55M515.72 363.3V384.4M512.42 363.3H519.02M512.42 384.4H519.02" fill="none" stroke="#0000ff" stroke-width="1.1"/>
<circle cx="446.78" cy="355.3" r="2.05" fill="#0000ff"/>
<circle cx="481.25" cy="349.4" r="2.05" fill="#0000ff"/>
<circle cx="515.72" cy="373.7" r="2.05" fill="#0000ff"/>
<rect x="426.1" y="329.34" width="110.3" height="57" fill="none" stroke="#333333" stroke-width="0.6"/>
<rect x="426.1" y="314.14" width="110.3" height="15.2" fill="#d9d9d9" stroke="#333333" stroke-width="0.6"/>
<text x="481.25" y="324.1" class="st" text-anchor="middle">Sutterella wadsworthensis</text>
<rect x="557.6" y="329.34" width="110.3" height="57" fill="#fff"/>
<line x1="557.6" y1="330.7" x2="561.8" y2="330.7" stroke="#333" stroke-width="0.8"/>
<text x="555.5" y="333.7" class="tk" text-anchor="end">1.8</text>
<line x1="557.6" y1="344.3" x2="561.8" y2="344.3" stroke="#333" stroke-width="0.8"/>
<text x="555.5" y="347.3" class="tk" text-anchor="end">1.5</text>
<line x1="557.6" y1="358" x2="561.8" y2="358" stroke="#333" stroke-width="0.8"/>
<text x="555.5" y="361" class="tk" text-anchor="end">1.2</text>
<line x1="557.6" y1="371.5" x2="561.8" y2="371.5" stroke="#333" stroke-width="0.8"/>
<text x="555.5" y="374.5" class="tk" text-anchor="end">0.9</text>
<line x1="557.6" y1="385.1" x2="561.8" y2="385.1" stroke="#333" stroke-width="0.8"/>
<text x="555.5" y="388.1" class="tk" text-anchor="end">0.6</text>
<polyline points="578.28,351.3 612.75,364.6 647.22,368.6" fill="none" stroke="#ff0000" stroke-width="1.35" stroke-linejoin="round"/>
<path d="M578.28 343.4V358.9M574.98 343.4H581.58M574.98 358.9H581.58M612.75 359.5V369.4M609.45 359.5H616.05M609.45 369.4H616.05M647.22 362.7V374.3M643.92 362.7H650.52M643.92 374.3H650.52" fill="none" stroke="#ff0000" stroke-width="1.1"/>
<circle cx="578.28" cy="351.3" r="2.05" fill="#ff0000"/>
<circle cx="612.75" cy="364.6" r="2.05" fill="#ff0000"/>
<circle cx="647.22" cy="368.6" r="2.05" fill="#ff0000"/>
<polyline points="578.28,342.8 612.75,366.7 647.22,379.8" fill="none" stroke="#0000ff" stroke-width="1.35" stroke-linejoin="round"/>
<path d="M578.28 331.6V354.2M574.98 331.6H581.58M574.98 354.2H581.58M612.75 359.1V374.1M609.45 359.1H616.05M609.45 374.1H616.05M647.22 375.6V384.2M643.92 375.6H650.52M643.92 384.2H650.52" fill="none" stroke="#0000ff" stroke-width="1.1"/>
<circle cx="578.28" cy="342.8" r="2.05" fill="#0000ff"/>
<circle cx="612.75" cy="366.7" r="2.05" fill="#0000ff"/>
<circle cx="647.22" cy="379.8" r="2.05" fill="#0000ff"/>
<rect x="557.6" y="329.34" width="110.3" height="57" fill="none" stroke="#333333" stroke-width="0.6"/>
<rect x="557.6" y="314.14" width="110.3" height="15.2" fill="#d9d9d9" stroke="#333333" stroke-width="0.6"/>
<text x="612.75" y="324.1" class="st" text-anchor="middle">Streptococcus salivarius</text>
<rect x="42.4" y="406.18" width="110.3" height="57" fill="#fff"/>
<line x1="42.4" y1="419.4" x2="46.6" y2="419.4" stroke="#333" stroke-width="0.8"/>
<text x="40.3" y="422.4" class="tk" text-anchor="end">1.2</text>
<line x1="42.4" y1="435.2" x2="46.6" y2="435.2" stroke="#333" stroke-width="0.8"/>
<text x="40.3" y="438.2" class="tk" text-anchor="end">0.9</text>
<line x1="42.4" y1="451.1" x2="46.6" y2="451.1" stroke="#333" stroke-width="0.8"/>
<text x="40.3" y="454.1" class="tk" text-anchor="end">0.6</text>
<polyline points="63.08,425.5 97.55,431.8 132.02,450.4" fill="none" stroke="#ff0000" stroke-width="1.35" stroke-linejoin="round"/>
<path d="M63.08 417.1V433.7M59.78 417.1H66.38M59.78 433.7H66.38M97.55 422.8V440.3M94.25 422.8H100.85M94.25 440.3H100.85M132.02 444.5V456.4M128.72 444.5H135.32M128.72 456.4H135.32" fill="none" stroke="#ff0000" stroke-width="1.1"/>
<circle cx="63.08" cy="425.5" r="2.05" fill="#ff0000"/>
<circle cx="97.55" cy="431.8" r="2.05" fill="#ff0000"/>
<circle cx="132.02" cy="450.4" r="2.05" fill="#ff0000"/>
<polyline points="63.08,431.4 97.55,423.6 132.02,449.2" fill="none" stroke="#0000ff" stroke-width="1.35" stroke-linejoin="round"/>
<path d="M63.08 421.3V441.6M59.78 421.3H66.38M59.78 441.6H66.38M97.55 408.6V438.4M94.25 408.6H100.85M94.25 438.4H100.85M132.02 437.1V461.2M128.72 437.1H135.32M128.72 461.2H135.32" fill="none" stroke="#0000ff" stroke-width="1.1"/>
<circle cx="63.08" cy="431.4" r="2.05" fill="#0000ff"/>
<circle cx="97.55" cy="423.6" r="2.05" fill="#0000ff"/>
<circle cx="132.02" cy="449.2" r="2.05" fill="#0000ff"/>
<rect x="42.4" y="406.18" width="110.3" height="57" fill="none" stroke="#333333" stroke-width="0.6"/>
<rect x="42.4" y="390.98" width="110.3" height="15.2" fill="#d9d9d9" stroke="#333333" stroke-width="0.6"/>
<text x="97.55" y="400.1" class="st" text-anchor="middle">Megasphaera elsdenii</text>
<rect x="170.5" y="406.18" width="110.3" height="57" fill="#fff"/>
<line x1="170.5" y1="409.4" x2="174.7" y2="409.4" stroke="#333" stroke-width="0.8"/>
<text x="168.4" y="412.4" class="tk" text-anchor="end">1.6</text>
<line x1="170.5" y1="426.6" x2="174.7" y2="426.6" stroke="#333" stroke-width="0.8"/>
<text x="168.4" y="429.6" class="tk" text-anchor="end">1.2</text>
<line x1="170.5" y1="444.1" x2="174.7" y2="444.1" stroke="#333" stroke-width="0.8"/>
<text x="168.4" y="447.1" class="tk" text-anchor="end">0.8</text>
<line x1="170.5" y1="461.6" x2="174.7" y2="461.6" stroke="#333" stroke-width="0.8"/>
<text x="168.4" y="464.6" class="tk" text-anchor="end">0.4</text>
<polyline points="191.18,420.7 225.65,446.6 260.12,434.6" fill="none" stroke="#ff0000" stroke-width="1.35" stroke-linejoin="round"/>
<path d="M191.18 408.6V433.3M187.88 408.6H194.48M187.88 433.3H194.48M225.65 441.2V452.6M222.35 441.2H228.95M222.35 452.6H228.95M260.12 427.4V441.2M256.82 427.4H263.42M256.82 441.2H263.42" fill="none" stroke="#ff0000" stroke-width="1.1"/>
<circle cx="191.18" cy="420.7" r="2.05" fill="#ff0000"/>
<circle cx="225.65" cy="446.6" r="2.05" fill="#ff0000"/>
<circle cx="260.12" cy="434.6" r="2.05" fill="#ff0000"/>
<polyline points="191.18,455.1 225.65,453.6 260.12,452.3" fill="none" stroke="#0000ff" stroke-width="1.35" stroke-linejoin="round"/>
<path d="M191.18 449.6V460.6M187.88 449.6H194.48M187.88 460.6H194.48M225.65 446.6V461.2M222.35 446.6H228.95M222.35 461.2H228.95M260.12 447.3V457.4M256.82 447.3H263.42M256.82 457.4H263.42" fill="none" stroke="#0000ff" stroke-width="1.1"/>
<circle cx="191.18" cy="455.1" r="2.05" fill="#0000ff"/>
<circle cx="225.65" cy="453.6" r="2.05" fill="#0000ff"/>
<circle cx="260.12" cy="452.3" r="2.05" fill="#0000ff"/>
<rect x="170.5" y="406.18" width="110.3" height="57" fill="none" stroke="#333333" stroke-width="0.6"/>
<rect x="170.5" y="390.98" width="110.3" height="15.2" fill="#d9d9d9" stroke="#333333" stroke-width="0.6"/>
<text x="225.65" y="400.1" class="st" text-anchor="middle">Streptococcus equinus</text>
<rect x="298.2" y="406.18" width="110.3" height="57" fill="#fff"/>
<line x1="298.2" y1="408.2" x2="302.4" y2="408.2" stroke="#333" stroke-width="0.8"/>
<text x="296.1" y="411.2" class="tk" text-anchor="end">1.6</text>
<line x1="298.2" y1="418.8" x2="302.4" y2="418.8" stroke="#333" stroke-width="0.8"/>
<text x="296.1" y="421.8" class="tk" text-anchor="end">1.4</text>
<line x1="298.2" y1="429.5" x2="302.4" y2="429.5" stroke="#333" stroke-width="0.8"/>
<text x="296.1" y="432.5" class="tk" text-anchor="end">1.2</text>
<line x1="298.2" y1="440.3" x2="302.4" y2="440.3" stroke="#333" stroke-width="0.8"/>
<text x="296.1" y="443.3" class="tk" text-anchor="end">1.0</text>
<line x1="298.2" y1="451.1" x2="302.4" y2="451.1" stroke="#333" stroke-width="0.8"/>
<text x="296.1" y="454.1" class="tk" text-anchor="end">0.8</text>
<line x1="298.2" y1="462.1" x2="302.4" y2="462.1" stroke="#333" stroke-width="0.8"/>
<text x="296.1" y="465.1" class="tk" text-anchor="end">0.6</text>
<polyline points="318.88,445.6 353.35,449.4 387.82,450" fill="none" stroke="#ff0000" stroke-width="1.35" stroke-linejoin="round"/>
<path d="M318.88 439V451.3M315.58 439H322.18M315.58 451.3H322.18M353.35 443.9V454.5M350.05 443.9H356.65M350.05 454.5H356.65M387.82 444.5V455.5M384.52 444.5H391.12M384.52 455.5H391.12" fill="none" stroke="#ff0000" stroke-width="1.1"/>
<circle cx="318.88" cy="445.6" r="2.05" fill="#ff0000"/>
<circle cx="353.35" cy="449.4" r="2.05" fill="#ff0000"/>
<circle cx="387.82" cy="450" r="2.05" fill="#ff0000"/>
<polyline points="318.88,447.9 353.35,426.1 387.82,455.1" fill="none" stroke="#0000ff" stroke-width="1.35" stroke-linejoin="round"/>
<path d="M318.88 438.4V458.3M315.58 438.4H322.18M315.58 458.3H322.18M353.35 408.6V444.1M350.05 408.6H356.65M350.05 444.1H356.65M387.82 449.8V460.8M384.52 449.8H391.12M384.52 460.8H391.12" fill="none" stroke="#0000ff" stroke-width="1.1"/>
<circle cx="318.88" cy="447.9" r="2.05" fill="#0000ff"/>
<circle cx="353.35" cy="426.1" r="2.05" fill="#0000ff"/>
<circle cx="387.82" cy="455.1" r="2.05" fill="#0000ff"/>
<rect x="298.2" y="406.18" width="110.3" height="57" fill="none" stroke="#333333" stroke-width="0.6"/>
<rect x="298.2" y="390.98" width="110.3" height="15.2" fill="#d9d9d9" stroke="#333333" stroke-width="0.6"/>
<text x="353.35" y="400.1" class="st" text-anchor="middle">Haemophilus parainfluenzae</text>
<rect x="426.1" y="406.18" width="110.3" height="57" fill="#fff"/>
<line x1="426.1" y1="416" x2="430.3" y2="416" stroke="#333" stroke-width="0.8"/>
<text x="424" y="419" class="tk" text-anchor="end">1.0</text>
<line x1="426.1" y1="430" x2="430.3" y2="430" stroke="#333" stroke-width="0.8"/>
<text x="424" y="433" class="tk" text-anchor="end">0.9</text>
<line x1="426.1" y1="444.1" x2="430.3" y2="444.1" stroke="#333" stroke-width="0.8"/>
<text x="424" y="447.1" class="tk" text-anchor="end">0.8</text>
<line x1="426.1" y1="458.3" x2="430.3" y2="458.3" stroke="#333" stroke-width="0.8"/>
<text x="424" y="461.3" class="tk" text-anchor="end">0.7</text>
<polyline points="446.78,435.5 481.25,451.1 515.72,446.2" fill="none" stroke="#ff0000" stroke-width="1.35" stroke-linejoin="round"/>
<path d="M446.78 423.6V446.9M443.48 423.6H450.08M443.48 446.9H450.08M481.25 441.4V460.8M477.95 441.4H484.55M477.95 460.8H484.55M515.72 437.1V455.1M512.42 437.1H519.02M512.42 455.1H519.02" fill="none" stroke="#ff0000" stroke-width="1.1"/>
<circle cx="446.78" cy="435.5" r="2.05" fill="#ff0000"/>
<circle cx="481.25" cy="451.1" r="2.05" fill="#ff0000"/>
<circle cx="515.72" cy="446.2" r="2.05" fill="#ff0000"/>
<polyline points="446.78,422.6 481.25,445 515.72,429.9" fill="none" stroke="#0000ff" stroke-width="1.35" stroke-linejoin="round"/>
<path d="M446.78 408.6V437.3M443.48 408.6H450.08M443.48 437.3H450.08M481.25 431.4V458.3M477.95 431.4H484.55M477.95 458.3H484.55M515.72 413.5V446.2M512.42 413.5H519.02M512.42 446.2H519.02" fill="none" stroke="#0000ff" stroke-width="1.1"/>
<circle cx="446.78" cy="422.6" r="2.05" fill="#0000ff"/>
<circle cx="481.25" cy="445" r="2.05" fill="#0000ff"/>
<circle cx="515.72" cy="429.9" r="2.05" fill="#0000ff"/>
<rect x="426.1" y="406.18" width="110.3" height="57" fill="none" stroke="#333333" stroke-width="0.6"/>
<rect x="426.1" y="390.98" width="110.3" height="15.2" fill="#d9d9d9" stroke="#333333" stroke-width="0.6"/>
<text x="481.25" y="400.1" class="st" text-anchor="middle">Sutterella sp.</text>
<rect x="557.6" y="406.18" width="110.3" height="57" fill="#fff"/>
<line x1="557.6" y1="406.7" x2="561.8" y2="406.7" stroke="#333" stroke-width="0.8"/>
<text x="555.5" y="409.7" class="tk" text-anchor="end">1.0</text>
<line x1="557.6" y1="418.1" x2="561.8" y2="418.1" stroke="#333" stroke-width="0.8"/>
<text x="555.5" y="421.1" class="tk" text-anchor="end">0.9</text>
<line x1="557.6" y1="429.9" x2="561.8" y2="429.9" stroke="#333" stroke-width="0.8"/>
<text x="555.5" y="432.9" class="tk" text-anchor="end">0.8</text>
<line x1="557.6" y1="441.6" x2="561.8" y2="441.6" stroke="#333" stroke-width="0.8"/>
<text x="555.5" y="444.6" class="tk" text-anchor="end">0.7</text>
<line x1="557.6" y1="453.2" x2="561.8" y2="453.2" stroke="#333" stroke-width="0.8"/>
<text x="555.5" y="456.2" class="tk" text-anchor="end">0.6</text>
<polyline points="578.28,451.7 612.75,445 647.22,420.7" fill="none" stroke="#ff0000" stroke-width="1.35" stroke-linejoin="round"/>
<path d="M578.28 442.2V460.8M574.98 442.2H581.58M574.98 460.8H581.58M612.75 435.5V454.1M609.45 435.5H616.05M609.45 454.1H616.05M647.22 408.6V433.7M643.92 408.6H650.52M643.92 433.7H650.52" fill="none" stroke="#ff0000" stroke-width="1.1"/>
<circle cx="578.28" cy="451.7" r="2.05" fill="#ff0000"/>
<circle cx="612.75" cy="445" r="2.05" fill="#ff0000"/>
<circle cx="647.22" cy="420.7" r="2.05" fill="#ff0000"/>
<polyline points="578.28,429.9 612.75,428.9 647.22,444.3" fill="none" stroke="#0000ff" stroke-width="1.35" stroke-linejoin="round"/>
<path d="M578.28 417.5V442.2M574.98 417.5H581.58M574.98 442.2H581.58M612.75 412.4V445.4M609.45 412.4H616.05M609.45 445.4H616.05M647.22 434V454.5M643.92 434H650.52M643.92 454.5H650.52" fill="none" stroke="#0000ff" stroke-width="1.1"/>
<circle cx="578.28" cy="429.9" r="2.05" fill="#0000ff"/>
<circle cx="612.75" cy="428.9" r="2.05" fill="#0000ff"/>
<circle cx="647.22" cy="444.3" r="2.05" fill="#0000ff"/>
<rect x="557.6" y="406.18" width="110.3" height="57" fill="none" stroke="#333333" stroke-width="0.6"/>
<rect x="557.6" y="390.98" width="110.3" height="15.2" fill="#d9d9d9" stroke="#333333" stroke-width="0.6"/>
<text x="612.75" y="400.1" class="st" text-anchor="middle">Ruminococcaceae UCG-002</text>
<rect x="42.4" y="483.02" width="110.3" height="57" fill="#fff"/>
<line x1="42.4" y1="488.8" x2="46.6" y2="488.8" stroke="#333" stroke-width="0.8"/>
<text x="40.3" y="491.8" class="tk" text-anchor="end">0.9</text>
<line x1="42.4" y1="499.5" x2="46.6" y2="499.5" stroke="#333" stroke-width="0.8"/>
<text x="40.3" y="502.5" class="tk" text-anchor="end">0.8</text>
<line x1="42.4" y1="509.9" x2="46.6" y2="509.9" stroke="#333" stroke-width="0.8"/>
<text x="40.3" y="512.9" class="tk" text-anchor="end">0.7</text>
<line x1="42.4" y1="520.3" x2="46.6" y2="520.3" stroke="#333" stroke-width="0.8"/>
<text x="40.3" y="523.3" class="tk" text-anchor="end">0.6</text>
<line x1="42.4" y1="531" x2="46.6" y2="531" stroke="#333" stroke-width="0.8"/>
<text x="40.3" y="534" class="tk" text-anchor="end">0.5</text>
<polyline points="63.08,510.7 97.55,506.9 132.02,495.8" fill="none" stroke="#ff0000" stroke-width="1.35" stroke-linejoin="round"/>
<path d="M63.08 501.7V519.6M59.78 501.7H66.38M59.78 519.6H66.38M97.55 497.4V516.9M94.25 497.4H100.85M94.25 516.9H100.85M132.02 485.6V506.3M128.72 485.6H135.32M128.72 506.3H135.32" fill="none" stroke="#ff0000" stroke-width="1.1"/>
<circle cx="63.08" cy="510.7" r="2.05" fill="#ff0000"/>
<circle cx="97.55" cy="506.9" r="2.05" fill="#ff0000"/>
<circle cx="132.02" cy="495.8" r="2.05" fill="#ff0000"/>
<polyline points="63.08,511 97.55,519.2 132.02,523" fill="none" stroke="#0000ff" stroke-width="1.35" stroke-linejoin="round"/>
<path d="M63.08 501.5V521.1M59.78 501.5H66.38M59.78 521.1H66.38M97.55 501.2V537.6M94.25 501.2H100.85M94.25 537.6H100.85M132.02 511.8V533.8M128.72 511.8H135.32M128.72 533.8H135.32" fill="none" stroke="#0000ff" stroke-width="1.1"/>
<circle cx="63.08" cy="511" r="2.05" fill="#0000ff"/>
<circle cx="97.55" cy="519.2" r="2.05" fill="#0000ff"/>
<circle cx="132.02" cy="523" r="2.05" fill="#0000ff"/>
<rect x="42.4" y="483.02" width="110.3" height="57" fill="none" stroke="#333333" stroke-width="0.6"/>
<rect x="42.4" y="467.82" width="110.3" height="15.2" fill="#d9d9d9" stroke="#333333" stroke-width="0.6"/>
<text x="97.55" y="477.2" class="st" text-anchor="middle">Thalassospira</text>
<rect x="170.5" y="483.02" width="110.3" height="57" fill="#fff"/>
<line x1="170.5" y1="483.5" x2="174.7" y2="483.5" stroke="#333" stroke-width="0.8"/>
<text x="168.4" y="486.5" class="tk" text-anchor="end">1.25</text>
<line x1="170.5" y1="498.5" x2="174.7" y2="498.5" stroke="#333" stroke-width="0.8"/>
<text x="168.4" y="501.5" class="tk" text-anchor="end">1.00</text>
<line x1="170.5" y1="513.5" x2="174.7" y2="513.5" stroke="#333" stroke-width="0.8"/>
<text x="168.4" y="516.5" class="tk" text-anchor="end">0.75</text>
<line x1="170.5" y1="528.7" x2="174.7" y2="528.7" stroke="#333" stroke-width="0.8"/>
<text x="168.4" y="531.7" class="tk" text-anchor="end">0.50</text>
<polyline points="191.18,529.6 225.65,507.8 260.12,513.9" fill="none" stroke="#ff0000" stroke-width="1.35" stroke-linejoin="round"/>
<path d="M191.18 524.5V535M187.88 524.5H194.48M187.88 535H194.48M225.65 495.8V519.8M222.35 495.8H228.95M222.35 519.8H228.95M260.12 504V524.3M256.82 504H263.42M256.82 524.3H263.42" fill="none" stroke="#ff0000" stroke-width="1.1"/>
<circle cx="191.18" cy="529.6" r="2.05" fill="#ff0000"/>
<circle cx="225.65" cy="507.8" r="2.05" fill="#ff0000"/>
<circle cx="260.12" cy="513.9" r="2.05" fill="#ff0000"/>
<polyline points="191.18,512.9 225.65,501.7 260.12,528.7" fill="none" stroke="#0000ff" stroke-width="1.35" stroke-linejoin="round"/>
<path d="M191.18 503.4V522M187.88 503.4H194.48M187.88 522H194.48M225.65 485.6V518.2M222.35 485.6H228.95M222.35 518.2H228.95M260.12 520.3V537.6M256.82 520.3H263.42M256.82 537.6H263.42" fill="none" stroke="#0000ff" stroke-width="1.1"/>
<circle cx="191.18" cy="512.9" r="2.05" fill="#0000ff"/>
<circle cx="225.65" cy="501.7" r="2.05" fill="#0000ff"/>
<circle cx="260.12" cy="528.7" r="2.05" fill="#0000ff"/>
<rect x="170.5" y="483.02" width="110.3" height="57" fill="none" stroke="#333333" stroke-width="0.6"/>
<rect x="170.5" y="467.82" width="110.3" height="15.2" fill="#d9d9d9" stroke="#333333" stroke-width="0.6"/>
<text x="225.65" y="477.2" class="st" text-anchor="middle">Klebsiella pneumoniae</text>
<rect x="298.2" y="483.02" width="110.3" height="57" fill="#fff"/>
<line x1="298.2" y1="489.4" x2="302.4" y2="489.4" stroke="#333" stroke-width="0.8"/>
<text x="296.1" y="492.4" class="tk" text-anchor="end">0.9</text>
<line x1="298.2" y1="499.5" x2="302.4" y2="499.5" stroke="#333" stroke-width="0.8"/>
<text x="296.1" y="502.5" class="tk" text-anchor="end">0.8</text>
<line x1="298.2" y1="509.5" x2="302.4" y2="509.5" stroke="#333" stroke-width="0.8"/>
<text x="296.1" y="512.5" class="tk" text-anchor="end">0.7</text>
<line x1="298.2" y1="519.6" x2="302.4" y2="519.6" stroke="#333" stroke-width="0.8"/>
<text x="296.1" y="522.6" class="tk" text-anchor="end">0.6</text>
<line x1="298.2" y1="529.6" x2="302.4" y2="529.6" stroke="#333" stroke-width="0.8"/>
<text x="296.1" y="532.6" class="tk" text-anchor="end">0.5</text>
<line x1="298.2" y1="539.7" x2="302.4" y2="539.7" stroke="#333" stroke-width="0.8"/>
<text x="296.1" y="542.7" class="tk" text-anchor="end">0.4</text>
<polyline points="318.88,531.5 353.35,513.9 387.82,499.6" fill="none" stroke="#ff0000" stroke-width="1.35" stroke-linejoin="round"/>
<path d="M318.88 525.5V537.6M315.58 525.5H322.18M315.58 537.6H322.18M353.35 505V522.4M350.05 505H356.65M350.05 522.4H356.65M387.82 490.3V509.3M384.52 490.3H391.12M384.52 509.3H391.12" fill="none" stroke="#ff0000" stroke-width="1.1"/>
<circle cx="318.88" cy="531.5" r="2.05" fill="#ff0000"/>
<circle cx="353.35" cy="513.9" r="2.05" fill="#ff0000"/>
<circle cx="387.82" cy="499.6" r="2.05" fill="#ff0000"/>
<polyline points="318.88,505.3 353.35,503.6 387.82,498.7" fill="none" stroke="#0000ff" stroke-width="1.35" stroke-linejoin="round"/>
<path d="M318.88 494.5V516.3M315.58 494.5H322.18M315.58 516.3H322.18M353.35 490.7V517.3M350.05 490.7H356.65M350.05 517.3H356.65M387.82 485.6V512.2M384.52 485.6H391.12M384.52 512.2H391.12" fill="none" stroke="#0000ff" stroke-width="1.1"/>
<circle cx="318.88" cy="505.3" r="2.05" fill="#0000ff"/>
<circle cx="353.35" cy="503.6" r="2.05" fill="#0000ff"/>
<circle cx="387.82" cy="498.7" r="2.05" fill="#0000ff"/>
<rect x="298.2" y="483.02" width="110.3" height="57" fill="none" stroke="#333333" stroke-width="0.6"/>
<rect x="298.2" y="467.82" width="110.3" height="15.2" fill="#d9d9d9" stroke="#333333" stroke-width="0.6"/>
<text x="353.35" y="477.2" class="st" text-anchor="middle">Eubacterium rectale</text>
<rect x="426.1" y="483.02" width="110.3" height="57" fill="#fff"/>
<line x1="426.1" y1="494.5" x2="430.3" y2="494.5" stroke="#333" stroke-width="0.8"/>
<text x="424" y="497.5" class="tk" text-anchor="end">1.0</text>
<line x1="426.1" y1="508.4" x2="430.3" y2="508.4" stroke="#333" stroke-width="0.8"/>
<text x="424" y="511.4" class="tk" text-anchor="end">0.8</text>
<line x1="426.1" y1="522.6" x2="430.3" y2="522.6" stroke="#333" stroke-width="0.8"/>
<text x="424" y="525.6" class="tk" text-anchor="end">0.6</text>
<line x1="426.1" y1="536.8" x2="430.3" y2="536.8" stroke="#333" stroke-width="0.8"/>
<text x="424" y="539.8" class="tk" text-anchor="end">0.4</text>
<polyline points="446.78,517.7 481.25,528.7 515.72,521.1" fill="none" stroke="#ff0000" stroke-width="1.35" stroke-linejoin="round"/>
<path d="M446.78 512.5V523.4M443.48 512.5H450.08M443.48 523.4H450.08M481.25 525.3V533M477.95 525.3H484.55M477.95 533H484.55M515.72 516.3V526M512.42 516.3H519.02M512.42 526H519.02" fill="none" stroke="#ff0000" stroke-width="1.1"/>
<circle cx="446.78" cy="517.7" r="2.05" fill="#ff0000"/>
<circle cx="481.25" cy="528.7" r="2.05" fill="#ff0000"/>
<circle cx="515.72" cy="521.1" r="2.05" fill="#ff0000"/>
<polyline points="446.78,522 481.25,531.1 515.72,496" fill="none" stroke="#0000ff" stroke-width="1.35" stroke-linejoin="round"/>
<path d="M446.78 517.3V527.7M443.48 517.3H450.08M443.48 527.7H450.08M481.25 525.5V537.6M477.95 525.5H484.55M477.95 537.6H484.55M515.72 485.6V506.9M512.42 485.6H519.02M512.42 506.9H519.02" fill="none" stroke="#0000ff" stroke-width="1.1"/>
<circle cx="446.78" cy="522" r="2.05" fill="#0000ff"/>
<circle cx="481.25" cy="531.1" r="2.05" fill="#0000ff"/>
<circle cx="515.72" cy="496" r="2.05" fill="#0000ff"/>
<rect x="426.1" y="483.02" width="110.3" height="57" fill="none" stroke="#333333" stroke-width="0.6"/>
<rect x="426.1" y="467.82" width="110.3" height="15.2" fill="#d9d9d9" stroke="#333333" stroke-width="0.6"/>
<text x="481.25" y="477.2" class="st" text-anchor="middle">Prevotella ruminicola</text>
<rect x="557.6" y="483.02" width="110.3" height="57" fill="#fff"/>
<line x1="557.6" y1="501.5" x2="561.8" y2="501.5" stroke="#333" stroke-width="0.8"/>
<text x="555.5" y="504.5" class="tk" text-anchor="end">1.0</text>
<line x1="557.6" y1="523.4" x2="561.8" y2="523.4" stroke="#333" stroke-width="0.8"/>
<text x="555.5" y="526.4" class="tk" text-anchor="end">0.5</text>
<polyline points="578.28,520.7 612.75,497.9 647.22,515" fill="none" stroke="#ff0000" stroke-width="1.35" stroke-linejoin="round"/>
<path d="M578.28 513.1V528.1M574.98 513.1H581.58M574.98 528.1H581.58M612.75 485.4V511.2M609.45 485.4H616.05M609.45 511.2H616.05M647.22 508.4V521.5M643.92 508.4H650.52M643.92 521.5H650.52" fill="none" stroke="#ff0000" stroke-width="1.1"/>
<circle cx="578.28" cy="520.7" r="2.05" fill="#ff0000"/>
<circle cx="612.75" cy="497.9" r="2.05" fill="#ff0000"/>
<circle cx="647.22" cy="515" r="2.05" fill="#ff0000"/>
<polyline points="578.28,530.6 612.75,524.9 647.22,534.8" fill="none" stroke="#0000ff" stroke-width="1.35" stroke-linejoin="round"/>
<path d="M578.28 525.5V535.3M574.98 525.5H581.58M574.98 535.3H581.58M612.75 518.2V531.1M609.45 518.2H616.05M609.45 531.1H616.05M647.22 532.5V537.6M643.92 532.5H650.52M643.92 537.6H650.52" fill="none" stroke="#0000ff" stroke-width="1.1"/>
<circle cx="578.28" cy="530.6" r="2.05" fill="#0000ff"/>
<circle cx="612.75" cy="524.9" r="2.05" fill="#0000ff"/>
<circle cx="647.22" cy="534.8" r="2.05" fill="#0000ff"/>
<rect x="557.6" y="483.02" width="110.3" height="57" fill="none" stroke="#333333" stroke-width="0.6"/>
<rect x="557.6" y="467.82" width="110.3" height="15.2" fill="#d9d9d9" stroke="#333333" stroke-width="0.6"/>
<text x="612.75" y="477.2" class="st" text-anchor="middle">Fusobacterium mortiferum</text>
<rect x="42.4" y="559.86" width="110.3" height="57" fill="#fff"/>
<line x1="42.4" y1="568.7" x2="46.6" y2="568.7" stroke="#333" stroke-width="0.8"/>
<text x="40.3" y="571.7" class="tk" text-anchor="end">0.7</text>
<line x1="42.4" y1="585.4" x2="46.6" y2="585.4" stroke="#333" stroke-width="0.8"/>
<text x="40.3" y="588.4" class="tk" text-anchor="end">0.6</text>
<line x1="42.4" y1="602.5" x2="46.6" y2="602.5" stroke="#333" stroke-width="0.8"/>
<text x="40.3" y="605.5" class="tk" text-anchor="end">0.5</text>
<polyline points="63.08,598.1 97.55,601.9 132.02,583.9" fill="none" stroke="#ff0000" stroke-width="1.35" stroke-linejoin="round"/>
<path d="M63.08 587.3V608.5M59.78 587.3H66.38M59.78 608.5H66.38M97.55 589V614.6M94.25 589H100.85M94.25 614.6H100.85M132.02 573V594.3M128.72 573H135.32M128.72 594.3H135.32" fill="none" stroke="#ff0000" stroke-width="1.1"/>
<circle cx="63.08" cy="598.1" r="2.05" fill="#ff0000"/>
<circle cx="97.55" cy="601.9" r="2.05" fill="#ff0000"/>
<circle cx="132.02" cy="583.9" r="2.05" fill="#ff0000"/>
<polyline points="63.08,579.3 97.55,586.7 132.02,584.4" fill="none" stroke="#0000ff" stroke-width="1.35" stroke-linejoin="round"/>
<path d="M63.08 562.4V596.2M59.78 562.4H66.38M59.78 596.2H66.38M97.55 570.2V603.2M94.25 570.2H100.85M94.25 603.2H100.85M132.02 571.5V598.1M128.72 571.5H135.32M128.72 598.1H135.32" fill="none" stroke="#0000ff" stroke-width="1.1"/>
<circle cx="63.08" cy="579.3" r="2.05" fill="#0000ff"/>
<circle cx="97.55" cy="586.7" r="2.05" fill="#0000ff"/>
<circle cx="132.02" cy="584.4" r="2.05" fill="#0000ff"/>
<rect x="42.4" y="559.86" width="110.3" height="57" fill="none" stroke="#333333" stroke-width="0.6"/>
<rect x="42.4" y="544.66" width="110.3" height="15.2" fill="#d9d9d9" stroke="#333333" stroke-width="0.6"/>
<text x="97.55" y="554.4" class="st" text-anchor="middle">Pseudobutyrivibrio ruminis</text>
<rect x="170.5" y="559.86" width="110.3" height="57" fill="#fff"/>
<line x1="170.5" y1="562.4" x2="174.7" y2="562.4" stroke="#333" stroke-width="0.8"/>
<text x="168.4" y="565.4" class="tk" text-anchor="end">1.25</text>
<line x1="170.5" y1="574.4" x2="174.7" y2="574.4" stroke="#333" stroke-width="0.8"/>
<text x="168.4" y="577.4" class="tk" text-anchor="end">1.00</text>
<line x1="170.5" y1="586.5" x2="174.7" y2="586.5" stroke="#333" stroke-width="0.8"/>
<text x="168.4" y="589.5" class="tk" text-anchor="end">0.75</text>
<line x1="170.5" y1="598.5" x2="174.7" y2="598.5" stroke="#333" stroke-width="0.8"/>
<text x="168.4" y="601.5" class="tk" text-anchor="end">0.50</text>
<line x1="170.5" y1="610.4" x2="174.7" y2="610.4" stroke="#333" stroke-width="0.8"/>
<text x="168.4" y="613.4" class="tk" text-anchor="end">0.25</text>
<polyline points="191.18,571.5 225.65,607.2 260.12,605.1" fill="none" stroke="#ff0000" stroke-width="1.35" stroke-linejoin="round"/>
<path d="M191.18 562.4V580.4M187.88 562.4H194.48M187.88 580.4H194.48M225.65 604.4V610M222.35 604.4H228.95M222.35 610H228.95M260.12 601.3V609.1M256.82 601.3H263.42M256.82 609.1H263.42" fill="none" stroke="#ff0000" stroke-width="1.1"/>
<circle cx="191.18" cy="571.5" r="2.05" fill="#ff0000"/>
<circle cx="225.65" cy="607.2" r="2.05" fill="#ff0000"/>
<circle cx="260.12" cy="605.1" r="2.05" fill="#ff0000"/>
<polyline points="191.18,595.8 225.65,604.7 260.12,610.8" fill="none" stroke="#0000ff" stroke-width="1.35" stroke-linejoin="round"/>
<path d="M191.18 589.5V602.5M187.88 589.5H194.48M187.88 602.5H194.48M225.65 599.4V609.9M222.35 599.4H228.95M222.35 609.9H228.95M260.12 607.6V614.2M256.82 607.6H263.42M256.82 614.2H263.42" fill="none" stroke="#0000ff" stroke-width="1.1"/>
<circle cx="191.18" cy="595.8" r="2.05" fill="#0000ff"/>
<circle cx="225.65" cy="604.7" r="2.05" fill="#0000ff"/>
<circle cx="260.12" cy="610.8" r="2.05" fill="#0000ff"/>
<rect x="170.5" y="559.86" width="110.3" height="57" fill="none" stroke="#333333" stroke-width="0.6"/>
<rect x="170.5" y="544.66" width="110.3" height="15.2" fill="#d9d9d9" stroke="#333333" stroke-width="0.6"/>
<text x="225.65" y="554.4" class="st" text-anchor="middle">Lactobacillus ruminis</text>
<rect x="298.2" y="559.86" width="110.3" height="57" fill="#fff"/>
<line x1="298.2" y1="563.9" x2="302.4" y2="563.9" stroke="#333" stroke-width="0.8"/>
<text x="296.1" y="566.9" class="tk" text-anchor="end">0.6</text>
<line x1="298.2" y1="581.6" x2="302.4" y2="581.6" stroke="#333" stroke-width="0.8"/>
<text x="296.1" y="584.6" class="tk" text-anchor="end">0.5</text>
<line x1="298.2" y1="599.2" x2="302.4" y2="599.2" stroke="#333" stroke-width="0.8"/>
<text x="296.1" y="602.2" class="tk" text-anchor="end">0.4</text>
<line x1="298.2" y1="616.7" x2="302.4" y2="616.7" stroke="#333" stroke-width="0.8"/>
<text x="296.1" y="619.7" class="tk" text-anchor="end">0.3</text>
<polyline points="318.88,587.3 353.35,572.5 387.82,583.9" fill="none" stroke="#ff0000" stroke-width="1.35" stroke-linejoin="round"/>
<path d="M318.88 577.6V597.1M315.58 577.6H322.18M315.58 597.1H322.18M353.35 562.4V583.5M350.05 562.4H356.65M350.05 583.5H356.65M387.82 572.1V595.6M384.52 572.1H391.12M384.52 595.6H391.12" fill="none" stroke="#ff0000" stroke-width="1.1"/>
<circle cx="318.88" cy="587.3" r="2.05" fill="#ff0000"/>
<circle cx="353.35" cy="572.5" r="2.05" fill="#ff0000"/>
<circle cx="387.82" cy="583.9" r="2.05" fill="#ff0000"/>
<polyline points="318.88,579.1 353.35,596.6 387.82,605.3" fill="none" stroke="#0000ff" stroke-width="1.35" stroke-linejoin="round"/>
<path d="M318.88 565.3V593.3M315.58 565.3H322.18M315.58 593.3H322.18M353.35 586.5V607.2M350.05 586.5H356.65M350.05 607.2H356.65M387.82 595.8V614.6M384.52 595.8H391.12M384.52 614.6H391.12" fill="none" stroke="#0000ff" stroke-width="1.1"/>
<circle cx="318.88" cy="579.1" r="2.05" fill="#0000ff"/>
<circle cx="353.35" cy="596.6" r="2.05" fill="#0000ff"/>
<circle cx="387.82" cy="605.3" r="2.05" fill="#0000ff"/>
<rect x="298.2" y="559.86" width="110.3" height="57" fill="none" stroke="#333333" stroke-width="0.6"/>
<rect x="298.2" y="544.66" width="110.3" height="15.2" fill="#d9d9d9" stroke="#333333" stroke-width="0.6"/>
<text x="353.35" y="554.4" class="st" text-anchor="middle">Parabacteroides distasonis</text>
<rect x="426.1" y="559.86" width="110.3" height="57" fill="#fff"/>
<line x1="426.1" y1="560.3" x2="430.3" y2="560.3" stroke="#333" stroke-width="0.8"/>
<text x="424" y="563.3" class="tk" text-anchor="end">0.8</text>
<line x1="426.1" y1="571.9" x2="430.3" y2="571.9" stroke="#333" stroke-width="0.8"/>
<text x="424" y="574.9" class="tk" text-anchor="end">0.7</text>
<line x1="426.1" y1="583.5" x2="430.3" y2="583.5" stroke="#333" stroke-width="0.8"/>
<text x="424" y="586.5" class="tk" text-anchor="end">0.6</text>
<line x1="426.1" y1="595.2" x2="430.3" y2="595.2" stroke="#333" stroke-width="0.8"/>
<text x="424" y="598.2" class="tk" text-anchor="end">0.5</text>
<line x1="426.1" y1="607.2" x2="430.3" y2="607.2" stroke="#333" stroke-width="0.8"/>
<text x="424" y="610.2" class="tk" text-anchor="end">0.4</text>
<polyline points="446.78,609.9 481.25,601.3 515.72,600.9" fill="none" stroke="#ff0000" stroke-width="1.35" stroke-linejoin="round"/>
<path d="M446.78 605.7V614.2M443.48 605.7H450.08M443.48 614.2H450.08M481.25 594.7V608M477.95 594.7H484.55M477.95 608H484.55M515.72 595.6V606.1M512.42 595.6H519.02M512.42 606.1H519.02" fill="none" stroke="#ff0000" stroke-width="1.1"/>
<circle cx="446.78" cy="609.9" r="2.05" fill="#ff0000"/>
<circle cx="481.25" cy="601.3" r="2.05" fill="#ff0000"/>
<circle cx="515.72" cy="600.9" r="2.05" fill="#ff0000"/>
<polyline points="446.78,599 481.25,596.2 515.72,575.9" fill="none" stroke="#0000ff" stroke-width="1.35" stroke-linejoin="round"/>
<path d="M446.78 591.4V606.1M443.48 591.4H450.08M443.48 606.1H450.08M481.25 586.3V605.7M477.95 586.3H484.55M477.95 605.7H484.55M515.72 562.4V589.7M512.42 562.4H519.02M512.42 589.7H519.02" fill="none" stroke="#0000ff" stroke-width="1.1"/>
<circle cx="446.78" cy="599" r="2.05" fill="#0000ff"/>
<circle cx="481.25" cy="596.2" r="2.05" fill="#0000ff"/>
<circle cx="515.72" cy="575.9" r="2.05" fill="#0000ff"/>
<rect x="426.1" y="559.86" width="110.3" height="57" fill="none" stroke="#333333" stroke-width="0.6"/>
<rect x="426.1" y="544.66" width="110.3" height="15.2" fill="#d9d9d9" stroke="#333333" stroke-width="0.6"/>
<text x="481.25" y="554.4" class="st" text-anchor="middle">Roseburia inulinivorans</text>
<rect x="557.6" y="559.86" width="110.3" height="57" fill="#fff"/>
<line x1="557.6" y1="567.7" x2="561.8" y2="567.7" stroke="#333" stroke-width="0.8"/>
<text x="555.5" y="570.7" class="tk" text-anchor="end">0.50</text>
<line x1="557.6" y1="578.4" x2="561.8" y2="578.4" stroke="#333" stroke-width="0.8"/>
<text x="555.5" y="581.4" class="tk" text-anchor="end">0.45</text>
<line x1="557.6" y1="589" x2="561.8" y2="589" stroke="#333" stroke-width="0.8"/>
<text x="555.5" y="592" class="tk" text-anchor="end">0.40</text>
<line x1="557.6" y1="599.6" x2="561.8" y2="599.6" stroke="#333" stroke-width="0.8"/>
<text x="555.5" y="602.6" class="tk" text-anchor="end">0.35</text>
<line x1="557.6" y1="610.4" x2="561.8" y2="610.4" stroke="#333" stroke-width="0.8"/>
<text x="555.5" y="613.4" class="tk" text-anchor="end">0.30</text>
<polyline points="578.28,573 612.75,589 647.22,580.6" fill="none" stroke="#ff0000" stroke-width="1.35" stroke-linejoin="round"/>
<path d="M578.28 562.8V583.3M574.98 562.8H581.58M574.98 583.3H581.58M612.75 579.3V598.7M609.45 579.3H616.05M609.45 598.7H616.05M647.22 570.2V591.4M643.92 570.2H650.52M643.92 591.4H650.52" fill="none" stroke="#ff0000" stroke-width="1.1"/>
<circle cx="578.28" cy="573" r="2.05" fill="#ff0000"/>
<circle cx="612.75" cy="589" r="2.05" fill="#ff0000"/>
<circle cx="647.22" cy="580.6" r="2.05" fill="#ff0000"/>
<polyline points="578.28,576.6 612.75,595.6 647.22,603.8" fill="none" stroke="#0000ff" stroke-width="1.35" stroke-linejoin="round"/>
<path d="M578.28 562.4V591.1M574.98 562.4H581.58M574.98 591.1H581.58M612.75 583.5V608M609.45 583.5H616.05M609.45 608H616.05M647.22 593V614.6M643.92 593H650.52M643.92 614.6H650.52" fill="none" stroke="#0000ff" stroke-width="1.1"/>
<circle cx="578.28" cy="576.6" r="2.05" fill="#0000ff"/>
<circle cx="612.75" cy="595.6" r="2.05" fill="#0000ff"/>
<circle cx="647.22" cy="603.8" r="2.05" fill="#0000ff"/>
<rect x="557.6" y="559.86" width="110.3" height="57" fill="none" stroke="#333333" stroke-width="0.6"/>
<rect x="557.6" y="544.66" width="110.3" height="15.2" fill="#d9d9d9" stroke="#333333" stroke-width="0.6"/>
<text x="612.75" y="554.4" class="st" text-anchor="middle">Allisonella histaminiformans</text>
<rect x="42.4" y="636.7" width="110.3" height="57" fill="#fff"/>
<line x1="42.4" y1="640.5" x2="46.6" y2="640.5" stroke="#333" stroke-width="0.8"/>
<text x="40.3" y="643.5" class="tk" text-anchor="end">0.6</text>
<line x1="42.4" y1="656.1" x2="46.6" y2="656.1" stroke="#333" stroke-width="0.8"/>
<text x="40.3" y="659.1" class="tk" text-anchor="end">0.5</text>
<line x1="42.4" y1="671.9" x2="46.6" y2="671.9" stroke="#333" stroke-width="0.8"/>
<text x="40.3" y="674.9" class="tk" text-anchor="end">0.4</text>
<line x1="42.4" y1="687.4" x2="46.6" y2="687.4" stroke="#333" stroke-width="0.8"/>
<text x="40.3" y="690.4" class="tk" text-anchor="end">0.3</text>
<polyline points="63.08,677 97.55,685.5 132.02,660.9" fill="none" stroke="#ff0000" stroke-width="1.35" stroke-linejoin="round"/>
<path d="M63.08 669.4V684.2M59.78 669.4H66.38M59.78 684.2H66.38M97.55 679.8V691.6M94.25 679.8H100.85M94.25 691.6H100.85M132.02 652.7V668.8M128.72 652.7H135.32M128.72 668.8H135.32" fill="none" stroke="#ff0000" stroke-width="1.1"/>
<circle cx="63.08" cy="677" r="2.05" fill="#ff0000"/>
<circle cx="97.55" cy="685.5" r="2.05" fill="#ff0000"/>
<circle cx="132.02" cy="660.9" r="2.05" fill="#ff0000"/>
<polyline points="63.08,652.9 97.55,663.1 132.02,653.6" fill="none" stroke="#0000ff" stroke-width="1.35" stroke-linejoin="round"/>
<path d="M63.08 639.4V666.5M59.78 639.4H66.38M59.78 666.5H66.38M97.55 651.4V675.3M94.25 651.4H100.85M94.25 675.3H100.85M132.02 641.5V665.6M128.72 641.5H135.32M128.72 665.6H135.32" fill="none" stroke="#0000ff" stroke-width="1.1"/>
<circle cx="63.08" cy="652.9" r="2.05" fill="#0000ff"/>
<circle cx="97.55" cy="663.1" r="2.05" fill="#0000ff"/>
<circle cx="132.02" cy="653.6" r="2.05" fill="#0000ff"/>
<rect x="42.4" y="636.7" width="110.3" height="57" fill="none" stroke="#333333" stroke-width="0.6"/>
<rect x="42.4" y="621.5" width="110.3" height="15.2" fill="#d9d9d9" stroke="#333333" stroke-width="0.6"/>
<text x="97.55" y="630.9" class="st" text-anchor="middle">Holdemanella biformis</text>
<rect x="170.5" y="636.7" width="110.3" height="57" fill="#fff"/>
<line x1="170.5" y1="642.4" x2="174.7" y2="642.4" stroke="#333" stroke-width="0.8"/>
<text x="168.4" y="645.4" class="tk" text-anchor="end">0.6</text>
<line x1="170.5" y1="658.8" x2="174.7" y2="658.8" stroke="#333" stroke-width="0.8"/>
<text x="168.4" y="661.8" class="tk" text-anchor="end">0.5</text>
<line x1="170.5" y1="675.3" x2="174.7" y2="675.3" stroke="#333" stroke-width="0.8"/>
<text x="168.4" y="678.3" class="tk" text-anchor="end">0.4</text>
<line x1="170.5" y1="691.6" x2="174.7" y2="691.6" stroke="#333" stroke-width="0.8"/>
<text x="168.4" y="694.6" class="tk" text-anchor="end">0.3</text>
<polyline points="191.18,685.5 225.65,669.8 260.12,672.4" fill="none" stroke="#ff0000" stroke-width="1.35" stroke-linejoin="round"/>
<path d="M191.18 680.4V689.7M187.88 680.4H194.48M187.88 689.7H194.48M225.65 662.2V677M222.35 662.2H228.95M222.35 677H228.95M260.12 666.5V678.3M256.82 666.5H263.42M256.82 678.3H263.42" fill="none" stroke="#ff0000" stroke-width="1.1"/>
<circle cx="191.18" cy="685.5" r="2.05" fill="#ff0000"/>
<circle cx="225.65" cy="669.8" r="2.05" fill="#ff0000"/>
<circle cx="260.12" cy="672.4" r="2.05" fill="#ff0000"/>
<polyline points="191.18,686.1 225.65,654.8 260.12,657.1" fill="none" stroke="#0000ff" stroke-width="1.35" stroke-linejoin="round"/>
<path d="M191.18 681.4V691.2M187.88 681.4H194.48M187.88 691.2H194.48M225.65 639.2V670.9M222.35 639.2H228.95M222.35 670.9H228.95M260.12 647.6V666.9M256.82 647.6H263.42M256.82 666.9H263.42" fill="none" stroke="#0000ff" stroke-width="1.1"/>
<circle cx="191.18" cy="686.1" r="2.05" fill="#0000ff"/>
<circle cx="225.65" cy="654.8" r="2.05" fill="#0000ff"/>
<circle cx="260.12" cy="657.1" r="2.05" fill="#0000ff"/>
<rect x="170.5" y="636.7" width="110.3" height="57" fill="none" stroke="#333333" stroke-width="0.6"/>
<rect x="170.5" y="621.5" width="110.3" height="15.2" fill="#d9d9d9" stroke="#333333" stroke-width="0.6"/>
<text x="225.65" y="630.9" class="st" text-anchor="middle">Ruminococcus torques</text>
<rect x="298.2" y="636.7" width="110.3" height="57" fill="#fff"/>
<line x1="298.2" y1="639.4" x2="302.4" y2="639.4" stroke="#333" stroke-width="0.8"/>
<text x="296.1" y="642.4" class="tk" text-anchor="end">0.6</text>
<line x1="298.2" y1="652.3" x2="302.4" y2="652.3" stroke="#333" stroke-width="0.8"/>
<text x="296.1" y="655.3" class="tk" text-anchor="end">0.5</text>
<line x1="298.2" y1="665.6" x2="302.4" y2="665.6" stroke="#333" stroke-width="0.8"/>
<text x="296.1" y="668.6" class="tk" text-anchor="end">0.4</text>
<line x1="298.2" y1="679.1" x2="302.4" y2="679.1" stroke="#333" stroke-width="0.8"/>
<text x="296.1" y="682.1" class="tk" text-anchor="end">0.3</text>
<line x1="298.2" y1="692.6" x2="302.4" y2="692.6" stroke="#333" stroke-width="0.8"/>
<text x="296.1" y="695.6" class="tk" text-anchor="end">0.2</text>
<polyline points="318.88,674.5 353.35,648.5 387.82,670.7" fill="none" stroke="#ff0000" stroke-width="1.35" stroke-linejoin="round"/>
<path d="M318.88 670.7V677.9M315.58 670.7H322.18M315.58 677.9H322.18M353.35 639.6V657.4M350.05 639.6H356.65M350.05 657.4H356.65M387.82 664.7V676.6M384.52 664.7H391.12M384.52 676.6H391.12" fill="none" stroke="#ff0000" stroke-width="1.1"/>
<circle cx="318.88" cy="674.5" r="2.05" fill="#ff0000"/>
<circle cx="353.35" cy="648.5" r="2.05" fill="#ff0000"/>
<circle cx="387.82" cy="670.7" r="2.05" fill="#ff0000"/>
<polyline points="318.88,650.8 353.35,675.1 387.82,685.5" fill="none" stroke="#0000ff" stroke-width="1.35" stroke-linejoin="round"/>
<path d="M318.88 639.4V662.4M315.58 639.4H322.18M315.58 662.4H322.18M353.35 667.1V683.3M350.05 667.1H356.65M350.05 683.3H356.65M387.82 679.5V691.2M384.52 679.5H391.12M384.52 691.2H391.12" fill="none" stroke="#0000ff" stroke-width="1.1"/>
<circle cx="318.88" cy="650.8" r="2.05" fill="#0000ff"/>
<circle cx="353.35" cy="675.1" r="2.05" fill="#0000ff"/>
<circle cx="387.82" cy="685.5" r="2.05" fill="#0000ff"/>
<rect x="298.2" y="636.7" width="110.3" height="57" fill="none" stroke="#333333" stroke-width="0.6"/>
<rect x="298.2" y="621.5" width="110.3" height="15.2" fill="#d9d9d9" stroke="#333333" stroke-width="0.6"/>
<text x="353.35" y="630.9" class="st" text-anchor="middle">Collinsella aerofaciens</text>
<rect x="426.1" y="636.7" width="110.3" height="57" fill="#fff"/>
<line x1="426.1" y1="637.5" x2="430.3" y2="637.5" stroke="#333" stroke-width="0.8"/>
<text x="424" y="640.5" class="tk" text-anchor="end">0.65</text>
<line x1="426.1" y1="651.4" x2="430.3" y2="651.4" stroke="#333" stroke-width="0.8"/>
<text x="424" y="654.4" class="tk" text-anchor="end">0.55</text>
<line x1="426.1" y1="665.4" x2="430.3" y2="665.4" stroke="#333" stroke-width="0.8"/>
<text x="424" y="668.4" class="tk" text-anchor="end">0.45</text>
<line x1="426.1" y1="679.3" x2="430.3" y2="679.3" stroke="#333" stroke-width="0.8"/>
<text x="424" y="682.3" class="tk" text-anchor="end">0.35</text>
<line x1="426.1" y1="693.1" x2="430.3" y2="693.1" stroke="#333" stroke-width="0.8"/>
<text x="424" y="696.1" class="tk" text-anchor="end">0.25</text>
<polyline points="446.78,687.8 481.25,685.9 515.72,658" fill="none" stroke="#ff0000" stroke-width="1.35" stroke-linejoin="round"/>
<path d="M446.78 685.5V691.2M443.48 685.5H450.08M443.48 691.2H450.08M481.25 682.7V688.8M477.95 682.7H484.55M477.95 688.8H484.55M515.72 639.2V677M512.42 639.2H519.02M512.42 677H519.02" fill="none" stroke="#ff0000" stroke-width="1.1"/>
<circle cx="446.78" cy="687.8" r="2.05" fill="#ff0000"/>
<circle cx="481.25" cy="685.9" r="2.05" fill="#ff0000"/>
<circle cx="515.72" cy="658" r="2.05" fill="#ff0000"/>
<polyline points="446.78,683.6 481.25,678.9 515.72,683.6" fill="none" stroke="#0000ff" stroke-width="1.35" stroke-linejoin="round"/>
<path d="M446.78 679.5V688.4M443.48 679.5H450.08M443.48 688.4H450.08M481.25 674.1V683.6M477.95 674.1H484.55M477.95 683.6H484.55M515.72 679.5V687.8M512.42 679.5H519.02M512.42 687.8H519.02" fill="none" stroke="#0000ff" stroke-width="1.1"/>
<circle cx="446.78" cy="683.6" r="2.05" fill="#0000ff"/>
<circle cx="481.25" cy="678.9" r="2.05" fill="#0000ff"/>
<circle cx="515.72" cy="683.6" r="2.05" fill="#0000ff"/>
<rect x="426.1" y="636.7" width="110.3" height="57" fill="none" stroke="#333333" stroke-width="0.6"/>
<rect x="426.1" y="621.5" width="110.3" height="15.2" fill="#d9d9d9" stroke="#333333" stroke-width="0.6"/>
<text x="481.25" y="630.9" class="st" text-anchor="middle">Blautia sp.</text>
<rect x="557.6" y="636.7" width="110.3" height="57" fill="#fff"/>
<line x1="557.6" y1="643.4" x2="561.8" y2="643.4" stroke="#333" stroke-width="0.8"/>
<text x="555.5" y="646.4" class="tk" text-anchor="end">0.5</text>
<line x1="557.6" y1="660.3" x2="561.8" y2="660.3" stroke="#333" stroke-width="0.8"/>
<text x="555.5" y="663.3" class="tk" text-anchor="end">0.4</text>
<line x1="557.6" y1="677.4" x2="561.8" y2="677.4" stroke="#333" stroke-width="0.8"/>
<text x="555.5" y="680.4" class="tk" text-anchor="end">0.3</text>
<polyline points="578.28,685.1 612.75,682.7 647.22,669.6" fill="none" stroke="#ff0000" stroke-width="1.35" stroke-linejoin="round"/>
<path d="M578.28 678.9V691.2M574.98 678.9H581.58M574.98 691.2H581.58M612.75 677.2V688M609.45 677.2H616.05M609.45 688H616.05M647.22 664.3V675.5M643.92 664.3H650.52M643.92 675.5H650.52" fill="none" stroke="#ff0000" stroke-width="1.1"/>
<circle cx="578.28" cy="685.1" r="2.05" fill="#ff0000"/>
<circle cx="612.75" cy="682.7" r="2.05" fill="#ff0000"/>
<circle cx="647.22" cy="669.6" r="2.05" fill="#ff0000"/>
<polyline points="578.28,681.7 612.75,654.2 647.22,652.7" fill="none" stroke="#0000ff" stroke-width="1.35" stroke-linejoin="round"/>
<path d="M578.28 676.4V687.8M574.98 676.4H581.58M574.98 687.8H581.58M612.75 639.2V669.2M609.45 639.2H616.05M609.45 669.2H616.05M647.22 640.7V664.7M643.92 640.7H650.52M643.92 664.7H650.52" fill="none" stroke="#0000ff" stroke-width="1.1"/>
<circle cx="578.28" cy="681.7" r="2.05" fill="#0000ff"/>
<circle cx="612.75" cy="654.2" r="2.05" fill="#0000ff"/>
<circle cx="647.22" cy="652.7" r="2.05" fill="#0000ff"/>
<rect x="557.6" y="636.7" width="110.3" height="57" fill="none" stroke="#333333" stroke-width="0.6"/>
<rect x="557.6" y="621.5" width="110.3" height="15.2" fill="#d9d9d9" stroke="#333333" stroke-width="0.6"/>
<text x="612.75" y="630.9" class="st" text-anchor="middle">Erysipelotrichaceae sp.</text>
<rect x="42.4" y="713.54" width="110.3" height="57" fill="#fff"/>
<line x1="42.4" y1="724.6" x2="46.6" y2="724.6" stroke="#333" stroke-width="0.8"/>
<text x="40.3" y="727.6" class="tk" text-anchor="end">0.5</text>
<line x1="42.4" y1="738.8" x2="46.6" y2="738.8" stroke="#333" stroke-width="0.8"/>
<text x="40.3" y="741.8" class="tk" text-anchor="end">0.4</text>
<line x1="42.4" y1="753" x2="46.6" y2="753" stroke="#333" stroke-width="0.8"/>
<text x="40.3" y="756" class="tk" text-anchor="end">0.3</text>
<line x1="42.4" y1="767.3" x2="46.6" y2="767.3" stroke="#333" stroke-width="0.8"/>
<text x="40.3" y="770.3" class="tk" text-anchor="end">0.2</text>
<polyline points="63.08,764.4 97.55,748.9 132.02,743" fill="none" stroke="#ff0000" stroke-width="1.35" stroke-linejoin="round"/>
<path d="M63.08 762V768.2M59.78 762H66.38M59.78 768.2H66.38M97.55 740.3V756.5M94.25 740.3H100.85M94.25 756.5H100.85M132.02 731.8V753.4M128.72 731.8H135.32M128.72 753.4H135.32" fill="none" stroke="#ff0000" stroke-width="1.1"/>
<circle cx="63.08" cy="764.4" r="2.05" fill="#ff0000"/>
<circle cx="97.55" cy="748.9" r="2.05" fill="#ff0000"/>
<circle cx="132.02" cy="743" r="2.05" fill="#ff0000"/>
<polyline points="63.08,759.1 97.55,734.6 132.02,747.9" fill="none" stroke="#0000ff" stroke-width="1.35" stroke-linejoin="round"/>
<path d="M63.08 751.5V766.3M59.78 751.5H66.38M59.78 766.3H66.38M97.55 716V754.6M94.25 716H100.85M94.25 754.6H100.85M132.02 731.6V764.8M128.72 731.6H135.32M128.72 764.8H135.32" fill="none" stroke="#0000ff" stroke-width="1.1"/>
<circle cx="63.08" cy="759.1" r="2.05" fill="#0000ff"/>
<circle cx="97.55" cy="734.6" r="2.05" fill="#0000ff"/>
<circle cx="132.02" cy="747.9" r="2.05" fill="#0000ff"/>
<rect x="42.4" y="713.54" width="110.3" height="57" fill="none" stroke="#333333" stroke-width="0.6"/>
<rect x="42.4" y="698.34" width="110.3" height="15.2" fill="#d9d9d9" stroke="#333333" stroke-width="0.6"/>
<text x="97.55" y="707.3" class="st" text-anchor="middle">Ruminococcus gnavus</text>
<rect x="170.5" y="713.54" width="110.3" height="57" fill="#fff"/>
<line x1="170.5" y1="721.7" x2="174.7" y2="721.7" stroke="#333" stroke-width="0.8"/>
<text x="168.4" y="724.7" class="tk" text-anchor="end">0.6</text>
<line x1="170.5" y1="731.6" x2="174.7" y2="731.6" stroke="#333" stroke-width="0.8"/>
<text x="168.4" y="734.6" class="tk" text-anchor="end">0.5</text>
<line x1="170.5" y1="741.3" x2="174.7" y2="741.3" stroke="#333" stroke-width="0.8"/>
<text x="168.4" y="744.3" class="tk" text-anchor="end">0.4</text>
<line x1="170.5" y1="751.1" x2="174.7" y2="751.1" stroke="#333" stroke-width="0.8"/>
<text x="168.4" y="754.1" class="tk" text-anchor="end">0.3</text>
<line x1="170.5" y1="761" x2="174.7" y2="761" stroke="#333" stroke-width="0.8"/>
<text x="168.4" y="764" class="tk" text-anchor="end">0.2</text>
<line x1="170.5" y1="770.7" x2="174.7" y2="770.7" stroke="#333" stroke-width="0.8"/>
<text x="168.4" y="773.7" class="tk" text-anchor="end">0.1</text>
<polyline points="191.18,761.2 225.65,747 260.12,746.4" fill="none" stroke="#ff0000" stroke-width="1.35" stroke-linejoin="round"/>
<path d="M191.18 756.3V766.3M187.88 756.3H194.48M187.88 766.3H194.48M225.65 738.2V755.3M222.35 738.2H228.95M222.35 755.3H228.95M260.12 739.4V753.4M256.82 739.4H263.42M256.82 753.4H263.42" fill="none" stroke="#ff0000" stroke-width="1.1"/>
<circle cx="191.18" cy="761.2" r="2.05" fill="#ff0000"/>
<circle cx="225.65" cy="747" r="2.05" fill="#ff0000"/>
<circle cx="260.12" cy="746.4" r="2.05" fill="#ff0000"/>
<polyline points="191.18,746 225.65,728.9 260.12,762.5" fill="none" stroke="#0000ff" stroke-width="1.35" stroke-linejoin="round"/>
<path d="M191.18 730.3V762M187.88 730.3H194.48M187.88 762H194.48M225.65 716V742.2M222.35 716H228.95M222.35 742.2H228.95M260.12 757.2V768.2M256.82 757.2H263.42M256.82 768.2H263.42" fill="none" stroke="#0000ff" stroke-width="1.1"/>
<circle cx="191.18" cy="746" r="2.05" fill="#0000ff"/>
<circle cx="225.65" cy="728.9" r="2.05" fill="#0000ff"/>
<circle cx="260.12" cy="762.5" r="2.05" fill="#0000ff"/>
<rect x="170.5" y="713.54" width="110.3" height="57" fill="none" stroke="#333333" stroke-width="0.6"/>
<rect x="170.5" y="698.34" width="110.3" height="15.2" fill="#d9d9d9" stroke="#333333" stroke-width="0.6"/>
<text x="225.65" y="707.3" class="st" text-anchor="middle">Megamonas funiformis</text>
<rect x="298.2" y="713.54" width="110.3" height="57" fill="#fff"/>
<line x1="298.2" y1="721.7" x2="302.4" y2="721.7" stroke="#333" stroke-width="0.8"/>
<text x="296.1" y="724.7" class="tk" text-anchor="end">0.5</text>
<line x1="298.2" y1="735.6" x2="302.4" y2="735.6" stroke="#333" stroke-width="0.8"/>
<text x="296.1" y="738.6" class="tk" text-anchor="end">0.4</text>
<line x1="298.2" y1="749.6" x2="302.4" y2="749.6" stroke="#333" stroke-width="0.8"/>
<text x="296.1" y="752.6" class="tk" text-anchor="end">0.3</text>
<line x1="298.2" y1="763.7" x2="302.4" y2="763.7" stroke="#333" stroke-width="0.8"/>
<text x="296.1" y="766.7" class="tk" text-anchor="end">0.2</text>
<polyline points="318.88,740.7 353.35,748.3 387.82,756.8" fill="none" stroke="#ff0000" stroke-width="1.35" stroke-linejoin="round"/>
<path d="M318.88 733.5V747.7M315.58 733.5H322.18M315.58 747.7H322.18M353.35 741.5V755.3M350.05 741.5H356.65M350.05 755.3H356.65M387.82 752.7V761.2M384.52 752.7H391.12M384.52 761.2H391.12" fill="none" stroke="#ff0000" stroke-width="1.1"/>
<circle cx="318.88" cy="740.7" r="2.05" fill="#ff0000"/>
<circle cx="353.35" cy="748.3" r="2.05" fill="#ff0000"/>
<circle cx="387.82" cy="756.8" r="2.05" fill="#ff0000"/>
<polyline points="318.88,732.7 353.35,757.2 387.82,759.7" fill="none" stroke="#0000ff" stroke-width="1.35" stroke-linejoin="round"/>
<path d="M318.88 716V749.2M315.58 716H322.18M315.58 749.2H322.18M353.35 750.2V764M350.05 750.2H356.65M350.05 764H356.65M387.82 752.1V768.2M384.52 752.1H391.12M384.52 768.2H391.12" fill="none" stroke="#0000ff" stroke-width="1.1"/>
<circle cx="318.88" cy="732.7" r="2.05" fill="#0000ff"/>
<circle cx="353.35" cy="757.2" r="2.05" fill="#0000ff"/>
<circle cx="387.82" cy="759.7" r="2.05" fill="#0000ff"/>
<rect x="298.2" y="713.54" width="110.3" height="57" fill="none" stroke="#333333" stroke-width="0.6"/>
<rect x="298.2" y="698.34" width="110.3" height="15.2" fill="#d9d9d9" stroke="#333333" stroke-width="0.6"/>
<text x="353.35" y="707.3" class="st" text-anchor="middle">Veillonella dispar</text>
<rect x="426.1" y="713.54" width="110.3" height="57" fill="#fff"/>
<line x1="426.1" y1="717.4" x2="430.3" y2="717.4" stroke="#333" stroke-width="0.8"/>
<text x="424" y="720.4" class="tk" text-anchor="end">0.6</text>
<line x1="426.1" y1="735" x2="430.3" y2="735" stroke="#333" stroke-width="0.8"/>
<text x="424" y="738" class="tk" text-anchor="end">0.4</text>
<line x1="426.1" y1="752.5" x2="430.3" y2="752.5" stroke="#333" stroke-width="0.8"/>
<text x="424" y="755.5" class="tk" text-anchor="end">0.2</text>
<line x1="426.1" y1="770.1" x2="430.3" y2="770.1" stroke="#333" stroke-width="0.8"/>
<text x="424" y="773.1" class="tk" text-anchor="end">0.0</text>
<polyline points="446.78,745.8 481.25,733.1 515.72,751.7" fill="none" stroke="#ff0000" stroke-width="1.35" stroke-linejoin="round"/>
<path d="M446.78 740.1V750.8M443.48 740.1H450.08M443.48 750.8H450.08M481.25 722.7V743.5M477.95 722.7H484.55M477.95 743.5H484.55M515.72 746.4V757.4M512.42 746.4H519.02M512.42 757.4H519.02" fill="none" stroke="#ff0000" stroke-width="1.1"/>
<circle cx="446.78" cy="745.8" r="2.05" fill="#ff0000"/>
<circle cx="481.25" cy="733.1" r="2.05" fill="#ff0000"/>
<circle cx="515.72" cy="751.7" r="2.05" fill="#ff0000"/>
<polyline points="446.78,731.8 481.25,736.9 515.72,763.5" fill="none" stroke="#0000ff" stroke-width="1.35" stroke-linejoin="round"/>
<path d="M446.78 716V747.9M443.48 716H450.08M443.48 747.9H450.08M481.25 726.1V747.9M477.95 726.1H484.55M477.95 747.9H484.55M515.72 758.7V768.2M512.42 758.7H519.02M512.42 768.2H519.02" fill="none" stroke="#0000ff" stroke-width="1.1"/>
<circle cx="446.78" cy="731.8" r="2.05" fill="#0000ff"/>
<circle cx="481.25" cy="736.9" r="2.05" fill="#0000ff"/>
<circle cx="515.72" cy="763.5" r="2.05" fill="#0000ff"/>
<rect x="426.1" y="713.54" width="110.3" height="57" fill="none" stroke="#333333" stroke-width="0.6"/>
<rect x="426.1" y="698.34" width="110.3" height="15.2" fill="#d9d9d9" stroke="#333333" stroke-width="0.6"/>
<text x="481.25" y="707.3" class="st" text-anchor="middle">Veillonella ratti</text>
<rect x="557.6" y="713.54" width="110.3" height="57" fill="#fff"/>
<line x1="557.6" y1="716.4" x2="561.8" y2="716.4" stroke="#333" stroke-width="0.8"/>
<text x="555.5" y="719.4" class="tk" text-anchor="end">0.5</text>
<line x1="557.6" y1="732.4" x2="561.8" y2="732.4" stroke="#333" stroke-width="0.8"/>
<text x="555.5" y="735.4" class="tk" text-anchor="end">0.4</text>
<line x1="557.6" y1="748.1" x2="561.8" y2="748.1" stroke="#333" stroke-width="0.8"/>
<text x="555.5" y="751.1" class="tk" text-anchor="end">0.3</text>
<line x1="557.6" y1="763.7" x2="561.8" y2="763.7" stroke="#333" stroke-width="0.8"/>
<text x="555.5" y="766.7" class="tk" text-anchor="end">0.2</text>
<polyline points="578.28,749.6 612.75,732.7 647.22,756.8" fill="none" stroke="#ff0000" stroke-width="1.35" stroke-linejoin="round"/>
<path d="M578.28 742.2V757.4M574.98 742.2H581.58M574.98 757.4H581.58M612.75 716.6V748.9M609.45 716.6H616.05M609.45 748.9H616.05M647.22 751.1V762.5M643.92 751.1H650.52M643.92 762.5H650.52" fill="none" stroke="#ff0000" stroke-width="1.1"/>
<circle cx="578.28" cy="749.6" r="2.05" fill="#ff0000"/>
<circle cx="612.75" cy="732.7" r="2.05" fill="#ff0000"/>
<circle cx="647.22" cy="756.8" r="2.05" fill="#ff0000"/>
<polyline points="578.28,761.8 612.75,757.2 647.22,732.2" fill="none" stroke="#0000ff" stroke-width="1.35" stroke-linejoin="round"/>
<path d="M578.28 755.3V768.2M574.98 755.3H581.58M574.98 768.2H581.58M612.75 746.8V767.8M609.45 746.8H616.05M609.45 767.8H616.05M647.22 716V748.5M643.92 716H650.52M643.92 748.5H650.52" fill="none" stroke="#0000ff" stroke-width="1.1"/>
<circle cx="578.28" cy="761.8" r="2.05" fill="#0000ff"/>
<circle cx="612.75" cy="757.2" r="2.05" fill="#0000ff"/>
<circle cx="647.22" cy="732.2" r="2.05" fill="#0000ff"/>
<rect x="557.6" y="713.54" width="110.3" height="57" fill="none" stroke="#333333" stroke-width="0.6"/>
<rect x="557.6" y="698.34" width="110.3" height="15.2" fill="#d9d9d9" stroke="#333333" stroke-width="0.6"/>
<text x="612.75" y="707.3" class="st" text-anchor="middle">Catenibacterium mitsuokai</text>
<rect x="42.4" y="790.38" width="110.3" height="57" fill="#fff"/>
<line x1="42.4" y1="797.3" x2="46.6" y2="797.3" stroke="#333" stroke-width="0.8"/>
<text x="40.3" y="800.3" class="tk" text-anchor="end">0.5</text>
<line x1="42.4" y1="813.7" x2="46.6" y2="813.7" stroke="#333" stroke-width="0.8"/>
<text x="40.3" y="816.7" class="tk" text-anchor="end">0.4</text>
<line x1="42.4" y1="830.2" x2="46.6" y2="830.2" stroke="#333" stroke-width="0.8"/>
<text x="40.3" y="833.2" class="tk" text-anchor="end">0.3</text>
<line x1="42.4" y1="846.5" x2="46.6" y2="846.5" stroke="#333" stroke-width="0.8"/>
<text x="40.3" y="849.5" class="tk" text-anchor="end">0.2</text>
<polyline points="63.08,838.9 97.55,840 132.02,815.8" fill="none" stroke="#ff0000" stroke-width="1.35" stroke-linejoin="round"/>
<path d="M63.08 833.8V843.8M59.78 833.8H66.38M59.78 843.8H66.38M97.55 835.7V845.2M94.25 835.7H100.85M94.25 845.2H100.85M132.02 792.6V838.5M128.72 792.6H135.32M128.72 838.5H135.32" fill="none" stroke="#ff0000" stroke-width="1.1"/>
<circle cx="63.08" cy="838.9" r="2.05" fill="#ff0000"/>
<circle cx="97.55" cy="840" r="2.05" fill="#ff0000"/>
<circle cx="132.02" cy="815.8" r="2.05" fill="#ff0000"/>
<polyline points="63.08,834.2 97.55,834 132.02,819.9" fill="none" stroke="#0000ff" stroke-width="1.35" stroke-linejoin="round"/>
<path d="M63.08 825.2V843.8M59.78 825.2H66.38M59.78 843.8H66.38M97.55 825.2V842.3M94.25 825.2H100.85M94.25 842.3H100.85M132.02 810.4V829.4M128.72 810.4H135.32M128.72 829.4H135.32" fill="none" stroke="#0000ff" stroke-width="1.1"/>
<circle cx="63.08" cy="834.2" r="2.05" fill="#0000ff"/>
<circle cx="97.55" cy="834" r="2.05" fill="#0000ff"/>
<circle cx="132.02" cy="819.9" r="2.05" fill="#0000ff"/>
<rect x="42.4" y="790.38" width="110.3" height="57" fill="none" stroke="#333333" stroke-width="0.6"/>
<rect x="42.4" y="775.18" width="110.3" height="15.2" fill="#d9d9d9" stroke="#333333" stroke-width="0.6"/>
<text x="97.55" y="784.6" class="st" text-anchor="middle">Phascolarctobacterium succinatutens</text>
<rect x="170.5" y="790.38" width="110.3" height="57" fill="#fff"/>
<line x1="170.5" y1="806.6" x2="174.7" y2="806.6" stroke="#333" stroke-width="0.8"/>
<text x="168.4" y="809.6" class="tk" text-anchor="end">0.32</text>
<line x1="170.5" y1="822.8" x2="174.7" y2="822.8" stroke="#333" stroke-width="0.8"/>
<text x="168.4" y="825.8" class="tk" text-anchor="end">0.28</text>
<line x1="170.5" y1="839.1" x2="174.7" y2="839.1" stroke="#333" stroke-width="0.8"/>
<text x="168.4" y="842.1" class="tk" text-anchor="end">0.24</text>
<polyline points="191.18,820.1 225.65,808.7 260.12,820.5" fill="none" stroke="#ff0000" stroke-width="1.35" stroke-linejoin="round"/>
<path d="M191.18 813.3V827.1M187.88 813.3H194.48M187.88 827.1H194.48M225.65 801.1V816.7M222.35 801.1H228.95M222.35 816.7H228.95M260.12 814.4V826.2M256.82 814.4H263.42M256.82 826.2H263.42" fill="none" stroke="#ff0000" stroke-width="1.1"/>
<circle cx="191.18" cy="820.1" r="2.05" fill="#ff0000"/>
<circle cx="225.65" cy="808.7" r="2.05" fill="#ff0000"/>
<circle cx="260.12" cy="820.5" r="2.05" fill="#ff0000"/>
<polyline points="191.18,813.9 225.65,804.4 260.12,834.7" fill="none" stroke="#0000ff" stroke-width="1.35" stroke-linejoin="round"/>
<path d="M191.18 805.3V822M187.88 805.3H194.48M187.88 822H194.48M225.65 792.6V816.3M222.35 792.6H228.95M222.35 816.3H228.95M260.12 824.3V845.2M256.82 824.3H263.42M256.82 845.2H263.42" fill="none" stroke="#0000ff" stroke-width="1.1"/>
<circle cx="191.18" cy="813.9" r="2.05" fill="#0000ff"/>
<circle cx="225.65" cy="804.4" r="2.05" fill="#0000ff"/>
<circle cx="260.12" cy="834.7" r="2.05" fill="#0000ff"/>
<rect x="170.5" y="790.38" width="110.3" height="57" fill="none" stroke="#333333" stroke-width="0.6"/>
<rect x="170.5" y="775.18" width="110.3" height="15.2" fill="#d9d9d9" stroke="#333333" stroke-width="0.6"/>
<text x="225.65" y="784.6" class="st" text-anchor="middle">Lachnospiraceae sp.</text>
<rect x="298.2" y="790.38" width="110.3" height="57" fill="#fff"/>
<line x1="298.2" y1="801.1" x2="302.4" y2="801.1" stroke="#333" stroke-width="0.8"/>
<text x="296.1" y="804.1" class="tk" text-anchor="end">0.40</text>
<line x1="298.2" y1="812.9" x2="302.4" y2="812.9" stroke="#333" stroke-width="0.8"/>
<text x="296.1" y="815.9" class="tk" text-anchor="end">0.35</text>
<line x1="298.2" y1="824.7" x2="302.4" y2="824.7" stroke="#333" stroke-width="0.8"/>
<text x="296.1" y="827.7" class="tk" text-anchor="end">0.30</text>
<line x1="298.2" y1="836.3" x2="302.4" y2="836.3" stroke="#333" stroke-width="0.8"/>
<text x="296.1" y="839.3" class="tk" text-anchor="end">0.25</text>
<polyline points="318.88,839.5 353.35,836.3 387.82,827.1" fill="none" stroke="#ff0000" stroke-width="1.35" stroke-linejoin="round"/>
<path d="M318.88 833.8V845.2M315.58 833.8H322.18M315.58 845.2H322.18M353.35 829.4V842.7M350.05 829.4H356.65M350.05 842.7H356.65M387.82 820.1V834.4M384.52 820.1H391.12M384.52 834.4H391.12" fill="none" stroke="#ff0000" stroke-width="1.1"/>
<circle cx="318.88" cy="839.5" r="2.05" fill="#ff0000"/>
<circle cx="353.35" cy="836.3" r="2.05" fill="#ff0000"/>
<circle cx="387.82" cy="827.1" r="2.05" fill="#ff0000"/>
<polyline points="318.88,819.9 353.35,829.6 387.82,804.4" fill="none" stroke="#0000ff" stroke-width="1.35" stroke-linejoin="round"/>
<path d="M318.88 810.6V829.4M315.58 810.6H322.18M315.58 829.4H322.18M353.35 820.5V838.5M350.05 820.5H356.65M350.05 838.5H356.65M387.82 792.6V816.3M384.52 792.6H391.12M384.52 816.3H391.12" fill="none" stroke="#0000ff" stroke-width="1.1"/>
<circle cx="318.88" cy="819.9" r="2.05" fill="#0000ff"/>
<circle cx="353.35" cy="829.6" r="2.05" fill="#0000ff"/>
<circle cx="387.82" cy="804.4" r="2.05" fill="#0000ff"/>
<rect x="298.2" y="790.38" width="110.3" height="57" fill="none" stroke="#333333" stroke-width="0.6"/>
<rect x="298.2" y="775.18" width="110.3" height="15.2" fill="#d9d9d9" stroke="#333333" stroke-width="0.6"/>
<text x="353.35" y="784.6" class="st" text-anchor="middle">Eubacterium coprostanoligenes</text>
<rect x="426.1" y="790.38" width="110.3" height="57" fill="#fff"/>
<line x1="426.1" y1="796.4" x2="430.3" y2="796.4" stroke="#333" stroke-width="0.8"/>
<text x="424" y="799.4" class="tk" text-anchor="end">0.6</text>
<line x1="426.1" y1="806.6" x2="430.3" y2="806.6" stroke="#333" stroke-width="0.8"/>
<text x="424" y="809.6" class="tk" text-anchor="end">0.5</text>
<line x1="426.1" y1="816.9" x2="430.3" y2="816.9" stroke="#333" stroke-width="0.8"/>
<text x="424" y="819.9" class="tk" text-anchor="end">0.4</text>
<line x1="426.1" y1="827.1" x2="430.3" y2="827.1" stroke="#333" stroke-width="0.8"/>
<text x="424" y="830.1" class="tk" text-anchor="end">0.3</text>
<line x1="426.1" y1="837.2" x2="430.3" y2="837.2" stroke="#333" stroke-width="0.8"/>
<text x="424" y="840.2" class="tk" text-anchor="end">0.2</text>
<line x1="426.1" y1="847.3" x2="430.3" y2="847.3" stroke="#333" stroke-width="0.8"/>
<text x="424" y="850.3" class="tk" text-anchor="end">0.1</text>
<polyline points="446.78,828.7 481.25,830.6 515.72,835.9" fill="none" stroke="#ff0000" stroke-width="1.35" stroke-linejoin="round"/>
<path d="M446.78 819.5V837.2M443.48 819.5H450.08M443.48 837.2H450.08M481.25 821.4V839.5M477.95 821.4H484.55M477.95 839.5H484.55M515.72 829.4V843.3M512.42 829.4H519.02M512.42 843.3H519.02" fill="none" stroke="#ff0000" stroke-width="1.1"/>
<circle cx="446.78" cy="828.7" r="2.05" fill="#ff0000"/>
<circle cx="481.25" cy="830.6" r="2.05" fill="#ff0000"/>
<circle cx="515.72" cy="835.9" r="2.05" fill="#ff0000"/>
<polyline points="446.78,829.4 481.25,831.3 515.72,808.5" fill="none" stroke="#0000ff" stroke-width="1.35" stroke-linejoin="round"/>
<path d="M446.78 819.5V839.7M443.48 819.5H450.08M443.48 839.7H450.08M481.25 819.2V845.2M477.95 819.2H484.55M477.95 845.2H484.55M515.72 792.6V824.3M512.42 792.6H519.02M512.42 824.3H519.02" fill="none" stroke="#0000ff" stroke-width="1.1"/>
<circle cx="446.78" cy="829.4" r="2.05" fill="#0000ff"/>
<circle cx="481.25" cy="831.3" r="2.05" fill="#0000ff"/>
<circle cx="515.72" cy="808.5" r="2.05" fill="#0000ff"/>
<rect x="426.1" y="790.38" width="110.3" height="57" fill="none" stroke="#333333" stroke-width="0.6"/>
<rect x="426.1" y="775.18" width="110.3" height="15.2" fill="#d9d9d9" stroke="#333333" stroke-width="0.6"/>
<text x="481.25" y="784.6" class="st" text-anchor="middle">Prevotella nanceiensis</text>
<rect x="557.6" y="790.38" width="110.3" height="57" fill="#fff"/>
<line x1="557.6" y1="802.5" x2="561.8" y2="802.5" stroke="#333" stroke-width="0.8"/>
<text x="555.5" y="805.5" class="tk" text-anchor="end">0.30</text>
<line x1="557.6" y1="818.4" x2="561.8" y2="818.4" stroke="#333" stroke-width="0.8"/>
<text x="555.5" y="821.4" class="tk" text-anchor="end">0.27</text>
<line x1="557.6" y1="834.2" x2="561.8" y2="834.2" stroke="#333" stroke-width="0.8"/>
<text x="555.5" y="837.2" class="tk" text-anchor="end">0.24</text>
<polyline points="578.28,823.7 612.75,816.7 647.22,809.1" fill="none" stroke="#ff0000" stroke-width="1.35" stroke-linejoin="round"/>
<path d="M578.28 809.7V837.6M574.98 809.7H581.58M574.98 837.6H581.58M612.75 803V830.2M609.45 803H616.05M609.45 830.2H616.05M647.22 796.4V821.8M643.92 796.4H650.52M643.92 821.8H650.52" fill="none" stroke="#ff0000" stroke-width="1.1"/>
<circle cx="578.28" cy="823.7" r="2.05" fill="#ff0000"/>
<circle cx="612.75" cy="816.7" r="2.05" fill="#ff0000"/>
<circle cx="647.22" cy="809.1" r="2.05" fill="#ff0000"/>
<polyline points="578.28,819 612.75,830 647.22,813.3" fill="none" stroke="#0000ff" stroke-width="1.35" stroke-linejoin="round"/>
<path d="M578.28 793.4V844.8M574.98 793.4H581.58M574.98 844.8H581.58M612.75 814.8V845.2M609.45 814.8H616.05M609.45 845.2H616.05M647.22 792.6V834.2M643.92 792.6H650.52M643.92 834.2H650.52" fill="none" stroke="#0000ff" stroke-width="1.1"/>
<circle cx="578.28" cy="819" r="2.05" fill="#0000ff"/>
<circle cx="612.75" cy="830" r="2.05" fill="#0000ff"/>
<circle cx="647.22" cy="813.3" r="2.05" fill="#0000ff"/>
<rect x="557.6" y="790.38" width="110.3" height="57" fill="none" stroke="#333333" stroke-width="0.6"/>
<rect x="557.6" y="775.18" width="110.3" height="15.2" fill="#d9d9d9" stroke="#333333" stroke-width="0.6"/>
<text x="612.75" y="784.6" class="st up" text-anchor="middle">Anaerostipes sp.</text>
<rect x="42.4" y="867.22" width="110.3" height="57" fill="#fff"/>
<line x1="42.4" y1="870.2" x2="46.6" y2="870.2" stroke="#333" stroke-width="0.8"/>
<text x="40.3" y="873.2" class="tk" text-anchor="end">0.4</text>
<line x1="42.4" y1="887.4" x2="46.6" y2="887.4" stroke="#333" stroke-width="0.8"/>
<text x="40.3" y="890.4" class="tk" text-anchor="end">0.3</text>
<line x1="42.4" y1="904.7" x2="46.6" y2="904.7" stroke="#333" stroke-width="0.8"/>
<text x="40.3" y="907.7" class="tk" text-anchor="end">0.2</text>
<line x1="42.4" y1="922.2" x2="46.6" y2="922.2" stroke="#333" stroke-width="0.8"/>
<text x="40.3" y="925.2" class="tk" text-anchor="end">0.1</text>
<polyline points="63.08,896 97.55,902.2 132.02,892.4" fill="none" stroke="#ff0000" stroke-width="1.35" stroke-linejoin="round"/>
<path d="M63.08 884.8V907.2M59.78 884.8H66.38M59.78 907.2H66.38M97.55 890.9V914.2M94.25 890.9H100.85M94.25 914.2H100.85M132.02 877.2V907.4M128.72 877.2H135.32M128.72 907.4H135.32" fill="none" stroke="#ff0000" stroke-width="1.1"/>
<circle cx="63.08" cy="896" r="2.05" fill="#ff0000"/>
<circle cx="97.55" cy="902.2" r="2.05" fill="#ff0000"/>
<circle cx="132.02" cy="892.4" r="2.05" fill="#ff0000"/>
<polyline points="63.08,889.1 97.55,896 132.02,887.6" fill="none" stroke="#0000ff" stroke-width="1.35" stroke-linejoin="round"/>
<path d="M63.08 871.5V907M59.78 871.5H66.38M59.78 907H66.38M97.55 869.4V922.2M94.25 869.4H100.85M94.25 922.2H100.85M132.02 870.4V905.7M128.72 870.4H135.32M128.72 905.7H135.32" fill="none" stroke="#0000ff" stroke-width="1.1"/>
<circle cx="63.08" cy="889.1" r="2.05" fill="#0000ff"/>
<circle cx="97.55" cy="896" r="2.05" fill="#0000ff"/>
<circle cx="132.02" cy="887.6" r="2.05" fill="#0000ff"/>
<rect x="42.4" y="867.22" width="110.3" height="57" fill="none" stroke="#333333" stroke-width="0.6"/>
<rect x="42.4" y="852.02" width="110.3" height="15.2" fill="#d9d9d9" stroke="#333333" stroke-width="0.6"/>
<text x="97.55" y="861" class="st" text-anchor="middle">Pasteurella multocida</text>
<rect x="170.5" y="867.22" width="110.3" height="57" fill="#fff"/>
<line x1="170.5" y1="880.4" x2="174.7" y2="880.4" stroke="#333" stroke-width="0.8"/>
<text x="168.4" y="883.4" class="tk" text-anchor="end">0.6</text>
<line x1="170.5" y1="896.5" x2="174.7" y2="896.5" stroke="#333" stroke-width="0.8"/>
<text x="168.4" y="899.5" class="tk" text-anchor="end">0.4</text>
<line x1="170.5" y1="912.7" x2="174.7" y2="912.7" stroke="#333" stroke-width="0.8"/>
<text x="168.4" y="915.7" class="tk" text-anchor="end">0.2</text>
<polyline points="191.18,913.6 225.65,904.1 260.12,912.3" fill="none" stroke="#ff0000" stroke-width="1.35" stroke-linejoin="round"/>
<path d="M191.18 910.4V917M187.88 910.4H194.48M187.88 917H194.48M225.65 899V908.9M222.35 899H228.95M222.35 908.9H228.95M260.12 908.5V916.1M256.82 908.5H263.42M256.82 916.1H263.42" fill="none" stroke="#ff0000" stroke-width="1.1"/>
<circle cx="191.18" cy="913.6" r="2.05" fill="#ff0000"/>
<circle cx="225.65" cy="904.1" r="2.05" fill="#ff0000"/>
<circle cx="260.12" cy="912.3" r="2.05" fill="#ff0000"/>
<polyline points="191.18,913.6 225.65,890.5 260.12,918.8" fill="none" stroke="#0000ff" stroke-width="1.35" stroke-linejoin="round"/>
<path d="M191.18 911.4V917.4M187.88 911.4H194.48M187.88 917.4H194.48M225.65 869.6V911.7M222.35 869.6H228.95M222.35 911.7H228.95M260.12 915.9V922.2M256.82 915.9H263.42M256.82 922.2H263.42" fill="none" stroke="#0000ff" stroke-width="1.1"/>
<circle cx="191.18" cy="913.6" r="2.05" fill="#0000ff"/>
<circle cx="225.65" cy="890.5" r="2.05" fill="#0000ff"/>
<circle cx="260.12" cy="918.8" r="2.05" fill="#0000ff"/>
<rect x="170.5" y="867.22" width="110.3" height="57" fill="none" stroke="#333333" stroke-width="0.6"/>
<rect x="170.5" y="852.02" width="110.3" height="15.2" fill="#d9d9d9" stroke="#333333" stroke-width="0.6"/>
<text x="225.65" y="861" class="st" text-anchor="middle">Olsenella sp.</text>
<rect x="298.2" y="867.22" width="110.3" height="57" fill="#fff"/>
<line x1="298.2" y1="868.5" x2="302.4" y2="868.5" stroke="#333" stroke-width="0.8"/>
<text x="296.1" y="871.5" class="tk" text-anchor="end">0.35</text>
<line x1="298.2" y1="882.5" x2="302.4" y2="882.5" stroke="#333" stroke-width="0.8"/>
<text x="296.1" y="885.5" class="tk" text-anchor="end">0.30</text>
<line x1="298.2" y1="896.5" x2="302.4" y2="896.5" stroke="#333" stroke-width="0.8"/>
<text x="296.1" y="899.5" class="tk" text-anchor="end">0.25</text>
<line x1="298.2" y1="911" x2="302.4" y2="911" stroke="#333" stroke-width="0.8"/>
<text x="296.1" y="914" class="tk" text-anchor="end">0.20</text>
<polyline points="318.88,916.5 353.35,906 387.82,882.3" fill="none" stroke="#ff0000" stroke-width="1.35" stroke-linejoin="round"/>
<path d="M318.88 911.7V921.8M315.58 911.7H322.18M315.58 921.8H322.18M353.35 900.7V911.4M350.05 900.7H356.65M350.05 911.4H356.65M387.82 869.6V895.6M384.52 869.6H391.12M384.52 895.6H391.12" fill="none" stroke="#ff0000" stroke-width="1.1"/>
<circle cx="318.88" cy="916.5" r="2.05" fill="#ff0000"/>
<circle cx="353.35" cy="906" r="2.05" fill="#ff0000"/>
<circle cx="387.82" cy="882.3" r="2.05" fill="#ff0000"/>
<polyline points="318.88,911.4 353.35,907.4 387.82,884.2" fill="none" stroke="#0000ff" stroke-width="1.35" stroke-linejoin="round"/>
<path d="M318.88 904.5V918.4M315.58 904.5H322.18M315.58 918.4H322.18M353.35 900.3V915.1M350.05 900.3H356.65M350.05 915.1H356.65M387.82 870.5V897.7M384.52 870.5H391.12M384.52 897.7H391.12" fill="none" stroke="#0000ff" stroke-width="1.1"/>
<circle cx="318.88" cy="911.4" r="2.05" fill="#0000ff"/>
<circle cx="353.35" cy="907.4" r="2.05" fill="#0000ff"/>
<circle cx="387.82" cy="884.2" r="2.05" fill="#0000ff"/>
<rect x="298.2" y="867.22" width="110.3" height="57" fill="none" stroke="#333333" stroke-width="0.6"/>
<rect x="298.2" y="852.02" width="110.3" height="15.2" fill="#d9d9d9" stroke="#333333" stroke-width="0.6"/>
<text x="353.35" y="861" class="st" text-anchor="middle">Ruminococcaceae sp.</text>
<rect x="426.1" y="867.22" width="110.3" height="57" fill="#fff"/>
<line x1="426.1" y1="868.5" x2="430.3" y2="868.5" stroke="#333" stroke-width="0.8"/>
<text x="424" y="871.5" class="tk" text-anchor="end">0.5</text>
<line x1="426.1" y1="880.4" x2="430.3" y2="880.4" stroke="#333" stroke-width="0.8"/>
<text x="424" y="883.4" class="tk" text-anchor="end">0.4</text>
<line x1="426.1" y1="892.4" x2="430.3" y2="892.4" stroke="#333" stroke-width="0.8"/>
<text x="424" y="895.4" class="tk" text-anchor="end">0.3</text>
<line x1="426.1" y1="904.5" x2="430.3" y2="904.5" stroke="#333" stroke-width="0.8"/>
<text x="424" y="907.5" class="tk" text-anchor="end">0.2</text>
<line x1="426.1" y1="916.7" x2="430.3" y2="916.7" stroke="#333" stroke-width="0.8"/>
<text x="424" y="919.7" class="tk" text-anchor="end">0.1</text>
<polyline points="446.78,896 481.25,904.1 515.72,908.5" fill="none" stroke="#ff0000" stroke-width="1.35" stroke-linejoin="round"/>
<path d="M446.78 886.1V905.7M443.48 886.1H450.08M443.48 905.7H450.08M481.25 896.5V911.4M477.95 896.5H484.55M477.95 911.4H484.55M515.72 901.9V915.1M512.42 901.9H519.02M512.42 915.1H519.02" fill="none" stroke="#ff0000" stroke-width="1.1"/>
<circle cx="446.78" cy="896" r="2.05" fill="#ff0000"/>
<circle cx="481.25" cy="904.1" r="2.05" fill="#ff0000"/>
<circle cx="515.72" cy="908.5" r="2.05" fill="#ff0000"/>
<polyline points="446.78,888.4 481.25,915.1 515.72,896.9" fill="none" stroke="#0000ff" stroke-width="1.35" stroke-linejoin="round"/>
<path d="M446.78 869.6V907.2M443.48 869.6H450.08M443.48 907.2H450.08M481.25 908.3V922.2M477.95 908.3H484.55M477.95 922.2H484.55M515.72 880.4V913.3M512.42 880.4H519.02M512.42 913.3H519.02" fill="none" stroke="#0000ff" stroke-width="1.1"/>
<circle cx="446.78" cy="888.4" r="2.05" fill="#0000ff"/>
<circle cx="481.25" cy="915.1" r="2.05" fill="#0000ff"/>
<circle cx="515.72" cy="896.9" r="2.05" fill="#0000ff"/>
<rect x="426.1" y="867.22" width="110.3" height="57" fill="none" stroke="#333333" stroke-width="0.6"/>
<rect x="426.1" y="852.02" width="110.3" height="15.2" fill="#d9d9d9" stroke="#333333" stroke-width="0.6"/>
<text x="481.25" y="861" class="st" text-anchor="middle">Megasphaera micronuciformis</text>
<rect x="557.6" y="867.22" width="110.3" height="57" fill="#fff"/>
<line x1="557.6" y1="879.5" x2="561.8" y2="879.5" stroke="#333" stroke-width="0.8"/>
<text x="555.5" y="882.5" class="tk" text-anchor="end">0.250</text>
<line x1="557.6" y1="894.7" x2="561.8" y2="894.7" stroke="#333" stroke-width="0.8"/>
<text x="555.5" y="897.7" class="tk" text-anchor="end">0.225</text>
<line x1="557.6" y1="910" x2="561.8" y2="910" stroke="#333" stroke-width="0.8"/>
<text x="555.5" y="913" class="tk" text-anchor="end">0.200</text>
<polyline points="578.28,915 612.75,904.1 647.22,896.5" fill="none" stroke="#ff0000" stroke-width="1.35" stroke-linejoin="round"/>
<path d="M578.28 907.9V921.8M574.98 907.9H581.58M574.98 921.8H581.58M612.75 896.5V912.1M609.45 896.5H616.05M609.45 912.1H616.05M647.22 887.6V906.4M643.92 887.6H650.52M643.92 906.4H650.52" fill="none" stroke="#ff0000" stroke-width="1.1"/>
<circle cx="578.28" cy="915" r="2.05" fill="#ff0000"/>
<circle cx="612.75" cy="904.1" r="2.05" fill="#ff0000"/>
<circle cx="647.22" cy="896.5" r="2.05" fill="#ff0000"/>
<polyline points="578.28,882.7 612.75,892.4 647.22,894.3" fill="none" stroke="#0000ff" stroke-width="1.35" stroke-linejoin="round"/>
<path d="M578.28 869.6V895.6M574.98 869.6H581.58M574.98 895.6H581.58M612.75 880.4V904.1M609.45 880.4H616.05M609.45 904.1H616.05M647.22 881.4V907.2M643.92 881.4H650.52M643.92 907.2H650.52" fill="none" stroke="#0000ff" stroke-width="1.1"/>
<circle cx="578.28" cy="882.7" r="2.05" fill="#0000ff"/>
<circle cx="612.75" cy="892.4" r="2.05" fill="#0000ff"/>
<circle cx="647.22" cy="894.3" r="2.05" fill="#0000ff"/>
<rect x="557.6" y="867.22" width="110.3" height="57" fill="none" stroke="#333333" stroke-width="0.6"/>
<rect x="557.6" y="852.02" width="110.3" height="15.2" fill="#d9d9d9" stroke="#333333" stroke-width="0.6"/>
<text x="612.75" y="861" class="st" text-anchor="middle">Dorea sp.</text>
<rect x="42.4" y="944.06" width="110.3" height="57" fill="#fff"/>
<line x1="42.4" y1="946.4" x2="46.6" y2="946.4" stroke="#333" stroke-width="0.8"/>
<text x="40.3" y="949.4" class="tk" text-anchor="end">0.275</text>
<line x1="42.4" y1="959.5" x2="46.6" y2="959.5" stroke="#333" stroke-width="0.8"/>
<text x="40.3" y="962.5" class="tk" text-anchor="end">0.250</text>
<line x1="42.4" y1="972.8" x2="46.6" y2="972.8" stroke="#333" stroke-width="0.8"/>
<text x="40.3" y="975.8" class="tk" text-anchor="end">0.225</text>
<line x1="42.4" y1="986.1" x2="46.6" y2="986.1" stroke="#333" stroke-width="0.8"/>
<text x="40.3" y="989.1" class="tk" text-anchor="end">0.200</text>
<line x1="42.4" y1="999.4" x2="46.6" y2="999.4" stroke="#333" stroke-width="0.8"/>
<text x="40.3" y="1002.4" class="tk" text-anchor="end">0.175</text>
<line x1="63.08" y1="1001.06" x2="63.08" y2="996.86" stroke="#333" stroke-width="0.8"/>
<line x1="97.55" y1="1001.06" x2="97.55" y2="996.86" stroke="#333" stroke-width="0.8"/>
<line x1="132.02" y1="1001.06" x2="132.02" y2="996.86" stroke="#333" stroke-width="0.8"/>
<text transform="translate(66.38,1007.16) rotate(-45)" class="tk" text-anchor="end">D1</text>
<text transform="translate(100.85,1007.16) rotate(-45)" class="tk" text-anchor="end">D15</text>
<text transform="translate(135.32,1007.16) rotate(-45)" class="tk" text-anchor="end">D85</text>
<polyline points="63.08,992.9 97.55,980.6 132.02,973" fill="none" stroke="#ff0000" stroke-width="1.35" stroke-linejoin="round"/>
<path d="M63.08 987.2V998.6M59.78 987.2H66.38M59.78 998.6H66.38M97.55 973.5V988M94.25 973.5H100.85M94.25 988H100.85M132.02 965.2V980.2M128.72 965.2H135.32M128.72 980.2H135.32" fill="none" stroke="#ff0000" stroke-width="1.1"/>
<circle cx="63.08" cy="992.9" r="2.05" fill="#ff0000"/>
<circle cx="97.55" cy="980.6" r="2.05" fill="#ff0000"/>
<circle cx="132.02" cy="973" r="2.05" fill="#ff0000"/>
<polyline points="63.08,969.2 97.55,959.9 132.02,973.2" fill="none" stroke="#0000ff" stroke-width="1.35" stroke-linejoin="round"/>
<path d="M63.08 960.3V978.3M59.78 960.3H66.38M59.78 978.3H66.38M97.55 946.4V973.5M94.25 946.4H100.85M94.25 973.5H100.85M132.02 964.4V982.7M128.72 964.4H135.32M128.72 982.7H135.32" fill="none" stroke="#0000ff" stroke-width="1.1"/>
<circle cx="63.08" cy="969.2" r="2.05" fill="#0000ff"/>
<circle cx="97.55" cy="959.9" r="2.05" fill="#0000ff"/>
<circle cx="132.02" cy="973.2" r="2.05" fill="#0000ff"/>
<rect x="42.4" y="944.06" width="110.3" height="57" fill="none" stroke="#333333" stroke-width="0.6"/>
<rect x="42.4" y="928.86" width="110.3" height="15.2" fill="#d9d9d9" stroke="#333333" stroke-width="0.6"/>
<text x="97.55" y="938.5" class="st" text-anchor="middle">Lachnoclostridium sp.</text>
<rect x="170.5" y="944.06" width="110.3" height="57" fill="#fff"/>
<line x1="170.5" y1="953.2" x2="174.7" y2="953.2" stroke="#333" stroke-width="0.8"/>
<text x="168.4" y="956.2" class="tk" text-anchor="end">0.30</text>
<line x1="170.5" y1="963.7" x2="174.7" y2="963.7" stroke="#333" stroke-width="0.8"/>
<text x="168.4" y="966.7" class="tk" text-anchor="end">0.25</text>
<line x1="170.5" y1="974.1" x2="174.7" y2="974.1" stroke="#333" stroke-width="0.8"/>
<text x="168.4" y="977.1" class="tk" text-anchor="end">0.20</text>
<line x1="170.5" y1="984.4" x2="174.7" y2="984.4" stroke="#333" stroke-width="0.8"/>
<text x="168.4" y="987.4" class="tk" text-anchor="end">0.15</text>
<line x1="170.5" y1="994.8" x2="174.7" y2="994.8" stroke="#333" stroke-width="0.8"/>
<text x="168.4" y="997.8" class="tk" text-anchor="end">0.10</text>
<line x1="191.18" y1="1001.06" x2="191.18" y2="996.86" stroke="#333" stroke-width="0.8"/>
<line x1="225.65" y1="1001.06" x2="225.65" y2="996.86" stroke="#333" stroke-width="0.8"/>
<line x1="260.12" y1="1001.06" x2="260.12" y2="996.86" stroke="#333" stroke-width="0.8"/>
<text transform="translate(194.48,1007.16) rotate(-45)" class="tk" text-anchor="end">D1</text>
<text transform="translate(228.95,1007.16) rotate(-45)" class="tk" text-anchor="end">D15</text>
<text transform="translate(263.42,1007.16) rotate(-45)" class="tk" text-anchor="end">D85</text>
<polyline points="191.18,964.4 225.65,962.2 260.12,970.3" fill="none" stroke="#ff0000" stroke-width="1.35" stroke-linejoin="round"/>
<path d="M191.18 946.4V982.5M187.88 946.4H194.48M187.88 982.5H194.48M225.65 951.2V973M222.35 951.2H228.95M222.35 973H228.95M260.12 963.7V977.3M256.82 963.7H263.42M256.82 977.3H263.42" fill="none" stroke="#ff0000" stroke-width="1.1"/>
<circle cx="191.18" cy="964.4" r="2.05" fill="#ff0000"/>
<circle cx="225.65" cy="962.2" r="2.05" fill="#ff0000"/>
<circle cx="260.12" cy="970.3" r="2.05" fill="#ff0000"/>
<polyline points="191.18,973.9 225.65,981.1 260.12,994.8" fill="none" stroke="#0000ff" stroke-width="1.35" stroke-linejoin="round"/>
<path d="M191.18 963.7V984M187.88 963.7H194.48M187.88 984H194.48M225.65 973V989.7M222.35 973H228.95M222.35 989.7H228.95M260.12 990.6V998.6M256.82 990.6H263.42M256.82 998.6H263.42" fill="none" stroke="#0000ff" stroke-width="1.1"/>
<circle cx="191.18" cy="973.9" r="2.05" fill="#0000ff"/>
<circle cx="225.65" cy="981.1" r="2.05" fill="#0000ff"/>
<circle cx="260.12" cy="994.8" r="2.05" fill="#0000ff"/>
<rect x="170.5" y="944.06" width="110.3" height="57" fill="none" stroke="#333333" stroke-width="0.6"/>
<rect x="170.5" y="928.86" width="110.3" height="15.2" fill="#d9d9d9" stroke="#333333" stroke-width="0.6"/>
<text x="225.65" y="938.5" class="st" text-anchor="middle">Parabacteroides merdae</text>
<rect x="298.2" y="944.06" width="110.3" height="57" fill="#fff"/>
<line x1="298.2" y1="947.5" x2="302.4" y2="947.5" stroke="#333" stroke-width="0.8"/>
<text x="296.1" y="950.5" class="tk" text-anchor="end">0.30</text>
<line x1="298.2" y1="960.6" x2="302.4" y2="960.6" stroke="#333" stroke-width="0.8"/>
<text x="296.1" y="963.6" class="tk" text-anchor="end">0.25</text>
<line x1="298.2" y1="973.5" x2="302.4" y2="973.5" stroke="#333" stroke-width="0.8"/>
<text x="296.1" y="976.5" class="tk" text-anchor="end">0.20</text>
<line x1="298.2" y1="986.8" x2="302.4" y2="986.8" stroke="#333" stroke-width="0.8"/>
<text x="296.1" y="989.8" class="tk" text-anchor="end">0.15</text>
<line x1="298.2" y1="1000.1" x2="302.4" y2="1000.1" stroke="#333" stroke-width="0.8"/>
<text x="296.1" y="1003.1" class="tk" text-anchor="end">0.10</text>
<line x1="318.88" y1="1001.06" x2="318.88" y2="996.86" stroke="#333" stroke-width="0.8"/>
<line x1="353.35" y1="1001.06" x2="353.35" y2="996.86" stroke="#333" stroke-width="0.8"/>
<line x1="387.82" y1="1001.06" x2="387.82" y2="996.86" stroke="#333" stroke-width="0.8"/>
<text transform="translate(322.18,1007.16) rotate(-45)" class="tk" text-anchor="end">D1</text>
<text transform="translate(356.65,1007.16) rotate(-45)" class="tk" text-anchor="end">D15</text>
<text transform="translate(391.12,1007.16) rotate(-45)" class="tk" text-anchor="end">D85</text>
<polyline points="318.88,965.6 353.35,973 387.82,962.7" fill="none" stroke="#ff0000" stroke-width="1.35" stroke-linejoin="round"/>
<path d="M318.88 952.7V978.3M315.58 952.7H322.18M315.58 978.3H322.18M353.35 961.6V983.6M350.05 961.6H356.65M350.05 983.6H356.65M387.82 951.3V974.1M384.52 951.3H391.12M384.52 974.1H391.12" fill="none" stroke="#ff0000" stroke-width="1.1"/>
<circle cx="318.88" cy="965.6" r="2.05" fill="#ff0000"/>
<circle cx="353.35" cy="973" r="2.05" fill="#ff0000"/>
<circle cx="387.82" cy="962.7" r="2.05" fill="#ff0000"/>
<polyline points="318.88,984.4 353.35,960.6 387.82,990.6" fill="none" stroke="#0000ff" stroke-width="1.35" stroke-linejoin="round"/>
<path d="M318.88 975.4V993.5M315.58 975.4H322.18M315.58 993.5H322.18M353.35 946.4V975.4M350.05 946.4H356.65M350.05 975.4H356.65M387.82 983.6V998.6M384.52 983.6H391.12M384.52 998.6H391.12" fill="none" stroke="#0000ff" stroke-width="1.1"/>
<circle cx="318.88" cy="984.4" r="2.05" fill="#0000ff"/>
<circle cx="353.35" cy="960.6" r="2.05" fill="#0000ff"/>
<circle cx="387.82" cy="990.6" r="2.05" fill="#0000ff"/>
<rect x="298.2" y="944.06" width="110.3" height="57" fill="none" stroke="#333333" stroke-width="0.6"/>
<rect x="298.2" y="928.86" width="110.3" height="15.2" fill="#d9d9d9" stroke="#333333" stroke-width="0.6"/>
<text x="353.35" y="938.5" class="st" text-anchor="middle">Roseburia faecis</text>
<rect x="426.1" y="944.06" width="110.3" height="57" fill="#fff"/>
<line x1="426.1" y1="949.4" x2="430.3" y2="949.4" stroke="#333" stroke-width="0.8"/>
<text x="424" y="952.4" class="tk" text-anchor="end">0.30</text>
<line x1="426.1" y1="962.5" x2="430.3" y2="962.5" stroke="#333" stroke-width="0.8"/>
<text x="424" y="965.5" class="tk" text-anchor="end">0.25</text>
<line x1="426.1" y1="975.6" x2="430.3" y2="975.6" stroke="#333" stroke-width="0.8"/>
<text x="424" y="978.6" class="tk" text-anchor="end">0.20</text>
<line x1="426.1" y1="988.7" x2="430.3" y2="988.7" stroke="#333" stroke-width="0.8"/>
<text x="424" y="991.7" class="tk" text-anchor="end">0.15</text>
<line x1="446.78" y1="1001.06" x2="446.78" y2="996.86" stroke="#333" stroke-width="0.8"/>
<line x1="481.25" y1="1001.06" x2="481.25" y2="996.86" stroke="#333" stroke-width="0.8"/>
<line x1="515.72" y1="1001.06" x2="515.72" y2="996.86" stroke="#333" stroke-width="0.8"/>
<text transform="translate(450.08,1007.16) rotate(-45)" class="tk" text-anchor="end">D1</text>
<text transform="translate(484.55,1007.16) rotate(-45)" class="tk" text-anchor="end">D15</text>
<text transform="translate(519.02,1007.16) rotate(-45)" class="tk" text-anchor="end">D85</text>
<polyline points="446.78,972.2 481.25,984.4 515.72,961.8" fill="none" stroke="#ff0000" stroke-width="1.35" stroke-linejoin="round"/>
<path d="M446.78 962.2V982.5M443.48 962.2H450.08M443.48 982.5H450.08M481.25 976.4V992.5M477.95 976.4H484.55M477.95 992.5H484.55M515.72 947.9V975.4M512.42 947.9H519.02M512.42 975.4H519.02" fill="none" stroke="#ff0000" stroke-width="1.1"/>
<circle cx="446.78" cy="972.2" r="2.05" fill="#ff0000"/>
<circle cx="481.25" cy="984.4" r="2.05" fill="#ff0000"/>
<circle cx="515.72" cy="961.8" r="2.05" fill="#ff0000"/>
<polyline points="446.78,993.5 481.25,963.7 515.72,964.4" fill="none" stroke="#0000ff" stroke-width="1.35" stroke-linejoin="round"/>
<path d="M446.78 988.7V998.6M443.48 988.7H450.08M443.48 998.6H450.08M481.25 947.4V980.2M477.95 947.4H484.55M477.95 980.2H484.55M515.72 946.6V983M512.42 946.6H519.02M512.42 983H519.02" fill="none" stroke="#0000ff" stroke-width="1.1"/>
<circle cx="446.78" cy="993.5" r="2.05" fill="#0000ff"/>
<circle cx="481.25" cy="963.7" r="2.05" fill="#0000ff"/>
<circle cx="515.72" cy="964.4" r="2.05" fill="#0000ff"/>
<rect x="426.1" y="944.06" width="110.3" height="57" fill="none" stroke="#333333" stroke-width="0.6"/>
<rect x="426.1" y="928.86" width="110.3" height="15.2" fill="#d9d9d9" stroke="#333333" stroke-width="0.6"/>
<text x="481.25" y="938.5" class="st" text-anchor="middle">Clostridium celatum</text>
<rect x="557.6" y="944.06" width="110.3" height="57" fill="#fff"/>
<line x1="557.6" y1="956.5" x2="561.8" y2="956.5" stroke="#333" stroke-width="0.8"/>
<text x="555.5" y="959.5" class="tk" text-anchor="end">0.3</text>
<line x1="557.6" y1="974.5" x2="561.8" y2="974.5" stroke="#333" stroke-width="0.8"/>
<text x="555.5" y="977.5" class="tk" text-anchor="end">0.2</text>
<line x1="557.6" y1="992.5" x2="561.8" y2="992.5" stroke="#333" stroke-width="0.8"/>
<text x="555.5" y="995.5" class="tk" text-anchor="end">0.1</text>
<line x1="578.28" y1="1001.06" x2="578.28" y2="996.86" stroke="#333" stroke-width="0.8"/>
<line x1="612.75" y1="1001.06" x2="612.75" y2="996.86" stroke="#333" stroke-width="0.8"/>
<line x1="647.22" y1="1001.06" x2="647.22" y2="996.86" stroke="#333" stroke-width="0.8"/>
<text transform="translate(581.58,1007.16) rotate(-45)" class="tk" text-anchor="end">D1</text>
<text transform="translate(616.05,1007.16) rotate(-45)" class="tk" text-anchor="end">D15</text>
<text transform="translate(650.52,1007.16) rotate(-45)" class="tk" text-anchor="end">D85</text>
<polyline points="578.28,961.8 612.75,958.7 647.22,995.4" fill="none" stroke="#ff0000" stroke-width="1.35" stroke-linejoin="round"/>
<path d="M578.28 948.9V974.7M574.98 948.9H581.58M574.98 974.7H581.58M612.75 946.4V971.7M609.45 946.4H616.05M609.45 971.7H616.05M647.22 992.5V998.6M643.92 992.5H650.52M643.92 998.6H650.52" fill="none" stroke="#ff0000" stroke-width="1.1"/>
<circle cx="578.28" cy="961.8" r="2.05" fill="#ff0000"/>
<circle cx="612.75" cy="958.7" r="2.05" fill="#ff0000"/>
<circle cx="647.22" cy="995.4" r="2.05" fill="#ff0000"/>
<polyline points="578.28,977.9 612.75,974.7 647.22,972.6" fill="none" stroke="#0000ff" stroke-width="1.35" stroke-linejoin="round"/>
<path d="M578.28 968.4V987.4M574.98 968.4H581.58M574.98 987.4H581.58M612.75 963.1V986.3M609.45 963.1H616.05M609.45 986.3H616.05M647.22 953.1V992.5M643.92 953.1H650.52M643.92 992.5H650.52" fill="none" stroke="#0000ff" stroke-width="1.1"/>
<circle cx="578.28" cy="977.9" r="2.05" fill="#0000ff"/>
<circle cx="612.75" cy="974.7" r="2.05" fill="#0000ff"/>
<circle cx="647.22" cy="972.6" r="2.05" fill="#0000ff"/>
<rect x="557.6" y="944.06" width="110.3" height="57" fill="none" stroke="#333333" stroke-width="0.6"/>
<rect x="557.6" y="928.86" width="110.3" height="15.2" fill="#d9d9d9" stroke="#333333" stroke-width="0.6"/>
<text x="612.75" y="938.5" class="st" text-anchor="middle">Ureaplasma canigenitalium</text>
<text x="2.8" y="12" class="lab">(A)</text>
<text x="2.8" y="240.6" class="lab">(B)</text>
<text transform="translate(22.2,626.5) rotate(-90)" class="ax" text-anchor="middle">Mean Relative Abundance (%) ± SEM</text>
<text x="355.2" y="1024.1" class="ax" text-anchor="middle">Timepoint</text>
<text x="310" y="1047.4" class="lg">Ill Status</text>
<line x1="343.7" y1="1044.8" x2="354.6" y2="1044.8" stroke="#ff0000" stroke-width="1.35"/>
<circle cx="349.1" cy="1044.8" r="2.05" fill="#ff0000"/>
<text x="359.6" y="1047.1" class="lt">Ill</text>
<line x1="369" y1="1044.8" x2="379.8" y2="1044.8" stroke="#0000ff" stroke-width="1.35"/>
<circle cx="374.3" cy="1044.8" r="2.05" fill="#0000ff"/>
<text x="384.8" y="1047.1" class="lt">Not-Ill</text>
</svg>
</body></html>
